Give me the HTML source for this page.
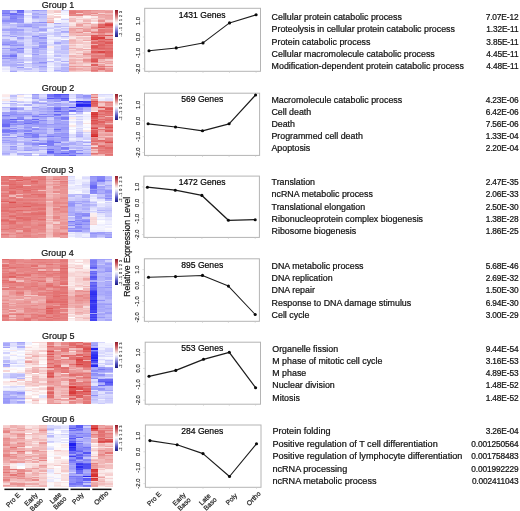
<!DOCTYPE html><html><head><meta charset="utf-8"><style>
*{margin:0;padding:0}
html,body{width:520px;height:511px;background:#fff;overflow:hidden}
body{position:relative;font-family:"Liberation Sans",sans-serif}
.hc{position:absolute}
.lg{position:absolute;width:2.6px;height:26.3px;background:linear-gradient(#8c1c28 0%,#b83c48 12%,#d88080 25%,#f0d0d0 38%,#fafafa 48%,#d8d8f4 58%,#9898e0 70%,#4848b8 85%,#1c1c80 100%)}
svg{position:absolute;left:0;top:0;will-change:transform}
text{font-family:"Liberation Sans",sans-serif;fill:#222}
.gt{font-size:9px;text-anchor:middle;fill:#111;stroke:#111;stroke-width:0.2px}
.gn{font-size:8.6px;text-anchor:middle;fill:#000;stroke:#000;stroke-width:0.2px}
.yt{font-size:5.9px;text-anchor:middle;dominant-baseline:middle;fill:#1a1a1a;stroke:#1a1a1a;stroke-width:0.15px}
.lgl{font-size:3.6px;fill:#333;dominant-baseline:middle;stroke:#333;stroke-width:0.15px}
.xl{font-size:6.8px;text-anchor:middle;dominant-baseline:middle;fill:#222;stroke:#222;stroke-width:0.2px}
.go{font-size:8.85px;fill:#111;stroke:#111;stroke-width:0.22px}
.pv{font-size:8.3px;text-anchor:end;fill:#111;stroke:#111;stroke-width:0.22px;letter-spacing:-0.12px}
.axl{font-size:8.7px;text-anchor:middle;fill:#111;stroke:#111;stroke-width:0.2px}
</style></head><body>
<div class="hc" style="left:2.40px;top:10.30px;width:7.37px;height:62.20px;background:linear-gradient(#8585f7 0.00px 1.30px,#8a8af7 1.30px 2.59px,#7474f6 2.59px 3.89px,#9696f8 3.89px 5.18px,#8989f7 5.18px 6.48px,#b6b6fa 6.48px 7.78px,#a6a6f9 7.78px 9.07px,#a0a0f9 9.07px 10.37px,#8c8cf7 10.37px 11.66px,#aaaaf9 11.66px 12.96px,#aeaefa 12.96px 14.25px,#bfbffb 14.25px 15.55px,#d1d1fc 15.55px 16.85px,#cdcdfc 16.85px 18.14px,#bcbcfb 18.14px 19.44px,#a2a2f9 19.44px 20.73px,#cdcdfc 20.73px 22.03px,#bdbdfb 22.03px 23.33px,#d0d0fc 23.33px 24.62px,#ababf9 24.62px 25.92px,#c5c5fb 25.92px 27.21px,#d8d8fc 27.21px 28.51px,#b1b1fa 28.51px 29.80px,#b4b4fa 29.80px 31.10px,#acacf9 31.10px 32.40px,#9d9df8 32.40px 33.69px,#8888f7 33.69px 34.99px,#afaffa 34.99px 36.28px,#d3d3fc 36.28px 37.58px,#9e9ef9 37.58px 38.88px,#c8c8fb 38.88px 40.17px,#bbbbfa 40.17px 41.47px,#bdbdfb 41.47px 42.76px,#b0b0fa 42.76px 44.06px,#babafa 44.06px 45.35px,#8f8ff8 45.35px 46.65px,#b6b6fa 46.65px 47.95px,#9191f8 47.95px 49.24px,#bfbffb 49.24px 50.54px,#b2b2fa 50.54px 51.83px,#b4b4fa 51.83px 53.13px,#bebefb 53.13px 54.43px,#b4b4fa 54.43px 55.72px,#d8d8fc 55.72px 57.02px,#f1f1fe 57.02px 58.31px,#e7e7fd 58.31px 59.61px,#f4f4fe 59.61px 60.90px,#efeffe 60.90px 62.20px)"></div>
<div class="hc" style="left:9.75px;top:10.30px;width:7.37px;height:62.20px;background:linear-gradient(#9d9df8 0.00px 1.30px,#ccccfc 1.30px 2.59px,#6c6cf5 2.59px 3.89px,#6969f5 3.89px 5.18px,#8b8bf7 5.18px 6.48px,#8383f7 6.48px 7.78px,#7a7af6 7.78px 9.07px,#8989f7 9.07px 10.37px,#8a8af7 10.37px 11.66px,#acacf9 11.66px 12.96px,#e2e2fd 12.96px 14.25px,#bcbcfb 14.25px 15.55px,#c4c4fb 15.55px 16.85px,#c3c3fb 16.85px 18.14px,#aaaaf9 18.14px 19.44px,#a0a0f9 19.44px 20.73px,#acacf9 20.73px 22.03px,#a4a4f9 22.03px 23.33px,#adadfa 23.33px 24.62px,#c7c7fb 24.62px 25.92px,#9c9cf8 25.92px 27.21px,#dcdcfd 27.21px 28.51px,#e1e1fd 28.51px 29.80px,#c0c0fb 29.80px 31.10px,#9d9df8 31.10px 32.40px,#9898f8 32.40px 33.69px,#a8a8f9 33.69px 34.99px,#9090f8 34.99px 36.28px,#b6b6fa 36.28px 37.58px,#a2a2f9 37.58px 38.88px,#9393f8 38.88px 40.17px,#9494f8 40.17px 41.47px,#b5b5fa 41.47px 42.76px,#a6a6f9 42.76px 44.06px,#9292f8 44.06px 45.35px,#7373f6 45.35px 46.65px,#a3a3f9 46.65px 47.95px,#9a9af8 47.95px 49.24px,#adadfa 49.24px 50.54px,#bcbcfb 50.54px 51.83px,#b9b9fa 51.83px 53.13px,#b6b6fa 53.13px 54.43px,#ababf9 54.43px 55.72px,#b3b3fa 55.72px 57.02px,#c6c6fb 57.02px 58.31px,#ccccfc 58.31px 59.61px,#c2c2fb 59.61px 60.90px,#a4a4f9 60.90px 62.20px)"></div>
<div class="hc" style="left:17.11px;top:10.30px;width:7.37px;height:62.20px;background:linear-gradient(#5f5ff4 0.00px 1.30px,#6d6df5 1.30px 2.59px,#9b9bf8 2.59px 3.89px,#7878f6 3.89px 5.18px,#8b8bf7 5.18px 6.48px,#9494f8 6.48px 7.78px,#aaaaf9 7.78px 9.07px,#9090f8 9.07px 10.37px,#9595f8 10.37px 11.66px,#9696f8 11.66px 12.96px,#bdbdfb 12.96px 14.25px,#adadfa 14.25px 15.55px,#9c9cf8 15.55px 16.85px,#bdbdfb 16.85px 18.14px,#c8c8fb 18.14px 19.44px,#9f9ff9 19.44px 20.73px,#bdbdfb 20.73px 22.03px,#b2b2fa 22.03px 23.33px,#b2b2fa 23.33px 24.62px,#b8b8fa 24.62px 25.92px,#cfcffc 25.92px 27.21px,#9d9df8 27.21px 28.51px,#babafa 28.51px 29.80px,#cbcbfc 29.80px 31.10px,#d2d2fc 31.10px 32.40px,#b6b6fa 32.40px 33.69px,#a1a1f9 33.69px 34.99px,#9898f8 34.99px 36.28px,#babafa 36.28px 37.58px,#7979f6 37.58px 38.88px,#a8a8f9 38.88px 40.17px,#a0a0f9 40.17px 41.47px,#9b9bf8 41.47px 42.76px,#cbcbfc 42.76px 44.06px,#d5d5fc 44.06px 45.35px,#d2d2fc 45.35px 46.65px,#c9c9fb 46.65px 47.95px,#cacafb 47.95px 49.24px,#b9b9fa 49.24px 50.54px,#c7c7fb 50.54px 51.83px,#a8a8f9 51.83px 53.13px,#dcdcfd 53.13px 54.43px,#aaaaf9 54.43px 55.72px,#d2d2fc 55.72px 57.02px,#9999f8 57.02px 58.31px,#c4c4fb 58.31px 59.61px,#d5d5fc 59.61px 60.90px,#e4e4fd 60.90px 62.20px)"></div>
<div class="hc" style="left:24.46px;top:10.30px;width:7.37px;height:62.20px;background:linear-gradient(#d8d8fc 0.00px 1.30px,#cfcffc 1.30px 2.59px,#f3f3fe 2.59px 3.89px,#f6f6fe 3.89px 5.18px,#d6d6fc 5.18px 6.48px,#e6e6fd 6.48px 7.78px,#f3f3fe 7.78px 9.07px,#efeffe 9.07px 10.37px,#efeffe 10.37px 11.66px,#e4e4fd 11.66px 12.96px,#c9c9fb 12.96px 14.25px,#9e9ef9 14.25px 15.55px,#9393f8 15.55px 16.85px,#bfbffb 16.85px 18.14px,#cfcffc 18.14px 19.44px,#c7c7fb 19.44px 20.73px,#d7d7fc 20.73px 22.03px,#ccccfc 22.03px 23.33px,#bdbdfb 23.33px 24.62px,#c5c5fb 24.62px 25.92px,#dfdffd 25.92px 27.21px,#c8c8fb 27.21px 28.51px,#d8d8fc 28.51px 29.80px,#dbdbfd 29.80px 31.10px,#d6d6fc 31.10px 32.40px,#dadafd 32.40px 33.69px,#d4d4fc 33.69px 34.99px,#d9d9fc 34.99px 36.28px,#cdcdfc 36.28px 37.58px,#d6d6fc 37.58px 38.88px,#e9e9fe 38.88px 40.17px,#ddddfd 40.17px 41.47px,#e3e3fd 41.47px 42.76px,#d6d6fc 42.76px 44.06px,#ddddfd 44.06px 45.35px,#f8f8ff 45.35px 46.65px,#cfcffc 46.65px 47.95px,#d5d5fc 47.95px 49.24px,#cacafb 49.24px 50.54px,#e6e6fd 50.54px 51.83px,#f8f8ff 51.83px 53.13px,#c2c2fb 53.13px 54.43px,#d3d3fc 54.43px 55.72px,#d1d1fc 55.72px 57.02px,#ebebfe 57.02px 58.31px,#bdbdfb 58.31px 59.61px,#ddddfd 59.61px 60.90px,#cecefc 60.90px 62.20px)"></div>
<div class="hc" style="left:31.81px;top:10.30px;width:7.37px;height:62.20px;background:linear-gradient(#9595f8 0.00px 1.30px,#c2c2fb 1.30px 2.59px,#a9a9f9 2.59px 3.89px,#adadfa 3.89px 5.18px,#bbbbfa 5.18px 6.48px,#a2a2f9 6.48px 7.78px,#b9b9fa 7.78px 9.07px,#d2d2fc 9.07px 10.37px,#d9d9fc 10.37px 11.66px,#a3a3f9 11.66px 12.96px,#b6b6fa 12.96px 14.25px,#acacf9 14.25px 15.55px,#b1b1fa 15.55px 16.85px,#a4a4f9 16.85px 18.14px,#b8b8fa 18.14px 19.44px,#c1c1fb 19.44px 20.73px,#b2b2fa 20.73px 22.03px,#d2d2fc 22.03px 23.33px,#cbcbfc 23.33px 24.62px,#b9b9fa 24.62px 25.92px,#8d8df7 25.92px 27.21px,#b1b1fa 27.21px 28.51px,#b5b5fa 28.51px 29.80px,#adadfa 29.80px 31.10px,#aaaaf9 31.10px 32.40px,#bcbcfb 32.40px 33.69px,#bcbcfb 33.69px 34.99px,#d9d9fc 34.99px 36.28px,#b3b3fa 36.28px 37.58px,#9696f8 37.58px 38.88px,#adadfa 38.88px 40.17px,#aaaaf9 40.17px 41.47px,#a9a9f9 41.47px 42.76px,#bcbcfb 42.76px 44.06px,#9b9bf8 44.06px 45.35px,#b9b9fa 45.35px 46.65px,#b2b2fa 46.65px 47.95px,#aeaefa 47.95px 49.24px,#b0b0fa 49.24px 50.54px,#bebefb 50.54px 51.83px,#b4b4fa 51.83px 53.13px,#a9a9f9 53.13px 54.43px,#bbbbfa 54.43px 55.72px,#c3c3fb 55.72px 57.02px,#bcbcfb 57.02px 58.31px,#d7d7fc 58.31px 59.61px,#dbdbfd 59.61px 60.90px,#d4d4fc 60.90px 62.20px)"></div>
<div class="hc" style="left:39.17px;top:10.30px;width:7.37px;height:62.20px;background:linear-gradient(#a5a5f9 0.00px 1.30px,#bebefb 1.30px 2.59px,#c9c9fb 2.59px 3.89px,#a5a5f9 3.89px 5.18px,#c3c3fb 5.18px 6.48px,#bbbbfa 6.48px 7.78px,#c3c3fb 7.78px 9.07px,#cacafb 9.07px 10.37px,#cacafb 10.37px 11.66px,#8d8df7 11.66px 12.96px,#c2c2fb 12.96px 14.25px,#acacf9 14.25px 15.55px,#c8c8fb 15.55px 16.85px,#d0d0fc 16.85px 18.14px,#ababf9 18.14px 19.44px,#a0a0f9 19.44px 20.73px,#c1c1fb 20.73px 22.03px,#ececfe 22.03px 23.33px,#b9b9fa 23.33px 24.62px,#a7a7f9 24.62px 25.92px,#c6c6fb 25.92px 27.21px,#9494f8 27.21px 28.51px,#b4b4fa 28.51px 29.80px,#aeaefa 29.80px 31.10px,#b9b9fa 31.10px 32.40px,#9797f8 32.40px 33.69px,#b1b1fa 33.69px 34.99px,#9898f8 34.99px 36.28px,#9494f8 36.28px 37.58px,#b5b5fa 37.58px 38.88px,#aeaefa 38.88px 40.17px,#c5c5fb 40.17px 41.47px,#bebefb 41.47px 42.76px,#bbbbfa 42.76px 44.06px,#d3d3fc 44.06px 45.35px,#bcbcfb 45.35px 46.65px,#bebefb 46.65px 47.95px,#afaffa 47.95px 49.24px,#b7b7fa 49.24px 50.54px,#b7b7fa 50.54px 51.83px,#8c8cf7 51.83px 53.13px,#a5a5f9 53.13px 54.43px,#bdbdfb 54.43px 55.72px,#9e9ef9 55.72px 57.02px,#b6b6fa 57.02px 58.31px,#bdbdfb 58.31px 59.61px,#cecefc 59.61px 60.90px,#afaffa 60.90px 62.20px)"></div>
<div class="hc" style="left:46.52px;top:10.30px;width:7.37px;height:62.20px;background:linear-gradient(#f7d8d8 0.00px 1.30px,#f7d9d9 1.30px 2.59px,#f9e3e3 2.59px 3.89px,#fdf6f6 3.89px 5.18px,#f9dfdf 5.18px 6.48px,#f7d7d7 6.48px 7.78px,#f3c1c1 7.78px 9.07px,#f7d5d5 9.07px 10.37px,#f2c0c0 10.37px 11.66px,#eb9b9b 11.66px 12.96px,#e4e4fd 12.96px 14.25px,#e8e8fd 14.25px 15.55px,#e9e9fe 15.55px 16.85px,#d7d7fc 16.85px 18.14px,#cdcdfc 18.14px 19.44px,#efeffe 19.44px 20.73px,#e8e8fd 20.73px 22.03px,#dbdbfd 22.03px 23.33px,#d0d0fc 23.33px 24.62px,#eeeefe 24.62px 25.92px,#e0e0fd 25.92px 27.21px,#efeffe 27.21px 28.51px,#e3e3fd 28.51px 29.80px,#f1f1fe 29.80px 31.10px,#f4f4fe 31.10px 32.40px,#e9e9fe 32.40px 33.69px,#d9d9fc 33.69px 34.99px,#dfdffd 34.99px 36.28px,#fceeee 36.28px 37.58px,#ececfe 37.58px 38.88px,#ececfe 38.88px 40.17px,#e8e8fd 40.17px 41.47px,#f8f8ff 41.47px 42.76px,#e5e5fd 42.76px 44.06px,#f9f9ff 44.06px 45.35px,#e8e8fd 45.35px 46.65px,#e3e3fd 46.65px 47.95px,#dcdcfd 47.95px 49.24px,#f5f5fe 49.24px 50.54px,#bdbdfb 50.54px 51.83px,#e2e2fd 51.83px 53.13px,#ececfe 53.13px 54.43px,#ebebfe 54.43px 55.72px,#f9f9ff 55.72px 57.02px,#e3e3fd 57.02px 58.31px,#f0f0fe 58.31px 59.61px,#f3f3fe 59.61px 60.90px,#ebebfe 60.90px 62.20px)"></div>
<div class="hc" style="left:53.87px;top:10.30px;width:7.37px;height:62.20px;background:linear-gradient(#f5cece 0.00px 1.30px,#f3c4c4 1.30px 2.59px,#fefcfc 2.59px 3.89px,#f8dcdc 3.89px 5.18px,#fefeff 5.18px 6.48px,#f5cece 6.48px 7.78px,#fefafa 7.78px 9.07px,#ffffff 9.07px 10.37px,#f2f2fe 10.37px 11.66px,#fdf6f6 11.66px 12.96px,#aaaaf9 12.96px 14.25px,#d9d9fc 14.25px 15.55px,#bcbcfb 15.55px 16.85px,#c6c6fb 16.85px 18.14px,#e6e6fd 18.14px 19.44px,#c8c8fb 19.44px 20.73px,#dadafd 20.73px 22.03px,#bfbffb 22.03px 23.33px,#c3c3fb 23.33px 24.62px,#cecefc 24.62px 25.92px,#ccccfc 25.92px 27.21px,#f2f2fe 27.21px 28.51px,#e2e2fd 28.51px 29.80px,#d9d9fc 29.80px 31.10px,#d3d3fc 31.10px 32.40px,#a6a6f9 32.40px 33.69px,#ccccfc 33.69px 34.99px,#e1e1fd 34.99px 36.28px,#cecefc 36.28px 37.58px,#d5d5fc 37.58px 38.88px,#cfcffc 38.88px 40.17px,#cbcbfc 40.17px 41.47px,#c2c2fb 41.47px 42.76px,#d2d2fc 42.76px 44.06px,#d4d4fc 44.06px 45.35px,#bcbcfb 45.35px 46.65px,#ededfe 46.65px 47.95px,#d0d0fc 47.95px 49.24px,#c5c5fb 49.24px 50.54px,#ebebfe 50.54px 51.83px,#d5d5fc 51.83px 53.13px,#cecefc 53.13px 54.43px,#d3d3fc 54.43px 55.72px,#e0e0fd 55.72px 57.02px,#cecefc 57.02px 58.31px,#c8c8fb 58.31px 59.61px,#a9a9f9 59.61px 60.90px,#ccccfc 60.90px 62.20px)"></div>
<div class="hc" style="left:61.23px;top:10.30px;width:7.37px;height:62.20px;background:linear-gradient(#d5d5fc 0.00px 1.30px,#efeffe 1.30px 2.59px,#f5f5fe 2.59px 3.89px,#efeffe 3.89px 5.18px,#fefeff 5.18px 6.48px,#fffdfd 6.48px 7.78px,#f1f1fe 7.78px 9.07px,#ccccfc 9.07px 10.37px,#eeeefe 10.37px 11.66px,#e8e8fd 11.66px 12.96px,#d5d5fc 12.96px 14.25px,#d9d9fc 14.25px 15.55px,#c1c1fb 15.55px 16.85px,#e8e8fd 16.85px 18.14px,#c8c8fb 18.14px 19.44px,#d7d7fc 19.44px 20.73px,#a7a7f9 20.73px 22.03px,#b1b1fa 22.03px 23.33px,#e0e0fd 23.33px 24.62px,#e9e9fe 24.62px 25.92px,#b5b5fa 25.92px 27.21px,#e0e0fd 27.21px 28.51px,#fafaff 28.51px 29.80px,#bebefb 29.80px 31.10px,#bebefb 31.10px 32.40px,#c0c0fb 32.40px 33.69px,#dadafd 33.69px 34.99px,#bfbffb 34.99px 36.28px,#bcbcfb 36.28px 37.58px,#bbbbfa 37.58px 38.88px,#b7b7fa 38.88px 40.17px,#cacafb 40.17px 41.47px,#c5c5fb 41.47px 42.76px,#c2c2fb 42.76px 44.06px,#d9d9fc 44.06px 45.35px,#cfcffc 45.35px 46.65px,#d9d9fc 46.65px 47.95px,#ddddfd 47.95px 49.24px,#dfdffd 49.24px 50.54px,#afaffa 50.54px 51.83px,#e8e8fd 51.83px 53.13px,#cecefc 53.13px 54.43px,#b7b7fa 54.43px 55.72px,#cfcffc 55.72px 57.02px,#b3b3fa 57.02px 58.31px,#b5b5fa 58.31px 59.61px,#bbbbfa 59.61px 60.90px,#afaffa 60.90px 62.20px)"></div>
<div class="hc" style="left:68.58px;top:10.30px;width:7.37px;height:62.20px;background:linear-gradient(#e68484 0.00px 1.30px,#e47878 1.30px 2.59px,#e47979 2.59px 3.89px,#e88a8a 3.89px 5.18px,#e78585 5.18px 6.48px,#f8dcdc 6.48px 7.78px,#f2bebe 7.78px 9.07px,#f3c2c2 9.07px 10.37px,#f1b9b9 10.37px 11.66px,#f9e1e1 11.66px 12.96px,#fbeaea 12.96px 14.25px,#f9e2e2 14.25px 15.55px,#f4c8c8 15.55px 16.85px,#f4caca 16.85px 18.14px,#eca1a1 18.14px 19.44px,#eda4a4 19.44px 20.73px,#efadad 20.73px 22.03px,#eda6a6 22.03px 23.33px,#f0b6b6 23.33px 24.62px,#f2bebe 24.62px 25.92px,#f8dbdb 25.92px 27.21px,#fae5e5 27.21px 28.51px,#f2bebe 28.51px 29.80px,#efafaf 29.80px 31.10px,#f0b5b5 31.10px 32.40px,#f1b9b9 32.40px 33.69px,#f7d6d6 33.69px 34.99px,#f2bebe 34.99px 36.28px,#f6d3d3 36.28px 37.58px,#efaeae 37.58px 38.88px,#f7d7d7 38.88px 40.17px,#f4c8c8 40.17px 41.47px,#f6d0d0 41.47px 42.76px,#f8dada 42.76px 44.06px,#fae4e4 44.06px 45.35px,#f0b2b2 45.35px 46.65px,#f3c4c4 46.65px 47.95px,#f5cece 47.95px 49.24px,#efb1b1 49.24px 50.54px,#f1baba 50.54px 51.83px,#efb1b1 51.83px 53.13px,#eda3a3 53.13px 54.43px,#f4c6c6 54.43px 55.72px,#ea9797 55.72px 57.02px,#f1bbbb 57.02px 58.31px,#ec9e9e 58.31px 59.61px,#efadad 59.61px 60.90px,#f5cbcb 60.90px 62.20px)"></div>
<div class="hc" style="left:75.93px;top:10.30px;width:7.37px;height:62.20px;background:linear-gradient(#e98f8f 0.00px 1.30px,#e68181 1.30px 2.59px,#f5cece 2.59px 3.89px,#e68383 3.89px 5.18px,#e68484 5.18px 6.48px,#f6d3d3 6.48px 7.78px,#fae5e5 7.78px 9.07px,#f5cccc 9.07px 10.37px,#f9e3e3 10.37px 11.66px,#f6d4d4 11.66px 12.96px,#f2bebe 12.96px 14.25px,#ec9f9f 14.25px 15.55px,#eeabab 15.55px 16.85px,#f6d2d2 16.85px 18.14px,#ea9595 18.14px 19.44px,#f2bdbd 19.44px 20.73px,#efb0b0 20.73px 22.03px,#e88e8e 22.03px 23.33px,#f2bcbc 23.33px 24.62px,#eda3a3 24.62px 25.92px,#f8dcdc 25.92px 27.21px,#f3c4c4 27.21px 28.51px,#f7d8d8 28.51px 29.80px,#f5cdcd 29.80px 31.10px,#f5cbcb 31.10px 32.40px,#f3c4c4 32.40px 33.69px,#fbe9e9 33.69px 34.99px,#f8dada 34.99px 36.28px,#f8dddd 36.28px 37.58px,#f2bebe 37.58px 38.88px,#f0b6b6 38.88px 40.17px,#f2bdbd 40.17px 41.47px,#f8dddd 41.47px 42.76px,#f2bdbd 42.76px 44.06px,#f8dbdb 44.06px 45.35px,#f3c1c1 45.35px 46.65px,#f0b5b5 46.65px 47.95px,#f8dcdc 47.95px 49.24px,#f1b7b7 49.24px 50.54px,#f6d4d4 50.54px 51.83px,#f3c2c2 51.83px 53.13px,#f1bbbb 53.13px 54.43px,#f4c6c6 54.43px 55.72px,#eca1a1 55.72px 57.02px,#f5cccc 57.02px 58.31px,#eeaaaa 58.31px 59.61px,#f2bdbd 59.61px 60.90px,#f6d0d0 60.90px 62.20px)"></div>
<div class="hc" style="left:83.29px;top:10.30px;width:7.37px;height:62.20px;background:linear-gradient(#e88a8a 0.00px 1.30px,#ea9595 1.30px 2.59px,#ea9898 2.59px 3.89px,#e99090 3.89px 5.18px,#f4c6c6 5.18px 6.48px,#fdf4f4 6.48px 7.78px,#f8dede 7.78px 9.07px,#f3c2c2 9.07px 10.37px,#f0b5b5 10.37px 11.66px,#f6d2d2 11.66px 12.96px,#eda5a5 12.96px 14.25px,#f5cdcd 14.25px 15.55px,#f1bbbb 15.55px 16.85px,#f1bbbb 16.85px 18.14px,#eeaaaa 18.14px 19.44px,#eb9b9b 19.44px 20.73px,#e88e8e 20.73px 22.03px,#f7d7d7 22.03px 23.33px,#f0b2b2 23.33px 24.62px,#eda7a7 24.62px 25.92px,#fae5e5 25.92px 27.21px,#f3c2c2 27.21px 28.51px,#f4c8c8 28.51px 29.80px,#eea9a9 29.80px 31.10px,#fbe9e9 31.10px 32.40px,#f5cccc 32.40px 33.69px,#f6d4d4 33.69px 34.99px,#f7d8d8 34.99px 36.28px,#f5cece 36.28px 37.58px,#fbeaea 37.58px 38.88px,#eeaaaa 38.88px 40.17px,#f7d6d6 40.17px 41.47px,#f2c0c0 41.47px 42.76px,#eca0a0 42.76px 44.06px,#e99090 44.06px 45.35px,#f0b3b3 45.35px 46.65px,#f4c8c8 46.65px 47.95px,#f2bcbc 47.95px 49.24px,#e98f8f 49.24px 50.54px,#eb9b9b 50.54px 51.83px,#efb1b1 51.83px 53.13px,#f4c9c9 53.13px 54.43px,#f7d9d9 54.43px 55.72px,#eb9d9d 55.72px 57.02px,#f3c1c1 57.02px 58.31px,#f0b6b6 58.31px 59.61px,#eeabab 59.61px 60.90px,#f8dbdb 60.90px 62.20px)"></div>
<div class="hc" style="left:90.64px;top:10.30px;width:7.37px;height:62.20px;background:linear-gradient(#ea9595 0.00px 1.30px,#eda4a4 1.30px 2.59px,#e78888 2.59px 3.89px,#f3c2c2 3.89px 5.18px,#eca0a0 5.18px 6.48px,#fae7e7 6.48px 7.78px,#f5cbcb 7.78px 9.07px,#f9e2e2 9.07px 10.37px,#f6d1d1 10.37px 11.66px,#f9f9ff 11.66px 12.96px,#f8dddd 12.96px 14.25px,#f0b2b2 14.25px 15.55px,#eda6a6 15.55px 16.85px,#e78989 16.85px 18.14px,#e99090 18.14px 19.44px,#f3c2c2 19.44px 20.73px,#ec9e9e 20.73px 22.03px,#e37575 22.03px 23.33px,#efafaf 23.33px 24.62px,#de5858 24.62px 25.92px,#de5b5b 25.92px 27.21px,#db4949 27.21px 28.51px,#d94040 28.51px 29.80px,#e99292 29.80px 31.10px,#e47a7a 31.10px 32.40px,#e06666 32.40px 33.69px,#efaeae 33.69px 34.99px,#df6060 34.99px 36.28px,#dd5454 36.28px 37.58px,#e06262 37.58px 38.88px,#e57b7b 38.88px 40.17px,#e68282 40.17px 41.47px,#de5a5a 41.47px 42.76px,#e57b7b 42.76px 44.06px,#e98f8f 44.06px 45.35px,#e47979 45.35px 46.65px,#e78888 46.65px 47.95px,#e26c6c 47.95px 49.24px,#de5858 49.24px 50.54px,#dc5050 50.54px 51.83px,#e57f7f 51.83px 53.13px,#efb0b0 53.13px 54.43px,#df5f5f 54.43px 55.72px,#eda4a4 55.72px 57.02px,#e88b8b 57.02px 58.31px,#e78787 58.31px 59.61px,#e37373 59.61px 60.90px,#e99191 60.90px 62.20px)"></div>
<div class="hc" style="left:97.99px;top:10.30px;width:7.37px;height:62.20px;background:linear-gradient(#ec9e9e 0.00px 1.30px,#eda3a3 1.30px 2.59px,#f6d2d2 2.59px 3.89px,#eb9c9c 3.89px 5.18px,#eea9a9 5.18px 6.48px,#eeaaaa 6.48px 7.78px,#f2bfbf 7.78px 9.07px,#eeacac 9.07px 10.37px,#e88e8e 10.37px 11.66px,#f2bfbf 11.66px 12.96px,#eca1a1 12.96px 14.25px,#e16767 14.25px 15.55px,#e16969 15.55px 16.85px,#dc5050 16.85px 18.14px,#eb9d9d 18.14px 19.44px,#e37575 19.44px 20.73px,#e47878 20.73px 22.03px,#e26e6e 22.03px 23.33px,#e88c8c 23.33px 24.62px,#e16767 24.62px 25.92px,#e68080 25.92px 27.21px,#d83e3e 27.21px 28.51px,#e26f6f 28.51px 29.80px,#e47777 29.80px 31.10px,#df5e5e 31.10px 32.40px,#e27070 32.40px 33.69px,#e06363 33.69px 34.99px,#df6060 34.99px 36.28px,#e26d6d 36.28px 37.58px,#df6161 37.58px 38.88px,#e37171 38.88px 40.17px,#e88d8d 40.17px 41.47px,#da4747 41.47px 42.76px,#e68080 42.76px 44.06px,#ea9595 44.06px 45.35px,#e47878 45.35px 46.65px,#e57e7e 46.65px 47.95px,#e57b7b 47.95px 49.24px,#efafaf 49.24px 50.54px,#f2bdbd 50.54px 51.83px,#eca0a0 51.83px 53.13px,#f4caca 53.13px 54.43px,#eca2a2 54.43px 55.72px,#e37474 55.72px 57.02px,#ea9797 57.02px 58.31px,#e37272 58.31px 59.61px,#eeaaaa 59.61px 60.90px,#f0b5b5 60.90px 62.20px)"></div>
<div class="hc" style="left:105.35px;top:10.30px;width:7.37px;height:62.20px;background:linear-gradient(#eeabab 0.00px 1.30px,#ea9898 1.30px 2.59px,#f1bbbb 2.59px 3.89px,#efb1b1 3.89px 5.18px,#eb9d9d 5.18px 6.48px,#eda5a5 6.48px 7.78px,#eda5a5 7.78px 9.07px,#efb1b1 9.07px 10.37px,#f6d3d3 10.37px 11.66px,#eca1a1 11.66px 12.96px,#df6161 12.96px 14.25px,#da4444 14.25px 15.55px,#e16868 15.55px 16.85px,#e37272 16.85px 18.14px,#e88e8e 18.14px 19.44px,#e57c7c 19.44px 20.73px,#e47777 20.73px 22.03px,#e68484 22.03px 23.33px,#efafaf 23.33px 24.62px,#dc5252 24.62px 25.92px,#eeacac 25.92px 27.21px,#eda6a6 27.21px 28.51px,#dd5656 28.51px 29.80px,#e68383 29.80px 31.10px,#e26e6e 31.10px 32.40px,#de5858 32.40px 33.69px,#e57f7f 33.69px 34.99px,#e26d6d 34.99px 36.28px,#e47878 36.28px 37.58px,#e16868 37.58px 38.88px,#e37171 38.88px 40.17px,#e37474 40.17px 41.47px,#df5e5e 41.47px 42.76px,#e06363 42.76px 44.06px,#e16767 44.06px 45.35px,#e06464 45.35px 46.65px,#e68282 46.65px 47.95px,#e88e8e 47.95px 49.24px,#f5cbcb 49.24px 50.54px,#eda3a3 50.54px 51.83px,#f0b3b3 51.83px 53.13px,#eda4a4 53.13px 54.43px,#f5cccc 54.43px 55.72px,#e88a8a 55.72px 57.02px,#f2bebe 57.02px 58.31px,#eb9b9b 58.31px 59.61px,#e88a8a 59.61px 60.90px,#ea9494 60.90px 62.20px)"></div>
<div class="lg" style="left:115.3px;top:10.3px"></div>
<div class="hc" style="left:2.40px;top:94.00px;width:7.37px;height:62.40px;background:linear-gradient(#fceeee 0.00px 1.30px,#fbe9e9 1.30px 2.60px,#f6f6fe 2.60px 3.90px,#f8f8ff 3.90px 5.20px,#fae7e7 5.20px 6.50px,#e4e4fd 6.50px 7.80px,#f2f2fe 7.80px 9.10px,#cacafb 9.10px 10.40px,#f3f3fe 10.40px 11.70px,#f4f4fe 11.70px 13.00px,#b4b4fa 13.00px 14.30px,#d2d2fc 14.30px 15.60px,#dadafd 15.60px 16.90px,#dedefd 16.90px 18.20px,#9d9df8 18.20px 19.50px,#a6a6f9 19.50px 20.80px,#7979f6 20.80px 22.10px,#9b9bf8 22.10px 23.40px,#a8a8f9 23.40px 24.70px,#8a8af7 24.70px 26.00px,#8181f7 26.00px 27.30px,#8080f7 27.30px 28.60px,#7b7bf6 28.60px 29.90px,#6969f5 29.90px 31.20px,#6969f5 31.20px 32.50px,#a7a7f9 32.50px 33.80px,#b2b2fa 33.80px 35.10px,#8585f7 35.10px 36.40px,#7676f6 36.40px 37.70px,#8181f7 37.70px 39.00px,#b6b6fa 39.00px 40.30px,#9999f8 40.30px 41.60px,#d5d5fc 41.60px 42.90px,#9999f8 42.90px 44.20px,#b8b8fa 44.20px 45.50px,#9b9bf8 45.50px 46.80px,#b6b6fa 46.80px 48.10px,#a3a3f9 48.10px 49.40px,#c3c3fb 49.40px 50.70px,#d3d3fc 50.70px 52.00px,#c0c0fb 52.00px 53.30px,#c7c7fb 53.30px 54.60px,#c7c7fb 54.60px 55.90px,#c7c7fb 55.90px 57.20px,#bcbcfb 57.20px 58.50px,#aaaaf9 58.50px 59.80px,#b6b6fa 59.80px 61.10px,#ddddfd 61.10px 62.40px)"></div>
<div class="hc" style="left:9.75px;top:94.00px;width:7.37px;height:62.40px;background:linear-gradient(#eaeafe 0.00px 1.30px,#bdbdfb 1.30px 2.60px,#d6d6fc 2.60px 3.90px,#d4d4fc 3.90px 5.20px,#e3e3fd 5.20px 6.50px,#acacf9 6.50px 7.80px,#e9e9fe 7.80px 9.10px,#b4b4fa 9.10px 10.40px,#c5c5fb 10.40px 11.70px,#dadafd 11.70px 13.00px,#a6a6f9 13.00px 14.30px,#8080f7 14.30px 15.60px,#bcbcfb 15.60px 16.90px,#a6a6f9 16.90px 18.20px,#9696f8 18.20px 19.50px,#8c8cf7 19.50px 20.80px,#a0a0f9 20.80px 22.10px,#a3a3f9 22.10px 23.40px,#b7b7fa 23.40px 24.70px,#5f5ff4 24.70px 26.00px,#9a9af8 26.00px 27.30px,#7979f6 27.30px 28.60px,#a1a1f9 28.60px 29.90px,#8787f7 29.90px 31.20px,#a7a7f9 31.20px 32.50px,#c4c4fb 32.50px 33.80px,#9393f8 33.80px 35.10px,#b7b7fa 35.10px 36.40px,#7575f6 36.40px 37.70px,#9c9cf8 37.70px 39.00px,#9696f8 39.00px 40.30px,#c8c8fb 40.30px 41.60px,#dcdcfd 41.60px 42.90px,#9696f8 42.90px 44.20px,#b8b8fa 44.20px 45.50px,#b2b2fa 45.50px 46.80px,#a2a2f9 46.80px 48.10px,#a3a3f9 48.10px 49.40px,#afaffa 49.40px 50.70px,#d1d1fc 50.70px 52.00px,#9595f8 52.00px 53.30px,#acacf9 53.30px 54.60px,#9b9bf8 54.60px 55.90px,#cbcbfc 55.90px 57.20px,#bebefb 57.20px 58.50px,#dcdcfd 58.50px 59.80px,#e4e4fd 59.80px 61.10px,#eaeafe 61.10px 62.40px)"></div>
<div class="hc" style="left:17.11px;top:94.00px;width:7.37px;height:62.40px;background:linear-gradient(#cfcffc 0.00px 1.30px,#fbecec 1.30px 2.60px,#ececfe 2.60px 3.90px,#fafaff 3.90px 5.20px,#fdf3f3 5.20px 6.50px,#d0d0fc 6.50px 7.80px,#c6c6fb 7.80px 9.10px,#f3f3fe 9.10px 10.40px,#d0d0fc 10.40px 11.70px,#f8f8ff 11.70px 13.00px,#b8b8fa 13.00px 14.30px,#a1a1f9 14.30px 15.60px,#c8c8fb 15.60px 16.90px,#d2d2fc 16.90px 18.20px,#aaaaf9 18.20px 19.50px,#9393f8 19.50px 20.80px,#9e9ef9 20.80px 22.10px,#a1a1f9 22.10px 23.40px,#8c8cf7 23.40px 24.70px,#7979f6 24.70px 26.00px,#d2d2fc 26.00px 27.30px,#9595f8 27.30px 28.60px,#9a9af8 28.60px 29.90px,#8d8df7 29.90px 31.20px,#c0c0fb 31.20px 32.50px,#b3b3fa 32.50px 33.80px,#c7c7fb 33.80px 35.10px,#a4a4f9 35.10px 36.40px,#9898f8 36.40px 37.70px,#b1b1fa 37.70px 39.00px,#c7c7fb 39.00px 40.30px,#babafa 40.30px 41.60px,#8d8df7 41.60px 42.90px,#c6c6fb 42.90px 44.20px,#c5c5fb 44.20px 45.50px,#dadafd 45.50px 46.80px,#b5b5fa 46.80px 48.10px,#b2b2fa 48.10px 49.40px,#dadafd 49.40px 50.70px,#c5c5fb 50.70px 52.00px,#e0e0fd 52.00px 53.30px,#ccccfc 53.30px 54.60px,#cbcbfc 54.60px 55.90px,#babafa 55.90px 57.20px,#ddddfd 57.20px 58.50px,#a9a9f9 58.50px 59.80px,#afaffa 59.80px 61.10px,#d5d5fc 61.10px 62.40px)"></div>
<div class="hc" style="left:24.46px;top:94.00px;width:7.37px;height:62.40px;background:linear-gradient(#e2e2fd 0.00px 1.30px,#fcfcff 1.30px 2.60px,#e2e2fd 2.60px 3.90px,#efeffe 3.90px 5.20px,#fafaff 5.20px 6.50px,#e3e3fd 6.50px 7.80px,#d6d6fc 7.80px 9.10px,#f0f0fe 9.10px 10.40px,#b1b1fa 10.40px 11.70px,#f5f5fe 11.70px 13.00px,#dedefd 13.00px 14.30px,#e6e6fd 14.30px 15.60px,#bfbffb 15.60px 16.90px,#c6c6fb 16.90px 18.20px,#a8a8f9 18.20px 19.50px,#8c8cf7 19.50px 20.80px,#aeaefa 20.80px 22.10px,#b7b7fa 22.10px 23.40px,#cecefc 23.40px 24.70px,#9999f8 24.70px 26.00px,#8787f7 26.00px 27.30px,#8a8af7 27.30px 28.60px,#6f6ff5 28.60px 29.90px,#a3a3f9 29.90px 31.20px,#a3a3f9 31.20px 32.50px,#9191f8 32.50px 33.80px,#a2a2f9 33.80px 35.10px,#aaaaf9 35.10px 36.40px,#8484f7 36.40px 37.70px,#b5b5fa 37.70px 39.00px,#7373f6 39.00px 40.30px,#8f8ff8 40.30px 41.60px,#9d9df8 41.60px 42.90px,#8a8af7 42.90px 44.20px,#c2c2fb 44.20px 45.50px,#bfbffb 45.50px 46.80px,#b6b6fa 46.80px 48.10px,#a2a2f9 48.10px 49.40px,#a1a1f9 49.40px 50.70px,#c1c1fb 50.70px 52.00px,#cacafb 52.00px 53.30px,#aeaefa 53.30px 54.60px,#b1b1fa 54.60px 55.90px,#9999f8 55.90px 57.20px,#e1e1fd 57.20px 58.50px,#a2a2f9 58.50px 59.80px,#b9b9fa 59.80px 61.10px,#acacf9 61.10px 62.40px)"></div>
<div class="hc" style="left:31.81px;top:94.00px;width:7.37px;height:62.40px;background:linear-gradient(#9898f8 0.00px 1.30px,#b2b2fa 1.30px 2.60px,#aeaefa 2.60px 3.90px,#a0a0f9 3.90px 5.20px,#d7d7fc 5.20px 6.50px,#b9b9fa 6.50px 7.80px,#9e9ef9 7.80px 9.10px,#aaaaf9 9.10px 10.40px,#d6d6fc 10.40px 11.70px,#d5d5fc 11.70px 13.00px,#9e9ef9 13.00px 14.30px,#b9b9fa 14.30px 15.60px,#b3b3fa 15.60px 16.90px,#bebefb 16.90px 18.20px,#bfbffb 18.20px 19.50px,#b0b0fa 19.50px 20.80px,#9c9cf8 20.80px 22.10px,#7878f6 22.10px 23.40px,#afaffa 23.40px 24.70px,#6464f5 24.70px 26.00px,#a8a8f9 26.00px 27.30px,#7e7ef6 27.30px 28.60px,#8e8ef7 28.60px 29.90px,#9191f8 29.90px 31.20px,#a6a6f9 31.20px 32.50px,#dfdffd 32.50px 33.80px,#9090f8 33.80px 35.10px,#8888f7 35.10px 36.40px,#b3b3fa 36.40px 37.70px,#a2a2f9 37.70px 39.00px,#9494f8 39.00px 40.30px,#7c7cf6 40.30px 41.60px,#7979f6 41.60px 42.90px,#8585f7 42.90px 44.20px,#b9b9fa 44.20px 45.50px,#8383f7 45.50px 46.80px,#d1d1fc 46.80px 48.10px,#aaaaf9 48.10px 49.40px,#8a8af7 49.40px 50.70px,#a4a4f9 50.70px 52.00px,#b3b3fa 52.00px 53.30px,#bcbcfb 53.30px 54.60px,#a7a7f9 54.60px 55.90px,#adadfa 55.90px 57.20px,#d8d8fc 57.20px 58.50px,#cacafb 58.50px 59.80px,#fcfcff 59.80px 61.10px,#d4d4fc 61.10px 62.40px)"></div>
<div class="hc" style="left:39.17px;top:94.00px;width:7.37px;height:62.40px;background:linear-gradient(#cdcdfc 0.00px 1.30px,#ddddfd 1.30px 2.60px,#d1d1fc 2.60px 3.90px,#ccccfc 3.90px 5.20px,#b5b5fa 5.20px 6.50px,#efeffe 6.50px 7.80px,#bfbffb 7.80px 9.10px,#9c9cf8 9.10px 10.40px,#ccccfc 10.40px 11.70px,#bcbcfb 11.70px 13.00px,#bdbdfb 13.00px 14.30px,#ababf9 14.30px 15.60px,#b9b9fa 15.60px 16.90px,#a7a7f9 16.90px 18.20px,#b8b8fa 18.20px 19.50px,#8282f7 19.50px 20.80px,#b8b8fa 20.80px 22.10px,#8989f7 22.10px 23.40px,#a5a5f9 23.40px 24.70px,#b7b7fa 24.70px 26.00px,#8a8af7 26.00px 27.30px,#a9a9f9 27.30px 28.60px,#a0a0f9 28.60px 29.90px,#9696f8 29.90px 31.20px,#9d9df8 31.20px 32.50px,#adadfa 32.50px 33.80px,#aeaefa 33.80px 35.10px,#9c9cf8 35.10px 36.40px,#aeaefa 36.40px 37.70px,#a6a6f9 37.70px 39.00px,#9e9ef9 39.00px 40.30px,#bdbdfb 40.30px 41.60px,#9a9af8 41.60px 42.90px,#b6b6fa 42.90px 44.20px,#cecefc 44.20px 45.50px,#b0b0fa 45.50px 46.80px,#adadfa 46.80px 48.10px,#b1b1fa 48.10px 49.40px,#7a7af6 49.40px 50.70px,#ececfe 50.70px 52.00px,#9e9ef9 52.00px 53.30px,#cacafb 53.30px 54.60px,#b2b2fa 54.60px 55.90px,#dfdffd 55.90px 57.20px,#dadafd 57.20px 58.50px,#c3c3fb 58.50px 59.80px,#c8c8fb 59.80px 61.10px,#a3a3f9 61.10px 62.40px)"></div>
<div class="hc" style="left:46.52px;top:94.00px;width:7.37px;height:62.40px;background:linear-gradient(#7777f6 0.00px 1.30px,#7676f6 1.30px 2.60px,#8f8ff8 2.60px 3.90px,#5353f4 3.90px 5.20px,#a7a7f9 5.20px 6.50px,#adadfa 6.50px 7.80px,#c0c0fb 7.80px 9.10px,#bcbcfb 9.10px 10.40px,#a8a8f9 10.40px 11.70px,#dadafd 11.70px 13.00px,#9b9bf8 13.00px 14.30px,#9f9ff9 14.30px 15.60px,#afaffa 15.60px 16.90px,#9d9df8 16.90px 18.20px,#aaaaf9 18.20px 19.50px,#9a9af8 19.50px 20.80px,#afaffa 20.80px 22.10px,#8b8bf7 22.10px 23.40px,#cbcbfc 23.40px 24.70px,#d1d1fc 24.70px 26.00px,#b9b9fa 26.00px 27.30px,#bdbdfb 27.30px 28.60px,#c3c3fb 28.60px 29.90px,#9595f8 29.90px 31.20px,#acacf9 31.20px 32.50px,#acacf9 32.50px 33.80px,#c9c9fb 33.80px 35.10px,#babafa 35.10px 36.40px,#c6c6fb 36.40px 37.70px,#c4c4fb 37.70px 39.00px,#c4c4fb 39.00px 40.30px,#9a9af8 40.30px 41.60px,#7777f6 41.60px 42.90px,#aeaefa 42.90px 44.20px,#a2a2f9 44.20px 45.50px,#8c8cf7 45.50px 46.80px,#7676f6 46.80px 48.10px,#7979f6 48.10px 49.40px,#7b7bf6 49.40px 50.70px,#8181f7 50.70px 52.00px,#a6a6f9 52.00px 53.30px,#a5a5f9 53.30px 54.60px,#7171f6 54.60px 55.90px,#9797f8 55.90px 57.20px,#5f5ff4 57.20px 58.50px,#7777f6 58.50px 59.80px,#b1b1fa 59.80px 61.10px,#b9b9fa 61.10px 62.40px)"></div>
<div class="hc" style="left:53.87px;top:94.00px;width:7.37px;height:62.40px;background:linear-gradient(#4e4ef3 0.00px 1.30px,#6363f5 1.30px 2.60px,#7474f6 2.60px 3.90px,#6868f5 3.90px 5.20px,#9d9df8 5.20px 6.50px,#9898f8 6.50px 7.80px,#d4d4fc 7.80px 9.10px,#9c9cf8 9.10px 10.40px,#a9a9f9 10.40px 11.70px,#afaffa 11.70px 13.00px,#7c7cf6 13.00px 14.30px,#6a6af5 14.30px 15.60px,#9696f8 15.60px 16.90px,#5e5ef4 16.90px 18.20px,#ababf9 18.20px 19.50px,#6565f5 19.50px 20.80px,#8080f7 20.80px 22.10px,#acacf9 22.10px 23.40px,#9292f8 23.40px 24.70px,#a2a2f9 24.70px 26.00px,#a1a1f9 26.00px 27.30px,#a6a6f9 27.30px 28.60px,#9898f8 28.60px 29.90px,#9d9df8 29.90px 31.20px,#a6a6f9 31.20px 32.50px,#a1a1f9 32.50px 33.80px,#a1a1f9 33.80px 35.10px,#7070f5 35.10px 36.40px,#9898f8 36.40px 37.70px,#babafa 37.70px 39.00px,#9696f8 39.00px 40.30px,#9b9bf8 40.30px 41.60px,#8c8cf7 41.60px 42.90px,#b5b5fa 42.90px 44.20px,#a8a8f9 44.20px 45.50px,#a3a3f9 45.50px 46.80px,#a0a0f9 46.80px 48.10px,#7373f6 48.10px 49.40px,#bbbbfa 49.40px 50.70px,#a7a7f9 50.70px 52.00px,#9797f8 52.00px 53.30px,#a3a3f9 53.30px 54.60px,#9999f8 54.60px 55.90px,#9a9af8 55.90px 57.20px,#9e9ef9 57.20px 58.50px,#7a7af6 58.50px 59.80px,#8a8af7 59.80px 61.10px,#8383f7 61.10px 62.40px)"></div>
<div class="hc" style="left:61.23px;top:94.00px;width:7.37px;height:62.40px;background:linear-gradient(#5555f4 0.00px 1.30px,#7878f6 1.30px 2.60px,#7f7ff6 2.60px 3.90px,#5151f3 3.90px 5.20px,#7070f5 5.20px 6.50px,#cfcffc 6.50px 7.80px,#cfcffc 7.80px 9.10px,#b7b7fa 9.10px 10.40px,#afaffa 10.40px 11.70px,#d2d2fc 11.70px 13.00px,#8a8af7 13.00px 14.30px,#9797f8 14.30px 15.60px,#a4a4f9 15.60px 16.90px,#7979f6 16.90px 18.20px,#9393f8 18.20px 19.50px,#9494f8 19.50px 20.80px,#bcbcfb 20.80px 22.10px,#a1a1f9 22.10px 23.40px,#7a7af6 23.40px 24.70px,#8383f7 24.70px 26.00px,#c2c2fb 26.00px 27.30px,#a2a2f9 27.30px 28.60px,#a5a5f9 28.60px 29.90px,#9b9bf8 29.90px 31.20px,#a5a5f9 31.20px 32.50px,#9696f8 32.50px 33.80px,#9999f8 33.80px 35.10px,#9a9af8 35.10px 36.40px,#a7a7f9 36.40px 37.70px,#ababf9 37.70px 39.00px,#9292f8 39.00px 40.30px,#9696f8 40.30px 41.60px,#a1a1f9 41.60px 42.90px,#8888f7 42.90px 44.20px,#9c9cf8 44.20px 45.50px,#9a9af8 45.50px 46.80px,#b9b9fa 46.80px 48.10px,#cecefc 48.10px 49.40px,#a2a2f9 49.40px 50.70px,#aaaaf9 50.70px 52.00px,#c9c9fb 52.00px 53.30px,#7c7cf6 53.30px 54.60px,#8a8af7 54.60px 55.90px,#cfcffc 55.90px 57.20px,#9090f8 57.20px 58.50px,#5b5bf4 58.50px 59.80px,#9696f8 59.80px 61.10px,#8383f7 61.10px 62.40px)"></div>
<div class="hc" style="left:68.58px;top:94.00px;width:7.37px;height:62.40px;background:linear-gradient(#d1d1fc 0.00px 1.30px,#ddddfd 1.30px 2.60px,#e5e5fd 2.60px 3.90px,#d8d8fc 3.90px 5.20px,#f8f8ff 5.20px 6.50px,#8c8cf7 6.50px 7.80px,#9696f8 7.80px 9.10px,#d5d5fc 9.10px 10.40px,#b4b4fa 10.40px 11.70px,#b9b9fa 11.70px 13.00px,#4646f3 13.00px 14.30px,#b0b0fa 14.30px 15.60px,#6a6af5 15.60px 16.90px,#6f6ff5 16.90px 18.20px,#f5f5fe 18.20px 19.50px,#c1c1fb 19.50px 20.80px,#f4f4fe 20.80px 22.10px,#dfdffd 22.10px 23.40px,#fbebeb 23.40px 24.70px,#f1f1fe 24.70px 26.00px,#fef8f8 26.00px 27.30px,#eaeafe 27.30px 28.60px,#fafaff 28.60px 29.90px,#fefafa 29.90px 31.20px,#fae7e7 31.20px 32.50px,#f6f6fe 32.50px 33.80px,#fdfdff 33.80px 35.10px,#ebebfe 35.10px 36.40px,#fefeff 36.40px 37.70px,#f5f5fe 37.70px 39.00px,#f5f5fe 39.00px 40.30px,#d9d9fc 40.30px 41.60px,#e0e0fd 41.60px 42.90px,#d7d7fc 42.90px 44.20px,#f0f0fe 44.20px 45.50px,#e5e5fd 45.50px 46.80px,#d2d2fc 46.80px 48.10px,#afaffa 48.10px 49.40px,#a9a9f9 49.40px 50.70px,#cbcbfc 50.70px 52.00px,#c7c7fb 52.00px 53.30px,#b8b8fa 53.30px 54.60px,#dfdffd 54.60px 55.90px,#8585f7 55.90px 57.20px,#7e7ef6 57.20px 58.50px,#8b8bf7 58.50px 59.80px,#9393f8 59.80px 61.10px,#6969f5 61.10px 62.40px)"></div>
<div class="hc" style="left:75.93px;top:94.00px;width:7.37px;height:62.40px;background:linear-gradient(#ababf9 0.00px 1.30px,#adadfa 1.30px 2.60px,#a4a4f9 2.60px 3.90px,#c1c1fb 3.90px 5.20px,#d5d5fc 5.20px 6.50px,#1f1ff0 6.50px 7.80px,#6565f5 7.80px 9.10px,#5d5df4 9.10px 10.40px,#2222f0 10.40px 11.70px,#2e2ef1 11.70px 13.00px,#9c9cf8 13.00px 14.30px,#9393f8 14.30px 15.60px,#a9a9f9 15.60px 16.90px,#8989f7 16.90px 18.20px,#c0c0fb 18.20px 19.50px,#dadafd 19.50px 20.80px,#f3f3fe 20.80px 22.10px,#cecefc 22.10px 23.40px,#e5e5fd 23.40px 24.70px,#d0d0fc 24.70px 26.00px,#efeffe 26.00px 27.30px,#d3d3fc 27.30px 28.60px,#d7d7fc 28.60px 29.90px,#d8d8fc 29.90px 31.20px,#e2e2fd 31.20px 32.50px,#eeeefe 32.50px 33.80px,#d6d6fc 33.80px 35.10px,#e2e2fd 35.10px 36.40px,#d5d5fc 36.40px 37.70px,#b7b7fa 37.70px 39.00px,#c5c5fb 39.00px 40.30px,#b4b4fa 40.30px 41.60px,#ababf9 41.60px 42.90px,#cacafb 42.90px 44.20px,#dedefd 44.20px 45.50px,#dfdffd 45.50px 46.80px,#adadfa 46.80px 48.10px,#c3c3fb 48.10px 49.40px,#bebefb 49.40px 50.70px,#babafa 50.70px 52.00px,#cfcffc 52.00px 53.30px,#b1b1fa 53.30px 54.60px,#c9c9fb 54.60px 55.90px,#9696f8 55.90px 57.20px,#c4c4fb 57.20px 58.50px,#7979f6 58.50px 59.80px,#b2b2fa 59.80px 61.10px,#b0b0fa 61.10px 62.40px)"></div>
<div class="hc" style="left:83.29px;top:94.00px;width:7.37px;height:62.40px;background:linear-gradient(#d9d9fc 0.00px 1.30px,#9292f8 1.30px 2.60px,#9d9df8 2.60px 3.90px,#ababf9 3.90px 5.20px,#c6c6fb 5.20px 6.50px,#3c3cf2 6.50px 7.80px,#4040f2 7.80px 9.10px,#5d5df4 9.10px 10.40px,#2525f0 10.40px 11.70px,#3636f2 11.70px 13.00px,#aaaaf9 13.00px 14.30px,#b5b5fa 14.30px 15.60px,#bdbdfb 15.60px 16.90px,#bdbdfb 16.90px 18.20px,#fefcfc 18.20px 19.50px,#ececfe 19.50px 20.80px,#f1f1fe 20.80px 22.10px,#e7e7fd 22.10px 23.40px,#f0f0fe 23.40px 24.70px,#f1f1fe 24.70px 26.00px,#fbfbff 26.00px 27.30px,#fefafa 27.30px 28.60px,#f9e3e3 28.60px 29.90px,#fdfdff 29.90px 31.20px,#f9f9ff 31.20px 32.50px,#efeffe 32.50px 33.80px,#fdfdff 33.80px 35.10px,#fffdfd 35.10px 36.40px,#fae7e7 36.40px 37.70px,#d7d7fc 37.70px 39.00px,#eeeefe 39.00px 40.30px,#dadafd 40.30px 41.60px,#dbdbfd 41.60px 42.90px,#d3d3fc 42.90px 44.20px,#cfcffc 44.20px 45.50px,#f5f5fe 45.50px 46.80px,#cacafb 46.80px 48.10px,#a3a3f9 48.10px 49.40px,#e4e4fd 49.40px 50.70px,#a9a9f9 50.70px 52.00px,#d7d7fc 52.00px 53.30px,#c7c7fb 53.30px 54.60px,#b0b0fa 54.60px 55.90px,#cecefc 55.90px 57.20px,#c1c1fb 57.20px 58.50px,#a9a9f9 58.50px 59.80px,#bfbffb 59.80px 61.10px,#b0b0fa 61.10px 62.40px)"></div>
<div class="hc" style="left:90.64px;top:94.00px;width:7.37px;height:62.40px;background:linear-gradient(#e88e8e 0.00px 1.30px,#f0b3b3 1.30px 2.60px,#e47777 2.60px 3.90px,#f3c5c5 3.90px 5.20px,#e99090 5.20px 6.50px,#db4949 6.50px 7.80px,#e06363 7.80px 9.10px,#de5858 9.10px 10.40px,#e06464 10.40px 11.70px,#e37171 11.70px 13.00px,#f3c2c2 13.00px 14.30px,#f4caca 14.30px 15.60px,#f5cfcf 15.60px 16.90px,#fae8e8 16.90px 18.20px,#d94141 18.20px 19.50px,#d73535 19.50px 20.80px,#db4d4d 20.80px 22.10px,#d83d3d 22.10px 23.40px,#de5959 23.40px 24.70px,#e37171 24.70px 26.00px,#db4b4b 26.00px 27.30px,#df6060 27.30px 28.60px,#dd5454 28.60px 29.90px,#e26f6f 29.90px 31.20px,#e78585 31.20px 32.50px,#e06464 32.50px 33.80px,#da4646 33.80px 35.10px,#e78686 35.10px 36.40px,#df5d5d 36.40px 37.70px,#dd5656 37.70px 39.00px,#de5858 39.00px 40.30px,#d73939 40.30px 41.60px,#d42727 41.60px 42.90px,#ea9797 42.90px 44.20px,#e68080 44.20px 45.50px,#e47676 45.50px 46.80px,#e16a6a 46.80px 48.10px,#ea9797 48.10px 49.40px,#e47777 49.40px 50.70px,#f2bcbc 50.70px 52.00px,#f8dcdc 52.00px 53.30px,#e57f7f 53.30px 54.60px,#f3c2c2 54.60px 55.90px,#eca2a2 55.90px 57.20px,#f3c4c4 57.20px 58.50px,#e37272 58.50px 59.80px,#e99393 59.80px 61.10px,#f2bdbd 61.10px 62.40px)"></div>
<div class="hc" style="left:97.99px;top:94.00px;width:7.37px;height:62.40px;background:linear-gradient(#d8d8fc 0.00px 1.30px,#e5e5fd 1.30px 2.60px,#fef8f8 2.60px 3.90px,#f5f5fe 3.90px 5.20px,#eaeafe 5.20px 6.50px,#eea9a9 6.50px 7.80px,#eb9d9d 7.80px 9.10px,#f3c5c5 9.10px 10.40px,#f4c9c9 10.40px 11.70px,#eca1a1 11.70px 13.00px,#db4949 13.00px 14.30px,#efb0b0 14.30px 15.60px,#e16969 15.60px 16.90px,#e06666 16.90px 18.20px,#e68181 18.20px 19.50px,#e16b6b 19.50px 20.80px,#e78989 20.80px 22.10px,#e37171 22.10px 23.40px,#e99191 23.40px 24.70px,#e26c6c 24.70px 26.00px,#e78787 26.00px 27.30px,#df6161 27.30px 28.60px,#e57b7b 28.60px 29.90px,#e37373 29.90px 31.20px,#e57e7e 31.20px 32.50px,#eb9999 32.50px 33.80px,#f1bbbb 33.80px 35.10px,#e37474 35.10px 36.40px,#ec9f9f 36.40px 37.70px,#f0b4b4 37.70px 39.00px,#eea9a9 39.00px 40.30px,#eca2a2 40.30px 41.60px,#f1b7b7 41.60px 42.90px,#ec9f9f 42.90px 44.20px,#f2bcbc 44.20px 45.50px,#e06565 45.50px 46.80px,#e37373 46.80px 48.10px,#e99393 48.10px 49.40px,#eda3a3 49.40px 50.70px,#e47777 50.70px 52.00px,#e06666 52.00px 53.30px,#e47a7a 53.30px 54.60px,#e78686 54.60px 55.90px,#e37272 55.90px 57.20px,#e68383 57.20px 58.50px,#e68080 58.50px 59.80px,#f0b3b3 59.80px 61.10px,#f2bfbf 61.10px 62.40px)"></div>
<div class="hc" style="left:105.35px;top:94.00px;width:7.37px;height:62.40px;background:linear-gradient(#d8d8fc 0.00px 1.30px,#eaeafe 1.30px 2.60px,#f3f3fe 2.60px 3.90px,#e5e5fd 3.90px 5.20px,#dfdffd 5.20px 6.50px,#efafaf 6.50px 7.80px,#e57b7b 7.80px 9.10px,#ea9696 9.10px 10.40px,#ea9494 10.40px 11.70px,#efaeae 11.70px 13.00px,#e16b6b 13.00px 14.30px,#de5858 14.30px 15.60px,#e47979 15.60px 16.90px,#df5e5e 16.90px 18.20px,#e26e6e 18.20px 19.50px,#e47777 19.50px 20.80px,#e26f6f 20.80px 22.10px,#f1b7b7 22.10px 23.40px,#e47a7a 23.40px 24.70px,#e26e6e 24.70px 26.00px,#e16969 26.00px 27.30px,#e57f7f 27.30px 28.60px,#f0b5b5 28.60px 29.90px,#e78787 29.90px 31.20px,#e16868 31.20px 32.50px,#dc4f4f 32.50px 33.80px,#e47777 33.80px 35.10px,#e47a7a 35.10px 36.40px,#de5c5c 36.40px 37.70px,#efadad 37.70px 39.00px,#eea8a8 39.00px 40.30px,#ea9898 40.30px 41.60px,#f4c7c7 41.60px 42.90px,#ec9e9e 42.90px 44.20px,#e68282 44.20px 45.50px,#e57b7b 45.50px 46.80px,#e16a6a 46.80px 48.10px,#dc4e4e 48.10px 49.40px,#e88e8e 49.40px 50.70px,#e78585 50.70px 52.00px,#e68484 52.00px 53.30px,#e16969 53.30px 54.60px,#e47979 54.60px 55.90px,#e47878 55.90px 57.20px,#e57c7c 57.20px 58.50px,#e88c8c 58.50px 59.80px,#e37373 59.80px 61.10px,#e57f7f 61.10px 62.40px)"></div>
<div class="lg" style="left:115.3px;top:94.0px"></div>
<div class="hc" style="left:1.30px;top:175.90px;width:7.40px;height:62.00px;background:linear-gradient(#e26c6c 0.00px 1.29px,#e47a7a 1.29px 2.58px,#e47777 2.58px 3.88px,#e37474 3.88px 5.17px,#e78989 5.17px 6.46px,#e37373 6.46px 7.75px,#e57c7c 7.75px 9.04px,#f1b9b9 9.04px 10.33px,#e68282 10.33px 11.62px,#e57e7e 11.62px 12.92px,#e57f7f 12.92px 14.21px,#e47979 14.21px 15.50px,#ea9494 15.50px 16.79px,#e47979 16.79px 18.08px,#e68383 18.08px 19.38px,#e47878 19.38px 20.67px,#e88d8d 20.67px 21.96px,#e88c8c 21.96px 23.25px,#e57c7c 23.25px 24.54px,#e06363 24.54px 25.83px,#ea9595 25.83px 27.12px,#e78686 27.12px 28.42px,#e57c7c 28.42px 29.71px,#e47a7a 29.71px 31.00px,#e37474 31.00px 32.29px,#e47a7a 32.29px 33.58px,#e26d6d 33.58px 34.88px,#e37171 34.88px 36.17px,#e88a8a 36.17px 37.46px,#e57f7f 37.46px 38.75px,#e78686 38.75px 40.04px,#e57d7d 40.04px 41.33px,#e88a8a 41.33px 42.62px,#e37272 42.62px 43.92px,#e16868 43.92px 45.21px,#e37474 45.21px 46.50px,#e78686 46.50px 47.79px,#e57e7e 47.79px 49.08px,#e99292 49.08px 50.38px,#e88b8b 50.38px 51.67px,#e88a8a 51.67px 52.96px,#e47777 52.96px 54.25px,#e88c8c 54.25px 55.54px,#eda3a3 55.54px 56.83px,#ea9898 56.83px 58.12px,#e47777 58.12px 59.42px,#e88d8d 59.42px 60.71px,#e99191 60.71px 62.00px)"></div>
<div class="hc" style="left:8.68px;top:175.90px;width:7.40px;height:62.00px;background:linear-gradient(#df5d5d 0.00px 1.29px,#e37373 1.29px 2.58px,#efb0b0 2.58px 3.88px,#e27070 3.88px 5.17px,#e37171 5.17px 6.46px,#e37272 6.46px 7.75px,#e06666 7.75px 9.04px,#e37474 9.04px 10.33px,#e27070 10.33px 11.62px,#e06565 11.62px 12.92px,#e68080 12.92px 14.21px,#e57e7e 14.21px 15.50px,#e16b6b 15.50px 16.79px,#e16969 16.79px 18.08px,#e88e8e 18.08px 19.38px,#f1b8b8 19.38px 20.67px,#e47a7a 20.67px 21.96px,#e47878 21.96px 23.25px,#e78888 23.25px 24.54px,#e37474 24.54px 25.83px,#dc4e4e 25.83px 27.12px,#e37575 27.12px 28.42px,#e37575 28.42px 29.71px,#e47676 29.71px 31.00px,#e16b6b 31.00px 32.29px,#e78787 32.29px 33.58px,#e47878 33.58px 34.88px,#e27070 34.88px 36.17px,#e37373 36.17px 37.46px,#e88a8a 37.46px 38.75px,#e37272 38.75px 40.04px,#e16868 40.04px 41.33px,#e57d7d 41.33px 42.62px,#ea9797 42.62px 43.92px,#e57c7c 43.92px 45.21px,#e16969 45.21px 46.50px,#e26d6d 46.50px 47.79px,#e57d7d 47.79px 49.08px,#e68484 49.08px 50.38px,#e68181 50.38px 51.67px,#e37575 51.67px 52.96px,#e78888 52.96px 54.25px,#e78989 54.25px 55.54px,#ea9494 55.54px 56.83px,#ec9f9f 56.83px 58.12px,#e88e8e 58.12px 59.42px,#eda3a3 59.42px 60.71px,#ea9696 60.71px 62.00px)"></div>
<div class="hc" style="left:16.06px;top:175.90px;width:7.40px;height:62.00px;background:linear-gradient(#e26f6f 0.00px 1.29px,#e37171 1.29px 2.58px,#e68181 2.58px 3.88px,#de5c5c 3.88px 5.17px,#e88d8d 5.17px 6.46px,#e57b7b 6.46px 7.75px,#e37272 7.75px 9.04px,#e47777 9.04px 10.33px,#e16868 10.33px 11.62px,#e47a7a 11.62px 12.92px,#e37373 12.92px 14.21px,#e78787 14.21px 15.50px,#e68484 15.50px 16.79px,#e57e7e 16.79px 18.08px,#f2bcbc 18.08px 19.38px,#e78686 19.38px 20.67px,#f3c1c1 20.67px 21.96px,#e78686 21.96px 23.25px,#e47676 23.25px 24.54px,#e78585 24.54px 25.83px,#e57c7c 25.83px 27.12px,#e57e7e 27.12px 28.42px,#e47676 28.42px 29.71px,#e26f6f 29.71px 31.00px,#e57e7e 31.00px 32.29px,#e78686 32.29px 33.58px,#e16767 33.58px 34.88px,#e68282 34.88px 36.17px,#e68484 36.17px 37.46px,#e57b7b 37.46px 38.75px,#e47979 38.75px 40.04px,#e78787 40.04px 41.33px,#e16868 41.33px 42.62px,#e47a7a 42.62px 43.92px,#e47a7a 43.92px 45.21px,#e57b7b 45.21px 46.50px,#e99191 46.50px 47.79px,#e68181 47.79px 49.08px,#e57c7c 49.08px 50.38px,#e57c7c 50.38px 51.67px,#e78989 51.67px 52.96px,#e57b7b 52.96px 54.25px,#efb1b1 54.25px 55.54px,#e98f8f 55.54px 56.83px,#e57d7d 56.83px 58.12px,#e98f8f 58.12px 59.42px,#e88e8e 59.42px 60.71px,#e78989 60.71px 62.00px)"></div>
<div class="hc" style="left:23.44px;top:175.90px;width:7.40px;height:62.00px;background:linear-gradient(#f1b8b8 0.00px 1.29px,#e47777 1.29px 2.58px,#e16969 2.58px 3.88px,#e57f7f 3.88px 5.17px,#e68282 5.17px 6.46px,#e57f7f 6.46px 7.75px,#e68080 7.75px 9.04px,#f2c0c0 9.04px 10.33px,#e47777 10.33px 11.62px,#e37373 11.62px 12.92px,#e47a7a 12.92px 14.21px,#e16868 14.21px 15.50px,#e37575 15.50px 16.79px,#e68484 16.79px 18.08px,#e88d8d 18.08px 19.38px,#e47878 19.38px 20.67px,#e68484 20.67px 21.96px,#e88d8d 21.96px 23.25px,#e57d7d 23.25px 24.54px,#e78686 24.54px 25.83px,#e47979 25.83px 27.12px,#e26d6d 27.12px 28.42px,#e47979 28.42px 29.71px,#de5b5b 29.71px 31.00px,#e68181 31.00px 32.29px,#e78585 32.29px 33.58px,#e37373 33.58px 34.88px,#ea9595 34.88px 36.17px,#eb9d9d 36.17px 37.46px,#e37272 37.46px 38.75px,#e47878 38.75px 40.04px,#e68383 40.04px 41.33px,#e27070 41.33px 42.62px,#e16b6b 42.62px 43.92px,#e37272 43.92px 45.21px,#e68080 45.21px 46.50px,#e68383 46.50px 47.79px,#e68181 47.79px 49.08px,#e68181 49.08px 50.38px,#e99191 50.38px 51.67px,#e57b7b 51.67px 52.96px,#e57b7b 52.96px 54.25px,#e37575 54.25px 55.54px,#e78888 55.54px 56.83px,#e78989 56.83px 58.12px,#e88b8b 58.12px 59.42px,#e68181 59.42px 60.71px,#e99090 60.71px 62.00px)"></div>
<div class="hc" style="left:30.82px;top:175.90px;width:7.40px;height:62.00px;background:linear-gradient(#e78585 0.00px 1.29px,#e47a7a 1.29px 2.58px,#e88b8b 2.58px 3.88px,#e47979 3.88px 5.17px,#df6161 5.17px 6.46px,#e37272 6.46px 7.75px,#e78686 7.75px 9.04px,#e78585 9.04px 10.33px,#e47878 10.33px 11.62px,#e68080 11.62px 12.92px,#e37171 12.92px 14.21px,#e88b8b 14.21px 15.50px,#e57e7e 15.50px 16.79px,#e78585 16.79px 18.08px,#e26c6c 18.08px 19.38px,#e68181 19.38px 20.67px,#e68080 20.67px 21.96px,#e99090 21.96px 23.25px,#e57b7b 23.25px 24.54px,#e88e8e 24.54px 25.83px,#e68181 25.83px 27.12px,#e37575 27.12px 28.42px,#e27070 28.42px 29.71px,#e47a7a 29.71px 31.00px,#e68484 31.00px 32.29px,#e47777 32.29px 33.58px,#e47a7a 33.58px 34.88px,#e99090 34.88px 36.17px,#e47878 36.17px 37.46px,#e26e6e 37.46px 38.75px,#e47a7a 38.75px 40.04px,#e57b7b 40.04px 41.33px,#e57b7b 41.33px 42.62px,#e47979 42.62px 43.92px,#e98f8f 43.92px 45.21px,#e88a8a 45.21px 46.50px,#e99393 46.50px 47.79px,#e88b8b 47.79px 49.08px,#e78989 49.08px 50.38px,#e68383 50.38px 51.67px,#e78585 51.67px 52.96px,#e99191 52.96px 54.25px,#e98f8f 54.25px 55.54px,#e88b8b 55.54px 56.83px,#ea9797 56.83px 58.12px,#eb9b9b 58.12px 59.42px,#e98f8f 59.42px 60.71px,#e88d8d 60.71px 62.00px)"></div>
<div class="hc" style="left:38.20px;top:175.90px;width:7.40px;height:62.00px;background:linear-gradient(#e47878 0.00px 1.29px,#e47a7a 1.29px 2.58px,#e37474 2.58px 3.88px,#e68383 3.88px 5.17px,#e68383 5.17px 6.46px,#e78686 6.46px 7.75px,#e68181 7.75px 9.04px,#e57c7c 9.04px 10.33px,#e37575 10.33px 11.62px,#e57c7c 11.62px 12.92px,#e68282 12.92px 14.21px,#f2bfbf 14.21px 15.50px,#e78585 15.50px 16.79px,#e78686 16.79px 18.08px,#e26c6c 18.08px 19.38px,#e37272 19.38px 20.67px,#e68080 20.67px 21.96px,#e88c8c 21.96px 23.25px,#e68383 23.25px 24.54px,#e88e8e 24.54px 25.83px,#e78585 25.83px 27.12px,#e78585 27.12px 28.42px,#e37171 28.42px 29.71px,#e57d7d 29.71px 31.00px,#e57e7e 31.00px 32.29px,#e26e6e 32.29px 33.58px,#e78787 33.58px 34.88px,#e57e7e 34.88px 36.17px,#e37272 36.17px 37.46px,#e26c6c 37.46px 38.75px,#e57f7f 38.75px 40.04px,#e47979 40.04px 41.33px,#e68484 41.33px 42.62px,#e26c6c 42.62px 43.92px,#e57e7e 43.92px 45.21px,#e99191 45.21px 46.50px,#e78989 46.50px 47.79px,#e57e7e 47.79px 49.08px,#e47878 49.08px 50.38px,#e78686 50.38px 51.67px,#e78888 51.67px 52.96px,#e68282 52.96px 54.25px,#e88a8a 54.25px 55.54px,#ea9696 55.54px 56.83px,#eda6a6 56.83px 58.12px,#e78888 58.12px 59.42px,#e99090 59.42px 60.71px,#eb9d9d 60.71px 62.00px)"></div>
<div class="hc" style="left:45.58px;top:175.90px;width:7.40px;height:62.00px;background:linear-gradient(#eea8a8 0.00px 1.29px,#efaeae 1.29px 2.58px,#eb9d9d 2.58px 3.88px,#efaeae 3.88px 5.17px,#eda3a3 5.17px 6.46px,#f1b7b7 6.46px 7.75px,#eca0a0 7.75px 9.04px,#eea9a9 9.04px 10.33px,#f1baba 10.33px 11.62px,#efafaf 11.62px 12.92px,#f0b3b3 12.92px 14.21px,#efb0b0 14.21px 15.50px,#efadad 15.50px 16.79px,#f2bdbd 16.79px 18.08px,#efaeae 18.08px 19.38px,#f1b9b9 19.38px 20.67px,#efb0b0 20.67px 21.96px,#efaeae 21.96px 23.25px,#eb9b9b 23.25px 24.54px,#f4c8c8 24.54px 25.83px,#f0b2b2 25.83px 27.12px,#eeaaaa 27.12px 28.42px,#eeaaaa 28.42px 29.71px,#efb0b0 29.71px 31.00px,#f1bbbb 31.00px 32.29px,#f2bcbc 32.29px 33.58px,#f1bbbb 33.58px 34.88px,#f1bbbb 34.88px 36.17px,#f1bbbb 36.17px 37.46px,#f1bbbb 37.46px 38.75px,#f5cccc 38.75px 40.04px,#efb1b1 40.04px 41.33px,#f0b4b4 41.33px 42.62px,#f4c9c9 42.62px 43.92px,#f0b4b4 43.92px 45.21px,#f4c8c8 45.21px 46.50px,#f0b2b2 46.50px 47.79px,#f3c2c2 47.79px 49.08px,#f5cece 49.08px 50.38px,#f4c8c8 50.38px 51.67px,#f2c0c0 51.67px 52.96px,#f0b5b5 52.96px 54.25px,#f3c1c1 54.25px 55.54px,#f0b5b5 55.54px 56.83px,#f1b9b9 56.83px 58.12px,#f1baba 58.12px 59.42px,#f3c2c2 59.42px 60.71px,#f6d4d4 60.71px 62.00px)"></div>
<div class="hc" style="left:52.96px;top:175.90px;width:7.40px;height:62.00px;background:linear-gradient(#eb9b9b 0.00px 1.29px,#e99393 1.29px 2.58px,#e57e7e 2.58px 3.88px,#f1b7b7 3.88px 5.17px,#e88e8e 5.17px 6.46px,#eda3a3 6.46px 7.75px,#e99090 7.75px 9.04px,#eea8a8 9.04px 10.33px,#e88c8c 10.33px 11.62px,#e99393 11.62px 12.92px,#eda4a4 12.92px 14.21px,#eeaaaa 14.21px 15.50px,#e78989 15.50px 16.79px,#f3c3c3 16.79px 18.08px,#eca1a1 18.08px 19.38px,#eda5a5 19.38px 20.67px,#eca1a1 20.67px 21.96px,#eb9b9b 21.96px 23.25px,#ea9494 23.25px 24.54px,#e99090 24.54px 25.83px,#e78585 25.83px 27.12px,#e78787 27.12px 28.42px,#e99393 28.42px 29.71px,#e88d8d 29.71px 31.00px,#eeaaaa 31.00px 32.29px,#e68383 32.29px 33.58px,#e98f8f 33.58px 34.88px,#eb9a9a 34.88px 36.17px,#e99191 36.17px 37.46px,#eb9999 37.46px 38.75px,#eda3a3 38.75px 40.04px,#e78787 40.04px 41.33px,#e78686 41.33px 42.62px,#eda5a5 42.62px 43.92px,#e99090 43.92px 45.21px,#f0b5b5 45.21px 46.50px,#f5cfcf 46.50px 47.79px,#ea9595 47.79px 49.08px,#eda7a7 49.08px 50.38px,#eea8a8 50.38px 51.67px,#efb0b0 51.67px 52.96px,#eb9d9d 52.96px 54.25px,#ec9f9f 54.25px 55.54px,#ea9494 55.54px 56.83px,#e99090 56.83px 58.12px,#e88e8e 58.12px 59.42px,#e99191 59.42px 60.71px,#f6d0d0 60.71px 62.00px)"></div>
<div class="hc" style="left:60.34px;top:175.90px;width:7.40px;height:62.00px;background:linear-gradient(#e68383 0.00px 1.29px,#e99191 1.29px 2.58px,#e88d8d 2.58px 3.88px,#ec9f9f 3.88px 5.17px,#e47979 5.17px 6.46px,#e78888 6.46px 7.75px,#e99393 7.75px 9.04px,#e78686 9.04px 10.33px,#e99292 10.33px 11.62px,#ea9898 11.62px 12.92px,#e99191 12.92px 14.21px,#ea9494 14.21px 15.50px,#e99393 15.50px 16.79px,#e99393 16.79px 18.08px,#eca0a0 18.08px 19.38px,#eb9c9c 19.38px 20.67px,#e88e8e 20.67px 21.96px,#e78989 21.96px 23.25px,#ea9696 23.25px 24.54px,#eb9a9a 24.54px 25.83px,#e88b8b 25.83px 27.12px,#e78989 27.12px 28.42px,#ec9e9e 28.42px 29.71px,#e57f7f 29.71px 31.00px,#e78989 31.00px 32.29px,#e99393 32.29px 33.58px,#e98f8f 33.58px 34.88px,#e78686 34.88px 36.17px,#e88d8d 36.17px 37.46px,#eda4a4 37.46px 38.75px,#ec9e9e 38.75px 40.04px,#eda3a3 40.04px 41.33px,#eda3a3 41.33px 42.62px,#eb9999 42.62px 43.92px,#eda5a5 43.92px 45.21px,#eca1a1 45.21px 46.50px,#ea9494 46.50px 47.79px,#ea9797 47.79px 49.08px,#eda7a7 49.08px 50.38px,#e99191 50.38px 51.67px,#e88a8a 51.67px 52.96px,#ec9e9e 52.96px 54.25px,#eeacac 54.25px 55.54px,#eb9999 55.54px 56.83px,#e57b7b 56.83px 58.12px,#e68080 58.12px 59.42px,#eb9c9c 59.42px 60.71px,#ea9898 60.71px 62.00px)"></div>
<div class="hc" style="left:67.72px;top:175.90px;width:7.40px;height:62.00px;background:linear-gradient(#dbdbfd 0.00px 1.29px,#e7e7fd 1.29px 2.58px,#ededfe 2.58px 3.88px,#d7d7fc 3.88px 5.17px,#e8e8fd 5.17px 6.46px,#e1e1fd 6.46px 7.75px,#f0f0fe 7.75px 9.04px,#f5f5fe 9.04px 10.33px,#eaeafe 10.33px 11.62px,#e3e3fd 11.62px 12.92px,#ebebfe 12.92px 14.21px,#f6f6fe 14.21px 15.50px,#f2f2fe 15.50px 16.79px,#f5f5fe 16.79px 18.08px,#bdbdfb 18.08px 19.38px,#b6b6fa 19.38px 20.67px,#d6d6fc 20.67px 21.96px,#d1d1fc 21.96px 23.25px,#cdcdfc 23.25px 24.54px,#a1a1f9 24.54px 25.83px,#a0a0f9 25.83px 27.12px,#9393f8 27.12px 28.42px,#9494f8 28.42px 29.71px,#9e9ef9 29.71px 31.00px,#b0b0fa 31.00px 32.29px,#afaffa 32.29px 33.58px,#b0b0fa 33.58px 34.88px,#acacf9 34.88px 36.17px,#a5a5f9 36.17px 37.46px,#aeaefa 37.46px 38.75px,#a5a5f9 38.75px 40.04px,#dfdffd 40.04px 41.33px,#babafa 41.33px 42.62px,#c6c6fb 42.62px 43.92px,#cacafb 43.92px 45.21px,#7b7bf6 45.21px 46.50px,#9f9ff9 46.50px 47.79px,#b0b0fa 47.79px 49.08px,#8a8af7 49.08px 50.38px,#c8c8fb 50.38px 51.67px,#8d8df7 51.67px 52.96px,#a8a8f9 52.96px 54.25px,#9090f8 54.25px 55.54px,#ededfe 55.54px 56.83px,#e2e2fd 56.83px 58.12px,#f2f2fe 58.12px 59.42px,#e9e9fe 59.42px 60.71px,#fafaff 60.71px 62.00px)"></div>
<div class="hc" style="left:75.10px;top:175.90px;width:7.40px;height:62.00px;background:linear-gradient(#ffffff 0.00px 1.29px,#fdfdff 1.29px 2.58px,#f4f4fe 2.58px 3.88px,#efeffe 3.88px 5.17px,#efeffe 5.17px 6.46px,#f1f1fe 6.46px 7.75px,#f8f8ff 7.75px 9.04px,#e0e0fd 9.04px 10.33px,#e8e8fd 10.33px 11.62px,#e7e7fd 11.62px 12.92px,#f1f1fe 12.92px 14.21px,#ededfe 14.21px 15.50px,#f9f9ff 15.50px 16.79px,#f7f7fe 16.79px 18.08px,#b5b5fa 18.08px 19.38px,#d2d2fc 19.38px 20.67px,#cbcbfc 20.67px 21.96px,#c8c8fb 21.96px 23.25px,#c4c4fb 23.25px 24.54px,#aaaaf9 24.54px 25.83px,#bdbdfb 25.83px 27.12px,#9e9ef9 27.12px 28.42px,#c7c7fb 28.42px 29.71px,#bcbcfb 29.71px 31.00px,#b9b9fa 31.00px 32.29px,#bfbffb 32.29px 33.58px,#c8c8fb 33.58px 34.88px,#b5b5fa 34.88px 36.17px,#b0b0fa 36.17px 37.46px,#9393f8 37.46px 38.75px,#9f9ff9 38.75px 40.04px,#9292f8 40.04px 41.33px,#9797f8 41.33px 42.62px,#a8a8f9 42.62px 43.92px,#8b8bf7 43.92px 45.21px,#a0a0f9 45.21px 46.50px,#9595f8 46.50px 47.79px,#7a7af6 47.79px 49.08px,#a6a6f9 49.08px 50.38px,#8b8bf7 50.38px 51.67px,#9090f8 51.67px 52.96px,#a7a7f9 52.96px 54.25px,#8d8df7 54.25px 55.54px,#dadafd 55.54px 56.83px,#dedefd 56.83px 58.12px,#e2e2fd 58.12px 59.42px,#e0e0fd 59.42px 60.71px,#e7e7fd 60.71px 62.00px)"></div>
<div class="hc" style="left:82.48px;top:175.90px;width:7.40px;height:62.00px;background:linear-gradient(#e8e8fd 0.00px 1.29px,#dcdcfd 1.29px 2.58px,#e9e9fe 2.58px 3.88px,#f0f0fe 3.88px 5.17px,#ebebfe 5.17px 6.46px,#ddddfd 6.46px 7.75px,#cfcffc 7.75px 9.04px,#d2d2fc 9.04px 10.33px,#d9d9fc 10.33px 11.62px,#ececfe 11.62px 12.92px,#e7e7fd 12.92px 14.21px,#e1e1fd 14.21px 15.50px,#dedefd 15.50px 16.79px,#efeffe 16.79px 18.08px,#b8b8fa 18.08px 19.38px,#aeaefa 19.38px 20.67px,#acacf9 20.67px 21.96px,#cdcdfc 21.96px 23.25px,#bbbbfa 23.25px 24.54px,#a1a1f9 24.54px 25.83px,#adadfa 25.83px 27.12px,#bebefb 27.12px 28.42px,#aaaaf9 28.42px 29.71px,#b4b4fa 29.71px 31.00px,#bbbbfa 31.00px 32.29px,#aeaefa 32.29px 33.58px,#c2c2fb 33.58px 34.88px,#bcbcfb 34.88px 36.17px,#c8c8fb 36.17px 37.46px,#8c8cf7 37.46px 38.75px,#8383f7 38.75px 40.04px,#9b9bf8 40.04px 41.33px,#c8c8fb 41.33px 42.62px,#9a9af8 42.62px 43.92px,#8c8cf7 43.92px 45.21px,#8181f7 45.21px 46.50px,#a0a0f9 46.50px 47.79px,#9292f8 47.79px 49.08px,#aaaaf9 49.08px 50.38px,#a8a8f9 50.38px 51.67px,#9494f8 51.67px 52.96px,#a0a0f9 52.96px 54.25px,#aeaefa 54.25px 55.54px,#c6c6fb 55.54px 56.83px,#dfdffd 56.83px 58.12px,#f0f0fe 58.12px 59.42px,#ececfe 59.42px 60.71px,#d7d7fc 60.71px 62.00px)"></div>
<div class="hc" style="left:89.86px;top:175.90px;width:7.40px;height:62.00px;background:linear-gradient(#9292f8 0.00px 1.29px,#9a9af8 1.29px 2.58px,#9e9ef9 2.58px 3.88px,#9d9df8 3.88px 5.17px,#9494f8 5.17px 6.46px,#8585f7 6.46px 7.75px,#8080f7 7.75px 9.04px,#6a6af5 9.04px 10.33px,#6666f5 10.33px 11.62px,#7070f5 11.62px 12.92px,#9999f8 12.92px 14.21px,#7e7ef6 14.21px 15.50px,#8787f7 15.50px 16.79px,#8a8af7 16.79px 18.08px,#eeeefe 18.08px 19.38px,#dadafd 19.38px 20.67px,#ececfe 20.67px 21.96px,#e6e6fd 21.96px 23.25px,#f0f0fe 23.25px 24.54px,#dadafd 24.54px 25.83px,#bfbffb 25.83px 27.12px,#d4d4fc 27.12px 28.42px,#b7b7fa 28.42px 29.71px,#ccccfc 29.71px 31.00px,#d8d8fc 31.00px 32.29px,#e1e1fd 32.29px 33.58px,#ececfe 33.58px 34.88px,#d3d3fc 34.88px 36.17px,#e8e8fd 36.17px 37.46px,#fceeee 37.46px 38.75px,#fbeded 38.75px 40.04px,#fbebeb 40.04px 41.33px,#f7d7d7 41.33px 42.62px,#f6d3d3 42.62px 43.92px,#f8dddd 43.92px 45.21px,#f7d9d9 45.21px 46.50px,#f8dcdc 46.50px 47.79px,#f6d3d3 47.79px 49.08px,#f6f6fe 49.08px 50.38px,#f5f5fe 50.38px 51.67px,#f6f6fe 51.67px 52.96px,#f3f3fe 52.96px 54.25px,#eeeefe 54.25px 55.54px,#aeaefa 55.54px 56.83px,#9292f8 56.83px 58.12px,#a6a6f9 58.12px 59.42px,#a5a5f9 59.42px 60.71px,#b7b7fa 60.71px 62.00px)"></div>
<div class="hc" style="left:97.24px;top:175.90px;width:7.40px;height:62.00px;background:linear-gradient(#8686f7 0.00px 1.29px,#8484f7 1.29px 2.58px,#8080f7 2.58px 3.88px,#7272f6 3.88px 5.17px,#8181f7 5.17px 6.46px,#b3b3fa 6.46px 7.75px,#bcbcfb 7.75px 9.04px,#d5d5fc 9.04px 10.33px,#a3a3f9 10.33px 11.62px,#afaffa 11.62px 12.92px,#9e9ef9 12.92px 14.21px,#a7a7f9 14.21px 15.50px,#adadfa 15.50px 16.79px,#9f9ff9 16.79px 18.08px,#c4c4fb 18.08px 19.38px,#c7c7fb 19.38px 20.67px,#b1b1fa 20.67px 21.96px,#bcbcfb 21.96px 23.25px,#e6e6fd 23.25px 24.54px,#f2f2fe 24.54px 25.83px,#fcfcff 25.83px 27.12px,#e9e9fe 27.12px 28.42px,#e3e3fd 28.42px 29.71px,#e9e9fe 29.71px 31.00px,#d3d3fc 31.00px 32.29px,#cecefc 32.29px 33.58px,#b3b3fa 33.58px 34.88px,#d5d5fc 34.88px 36.17px,#bcbcfb 36.17px 37.46px,#e2e2fd 37.46px 38.75px,#ececfe 38.75px 40.04px,#e3e3fd 40.04px 41.33px,#f3f3fe 41.33px 42.62px,#e6e6fd 42.62px 43.92px,#fbfbff 43.92px 45.21px,#ffffff 45.21px 46.50px,#fafaff 46.50px 47.79px,#efeffe 47.79px 49.08px,#efeffe 49.08px 50.38px,#f5f5fe 50.38px 51.67px,#f3f3fe 51.67px 52.96px,#f4f4fe 52.96px 54.25px,#ececfe 54.25px 55.54px,#9c9cf8 55.54px 56.83px,#a0a0f9 56.83px 58.12px,#a9a9f9 58.12px 59.42px,#bcbcfb 59.42px 60.71px,#d4d4fc 60.71px 62.00px)"></div>
<div class="hc" style="left:104.62px;top:175.90px;width:7.40px;height:62.00px;background:linear-gradient(#bcbcfb 0.00px 1.29px,#b2b2fa 1.29px 2.58px,#bdbdfb 2.58px 3.88px,#9999f8 3.88px 5.17px,#bebefb 5.17px 6.46px,#cbcbfc 6.46px 7.75px,#cacafb 7.75px 9.04px,#aaaaf9 9.04px 10.33px,#bbbbfa 10.33px 11.62px,#c6c6fb 11.62px 12.92px,#afaffa 12.92px 14.21px,#9494f8 14.21px 15.50px,#9292f8 15.50px 16.79px,#9f9ff9 16.79px 18.08px,#a8a8f9 18.08px 19.38px,#9898f8 19.38px 20.67px,#aaaaf9 20.67px 21.96px,#8787f7 21.96px 23.25px,#b1b1fa 23.25px 24.54px,#f2f2fe 24.54px 25.83px,#d1d1fc 25.83px 27.12px,#e2e2fd 27.12px 28.42px,#dbdbfd 28.42px 29.71px,#d4d4fc 29.71px 31.00px,#d1d1fc 31.00px 32.29px,#c7c7fb 32.29px 33.58px,#bbbbfa 33.58px 34.88px,#c8c8fb 34.88px 36.17px,#cacafb 36.17px 37.46px,#d2d2fc 37.46px 38.75px,#cfcffc 38.75px 40.04px,#ccccfc 40.04px 41.33px,#e8e8fd 41.33px 42.62px,#e2e2fd 42.62px 43.92px,#ebebfe 43.92px 45.21px,#f1f1fe 45.21px 46.50px,#f0f0fe 46.50px 47.79px,#e6e6fd 47.79px 49.08px,#fafaff 49.08px 50.38px,#efeffe 50.38px 51.67px,#fefbfb 51.67px 52.96px,#fafaff 52.96px 54.25px,#f4f4fe 54.25px 55.54px,#a5a5f9 55.54px 56.83px,#b3b3fa 56.83px 58.12px,#a0a0f9 58.12px 59.42px,#aaaaf9 59.42px 60.71px,#9494f8 60.71px 62.00px)"></div>
<div class="lg" style="left:115.3px;top:175.9px"></div>
<div class="hc" style="left:1.60px;top:259.20px;width:7.38px;height:61.50px;background:linear-gradient(#e26d6d 0.00px 1.28px,#e78989 1.28px 2.56px,#e88c8c 2.56px 3.84px,#f0b2b2 3.84px 5.12px,#e47777 5.12px 6.41px,#e26f6f 6.41px 7.69px,#e88b8b 7.69px 8.97px,#e37575 8.97px 10.25px,#e88b8b 10.25px 11.53px,#e57d7d 11.53px 12.81px,#e88e8e 12.81px 14.09px,#e57c7c 14.09px 15.38px,#e57d7d 15.38px 16.66px,#e47676 16.66px 17.94px,#e37171 17.94px 19.22px,#e88c8c 19.22px 20.50px,#e26f6f 20.50px 21.78px,#e57d7d 21.78px 23.06px,#e47676 23.06px 24.34px,#e78686 24.34px 25.62px,#e99292 25.62px 26.91px,#e78888 26.91px 28.19px,#f1b8b8 28.19px 29.47px,#e47777 29.47px 30.75px,#eeacac 30.75px 32.03px,#eeabab 32.03px 33.31px,#efafaf 33.31px 34.59px,#efafaf 34.59px 35.88px,#eca2a2 35.88px 37.16px,#e99393 37.16px 38.44px,#eda7a7 38.44px 39.72px,#ec9e9e 39.72px 41.00px,#e99090 41.00px 42.28px,#eea8a8 42.28px 43.56px,#e78787 43.56px 44.84px,#eb9a9a 44.84px 46.12px,#e99191 46.12px 47.41px,#e99090 47.41px 48.69px,#eb9b9b 48.69px 49.97px,#e88d8d 49.97px 51.25px,#eca0a0 51.25px 52.53px,#eb9a9a 52.53px 53.81px,#eea9a9 53.81px 55.09px,#e98f8f 55.09px 56.38px,#e37272 56.38px 57.66px,#e68282 57.66px 58.94px,#e78787 58.94px 60.22px,#e57d7d 60.22px 61.50px)"></div>
<div class="hc" style="left:8.96px;top:259.20px;width:7.38px;height:61.50px;background:linear-gradient(#e68282 0.00px 1.28px,#e57b7b 1.28px 2.56px,#e68282 2.56px 3.84px,#e68080 3.84px 5.12px,#e88b8b 5.12px 6.41px,#e78585 6.41px 7.69px,#e26e6e 7.69px 8.97px,#e47979 8.97px 10.25px,#eb9d9d 10.25px 11.53px,#e88c8c 11.53px 12.81px,#e47676 12.81px 14.09px,#e26d6d 14.09px 15.38px,#e57c7c 15.38px 16.66px,#df6060 16.66px 17.94px,#e16969 17.94px 19.22px,#f2bcbc 19.22px 20.50px,#f0b5b5 20.50px 21.78px,#e37171 21.78px 23.06px,#e16a6a 23.06px 24.34px,#e78585 24.34px 25.62px,#e68080 25.62px 26.91px,#e88c8c 26.91px 28.19px,#e47777 28.19px 29.47px,#e68282 29.47px 30.75px,#eda5a5 30.75px 32.03px,#eb9999 32.03px 33.31px,#ea9595 33.31px 34.59px,#ea9898 34.59px 35.88px,#eda5a5 35.88px 37.16px,#eeacac 37.16px 38.44px,#eca1a1 38.44px 39.72px,#f0b4b4 39.72px 41.00px,#eea8a8 41.00px 42.28px,#eda4a4 42.28px 43.56px,#f1b8b8 43.56px 44.84px,#eb9a9a 44.84px 46.12px,#efb0b0 46.12px 47.41px,#eb9b9b 47.41px 48.69px,#ea9494 48.69px 49.97px,#f3c3c3 49.97px 51.25px,#e78989 51.25px 52.53px,#f3c2c2 52.53px 53.81px,#e99292 53.81px 55.09px,#e68080 55.09px 56.38px,#f2bdbd 56.38px 57.66px,#ea9494 57.66px 58.94px,#f1b9b9 58.94px 60.22px,#e98f8f 60.22px 61.50px)"></div>
<div class="hc" style="left:16.32px;top:259.20px;width:7.38px;height:61.50px;background:linear-gradient(#e88a8a 0.00px 1.28px,#e78989 1.28px 2.56px,#e98f8f 2.56px 3.84px,#ea9595 3.84px 5.12px,#e57e7e 5.12px 6.41px,#e68484 6.41px 7.69px,#e47878 7.69px 8.97px,#e78989 8.97px 10.25px,#e78787 10.25px 11.53px,#e68383 11.53px 12.81px,#e98f8f 12.81px 14.09px,#ea9494 14.09px 15.38px,#e37373 15.38px 16.66px,#e98f8f 16.66px 17.94px,#e47a7a 17.94px 19.22px,#ea9595 19.22px 20.50px,#f3c3c3 20.50px 21.78px,#f3c4c4 21.78px 23.06px,#e68282 23.06px 24.34px,#e57f7f 24.34px 25.62px,#e57f7f 25.62px 26.91px,#ea9696 26.91px 28.19px,#eb9d9d 28.19px 29.47px,#e68383 29.47px 30.75px,#ea9494 30.75px 32.03px,#e88b8b 32.03px 33.31px,#e47878 33.31px 34.59px,#e88a8a 34.59px 35.88px,#e88e8e 35.88px 37.16px,#eda6a6 37.16px 38.44px,#eb9b9b 38.44px 39.72px,#f4caca 39.72px 41.00px,#eda6a6 41.00px 42.28px,#ec9e9e 42.28px 43.56px,#ea9494 43.56px 44.84px,#eca2a2 44.84px 46.12px,#eb9999 46.12px 47.41px,#ea9797 47.41px 48.69px,#eda6a6 48.69px 49.97px,#eca1a1 49.97px 51.25px,#f0b4b4 51.25px 52.53px,#efadad 52.53px 53.81px,#e88e8e 53.81px 55.09px,#e37474 55.09px 56.38px,#e99393 56.38px 57.66px,#e88e8e 57.66px 58.94px,#e98f8f 58.94px 60.22px,#e68181 60.22px 61.50px)"></div>
<div class="hc" style="left:23.68px;top:259.20px;width:7.38px;height:61.50px;background:linear-gradient(#eca1a1 0.00px 1.28px,#e88b8b 1.28px 2.56px,#e68282 2.56px 3.84px,#ea9696 3.84px 5.12px,#e78888 5.12px 6.41px,#e78787 6.41px 7.69px,#e68080 7.69px 8.97px,#e78787 8.97px 10.25px,#e78585 10.25px 11.53px,#e98f8f 11.53px 12.81px,#e78787 12.81px 14.09px,#e68080 14.09px 15.38px,#e37272 15.38px 16.66px,#e78888 16.66px 17.94px,#eca0a0 17.94px 19.22px,#e78989 19.22px 20.50px,#ea9696 20.50px 21.78px,#e99292 21.78px 23.06px,#ea9797 23.06px 24.34px,#e78787 24.34px 25.62px,#e78888 25.62px 26.91px,#e68080 26.91px 28.19px,#e57f7f 28.19px 29.47px,#e68282 29.47px 30.75px,#eca1a1 30.75px 32.03px,#eca2a2 32.03px 33.31px,#efadad 33.31px 34.59px,#eea9a9 34.59px 35.88px,#f5cbcb 35.88px 37.16px,#ea9595 37.16px 38.44px,#f1b9b9 38.44px 39.72px,#eca0a0 39.72px 41.00px,#eca1a1 41.00px 42.28px,#e99292 42.28px 43.56px,#ea9797 43.56px 44.84px,#eda4a4 44.84px 46.12px,#ea9595 46.12px 47.41px,#ea9494 47.41px 48.69px,#e78787 48.69px 49.97px,#e88e8e 49.97px 51.25px,#e88c8c 51.25px 52.53px,#e99292 52.53px 53.81px,#eb9b9b 53.81px 55.09px,#e78989 55.09px 56.38px,#ec9f9f 56.38px 57.66px,#e99090 57.66px 58.94px,#e37474 58.94px 60.22px,#e37171 60.22px 61.50px)"></div>
<div class="hc" style="left:31.04px;top:259.20px;width:7.38px;height:61.50px;background:linear-gradient(#e37272 0.00px 1.28px,#e78787 1.28px 2.56px,#e68484 2.56px 3.84px,#e98f8f 3.84px 5.12px,#e78585 5.12px 6.41px,#e27070 6.41px 7.69px,#eb9a9a 7.69px 8.97px,#e47979 8.97px 10.25px,#e78989 10.25px 11.53px,#e68383 11.53px 12.81px,#e88a8a 12.81px 14.09px,#e57b7b 14.09px 15.38px,#e99393 15.38px 16.66px,#ea9595 16.66px 17.94px,#e88a8a 17.94px 19.22px,#ea9494 19.22px 20.50px,#e47a7a 20.50px 21.78px,#e99191 21.78px 23.06px,#e78686 23.06px 24.34px,#e68080 24.34px 25.62px,#e68181 25.62px 26.91px,#e37474 26.91px 28.19px,#e88d8d 28.19px 29.47px,#e78787 29.47px 30.75px,#e78888 30.75px 32.03px,#e88e8e 32.03px 33.31px,#ea9494 33.31px 34.59px,#e88b8b 34.59px 35.88px,#f4c9c9 35.88px 37.16px,#eda4a4 37.16px 38.44px,#eda4a4 38.44px 39.72px,#eca1a1 39.72px 41.00px,#eda7a7 41.00px 42.28px,#f1bbbb 42.28px 43.56px,#eca2a2 43.56px 44.84px,#eda6a6 44.84px 46.12px,#e78888 46.12px 47.41px,#eb9d9d 47.41px 48.69px,#e88c8c 48.69px 49.97px,#e68383 49.97px 51.25px,#e78989 51.25px 52.53px,#eb9a9a 52.53px 53.81px,#e99393 53.81px 55.09px,#e47a7a 55.09px 56.38px,#e68383 56.38px 57.66px,#e57c7c 57.66px 58.94px,#e57f7f 58.94px 60.22px,#e99393 60.22px 61.50px)"></div>
<div class="hc" style="left:38.40px;top:259.20px;width:7.38px;height:61.50px;background:linear-gradient(#e37474 0.00px 1.28px,#e78888 1.28px 2.56px,#e57d7d 2.56px 3.84px,#e78888 3.84px 5.12px,#e78888 5.12px 6.41px,#eda6a6 6.41px 7.69px,#e99292 7.69px 8.97px,#e57b7b 8.97px 10.25px,#f1baba 10.25px 11.53px,#e26f6f 11.53px 12.81px,#e57f7f 12.81px 14.09px,#e47a7a 14.09px 15.38px,#e78686 15.38px 16.66px,#ea9494 16.66px 17.94px,#e47979 17.94px 19.22px,#e99393 19.22px 20.50px,#e68484 20.50px 21.78px,#e37474 21.78px 23.06px,#ea9898 23.06px 24.34px,#e99393 24.34px 25.62px,#e78888 25.62px 26.91px,#e78989 26.91px 28.19px,#e68181 28.19px 29.47px,#e47a7a 29.47px 30.75px,#e88d8d 30.75px 32.03px,#eb9d9d 32.03px 33.31px,#e68181 33.31px 34.59px,#e57b7b 34.59px 35.88px,#e78686 35.88px 37.16px,#efaeae 37.16px 38.44px,#eca1a1 38.44px 39.72px,#efaeae 39.72px 41.00px,#f0b5b5 41.00px 42.28px,#eea9a9 42.28px 43.56px,#eb9b9b 43.56px 44.84px,#ea9696 44.84px 46.12px,#eb9d9d 46.12px 47.41px,#ec9f9f 47.41px 48.69px,#eb9b9b 48.69px 49.97px,#e68383 49.97px 51.25px,#ea9595 51.25px 52.53px,#e88d8d 52.53px 53.81px,#ea9898 53.81px 55.09px,#e78686 55.09px 56.38px,#e37373 56.38px 57.66px,#e88d8d 57.66px 58.94px,#e78989 58.94px 60.22px,#e57e7e 60.22px 61.50px)"></div>
<div class="hc" style="left:45.76px;top:259.20px;width:7.38px;height:61.50px;background:linear-gradient(#e68080 0.00px 1.28px,#e78888 1.28px 2.56px,#e68484 2.56px 3.84px,#e99090 3.84px 5.12px,#e37373 5.12px 6.41px,#e88e8e 6.41px 7.69px,#e68484 7.69px 8.97px,#e88a8a 8.97px 10.25px,#ea9595 10.25px 11.53px,#e47979 11.53px 12.81px,#e88c8c 12.81px 14.09px,#e78787 14.09px 15.38px,#e47a7a 15.38px 16.66px,#e68383 16.66px 17.94px,#ea9696 17.94px 19.22px,#efb0b0 19.22px 20.50px,#f2bcbc 20.50px 21.78px,#efadad 21.78px 23.06px,#eea8a8 23.06px 24.34px,#e47878 24.34px 25.62px,#e26d6d 25.62px 26.91px,#e37373 26.91px 28.19px,#e68484 28.19px 29.47px,#eb9c9c 29.47px 30.75px,#e57d7d 30.75px 32.03px,#e99090 32.03px 33.31px,#e57b7b 33.31px 34.59px,#e78989 34.59px 35.88px,#e57e7e 35.88px 37.16px,#e78787 37.16px 38.44px,#e68282 38.44px 39.72px,#e47777 39.72px 41.00px,#e37171 41.00px 42.28px,#e06363 42.28px 43.56px,#e78585 43.56px 44.84px,#e88d8d 44.84px 46.12px,#e78585 46.12px 47.41px,#e47777 47.41px 48.69px,#dd5454 48.69px 49.97px,#e37474 49.97px 51.25px,#e06363 51.25px 52.53px,#e26d6d 52.53px 53.81px,#e06464 53.81px 55.09px,#e68484 55.09px 56.38px,#e88a8a 56.38px 57.66px,#e16a6a 57.66px 58.94px,#e78787 58.94px 60.22px,#e47979 60.22px 61.50px)"></div>
<div class="hc" style="left:53.12px;top:259.20px;width:7.38px;height:61.50px;background:linear-gradient(#e78686 0.00px 1.28px,#e88c8c 1.28px 2.56px,#e78585 2.56px 3.84px,#eca0a0 3.84px 5.12px,#e78787 5.12px 6.41px,#e99393 6.41px 7.69px,#e88b8b 7.69px 8.97px,#e98f8f 8.97px 10.25px,#f2bdbd 10.25px 11.53px,#e47979 11.53px 12.81px,#e78989 12.81px 14.09px,#e47777 14.09px 15.38px,#e68383 15.38px 16.66px,#e99393 16.66px 17.94px,#e68080 17.94px 19.22px,#e99191 19.22px 20.50px,#e68181 20.50px 21.78px,#ea9494 21.78px 23.06px,#e98f8f 23.06px 24.34px,#e88e8e 24.34px 25.62px,#e88b8b 25.62px 26.91px,#e47878 26.91px 28.19px,#e37373 28.19px 29.47px,#e78989 29.47px 30.75px,#e57f7f 30.75px 32.03px,#e37171 32.03px 33.31px,#e37474 33.31px 34.59px,#e47676 34.59px 35.88px,#e37373 35.88px 37.16px,#e16868 37.16px 38.44px,#e47676 38.44px 39.72px,#e47878 39.72px 41.00px,#e47676 41.00px 42.28px,#e26c6c 42.28px 43.56px,#e78989 43.56px 44.84px,#e68383 44.84px 46.12px,#ec9e9e 46.12px 47.41px,#e37373 47.41px 48.69px,#e47878 48.69px 49.97px,#e68484 49.97px 51.25px,#e37474 51.25px 52.53px,#e47979 52.53px 53.81px,#e47878 53.81px 55.09px,#e68080 55.09px 56.38px,#e47676 56.38px 57.66px,#e68484 57.66px 58.94px,#e37575 58.94px 60.22px,#e68080 60.22px 61.50px)"></div>
<div class="hc" style="left:60.48px;top:259.20px;width:7.38px;height:61.50px;background:linear-gradient(#e57d7d 0.00px 1.28px,#e47878 1.28px 2.56px,#e68484 2.56px 3.84px,#e78686 3.84px 5.12px,#e68282 5.12px 6.41px,#e37171 6.41px 7.69px,#e57f7f 7.69px 8.97px,#e06666 8.97px 10.25px,#e47979 10.25px 11.53px,#e27070 11.53px 12.81px,#e26f6f 12.81px 14.09px,#e37171 14.09px 15.38px,#e47878 15.38px 16.66px,#e47676 16.66px 17.94px,#e26f6f 17.94px 19.22px,#e57b7b 19.22px 20.50px,#e78787 20.50px 21.78px,#e47979 21.78px 23.06px,#e47777 23.06px 24.34px,#e26e6e 24.34px 25.62px,#f1baba 25.62px 26.91px,#e57e7e 26.91px 28.19px,#e26f6f 28.19px 29.47px,#e47979 29.47px 30.75px,#e57c7c 30.75px 32.03px,#e57b7b 32.03px 33.31px,#e37171 33.31px 34.59px,#e88d8d 34.59px 35.88px,#e26c6c 35.88px 37.16px,#e47979 37.16px 38.44px,#e47a7a 38.44px 39.72px,#e27070 39.72px 41.00px,#e47777 41.00px 42.28px,#e26c6c 42.28px 43.56px,#e57b7b 43.56px 44.84px,#e16b6b 44.84px 46.12px,#e57b7b 46.12px 47.41px,#e47676 47.41px 48.69px,#eeaaaa 48.69px 49.97px,#e57d7d 49.97px 51.25px,#e68383 51.25px 52.53px,#efafaf 52.53px 53.81px,#e78585 53.81px 55.09px,#e47878 55.09px 56.38px,#e68484 56.38px 57.66px,#e57f7f 57.66px 58.94px,#e57e7e 58.94px 60.22px,#e68484 60.22px 61.50px)"></div>
<div class="hc" style="left:67.84px;top:259.20px;width:7.38px;height:61.50px;background:linear-gradient(#f8dbdb 0.00px 1.28px,#fae4e4 1.28px 2.56px,#fae8e8 2.56px 3.84px,#fdf3f3 3.84px 5.12px,#f8dede 5.12px 6.41px,#f9e2e2 6.41px 7.69px,#f5cfcf 7.69px 8.97px,#fae7e7 8.97px 10.25px,#fbeded 10.25px 11.53px,#fae7e7 11.53px 12.81px,#f8dddd 12.81px 14.09px,#f6d3d3 14.09px 15.38px,#f6d4d4 15.38px 16.66px,#f7d8d8 16.66px 17.94px,#fae6e6 17.94px 19.22px,#fae4e4 19.22px 20.50px,#fae4e4 20.50px 21.78px,#f9dfdf 21.78px 23.06px,#fbe9e9 23.06px 24.34px,#fae4e4 24.34px 25.62px,#fbeded 25.62px 26.91px,#f8dada 26.91px 28.19px,#f9e1e1 28.19px 29.47px,#f6d4d4 29.47px 30.75px,#f3c2c2 30.75px 32.03px,#f3c1c1 32.03px 33.31px,#f1b7b7 33.31px 34.59px,#f2c0c0 34.59px 35.88px,#f2bdbd 35.88px 37.16px,#eda6a6 37.16px 38.44px,#eda5a5 38.44px 39.72px,#eea9a9 39.72px 41.00px,#efaeae 41.00px 42.28px,#efaeae 42.28px 43.56px,#eda4a4 43.56px 44.84px,#f0b5b5 44.84px 46.12px,#eeaaaa 46.12px 47.41px,#efb1b1 47.41px 48.69px,#f7d7d7 48.69px 49.97px,#f4c9c9 49.97px 51.25px,#f6d2d2 51.25px 52.53px,#f7d5d5 52.53px 53.81px,#f5cbcb 53.81px 55.09px,#fbeaea 55.09px 56.38px,#f7d9d9 56.38px 57.66px,#ffffff 57.66px 58.94px,#fae5e5 58.94px 60.22px,#fcf2f2 60.22px 61.50px)"></div>
<div class="hc" style="left:75.20px;top:259.20px;width:7.38px;height:61.50px;background:linear-gradient(#f9e2e2 0.00px 1.28px,#fdf7f7 1.28px 2.56px,#f8dbdb 2.56px 3.84px,#fefbfb 3.84px 5.12px,#fceeee 5.12px 6.41px,#f6d2d2 6.41px 7.69px,#f8dcdc 7.69px 8.97px,#f4c6c6 8.97px 10.25px,#fae7e7 10.25px 11.53px,#f7d5d5 11.53px 12.81px,#f7d5d5 12.81px 14.09px,#f8dada 14.09px 15.38px,#f8dbdb 15.38px 16.66px,#f5cece 16.66px 17.94px,#f8dada 17.94px 19.22px,#f5cece 19.22px 20.50px,#f6d0d0 20.50px 21.78px,#f6d2d2 21.78px 23.06px,#f6d4d4 23.06px 24.34px,#f8dddd 24.34px 25.62px,#f4c6c6 25.62px 26.91px,#f6d0d0 26.91px 28.19px,#fae5e5 28.19px 29.47px,#fdf3f3 29.47px 30.75px,#eb9999 30.75px 32.03px,#ea9595 32.03px 33.31px,#eda4a4 33.31px 34.59px,#eda4a4 34.59px 35.88px,#e78686 35.88px 37.16px,#e78686 37.16px 38.44px,#ea9898 38.44px 39.72px,#ea9797 39.72px 41.00px,#e88c8c 41.00px 42.28px,#eb9c9c 42.28px 43.56px,#ec9f9f 43.56px 44.84px,#efb1b1 44.84px 46.12px,#eda5a5 46.12px 47.41px,#ec9f9f 47.41px 48.69px,#f2bebe 48.69px 49.97px,#f1b9b9 49.97px 51.25px,#f3c1c1 51.25px 52.53px,#eea8a8 52.53px 53.81px,#f0b6b6 53.81px 55.09px,#f2c0c0 55.09px 56.38px,#f9e0e0 56.38px 57.66px,#f3c5c5 57.66px 58.94px,#f7d9d9 58.94px 60.22px,#f7d7d7 60.22px 61.50px)"></div>
<div class="hc" style="left:82.56px;top:259.20px;width:7.38px;height:61.50px;background:linear-gradient(#f8dbdb 0.00px 1.28px,#f8dbdb 1.28px 2.56px,#f9dfdf 2.56px 3.84px,#fae5e5 3.84px 5.12px,#fbeded 5.12px 6.41px,#fef9f9 6.41px 7.69px,#fcf2f2 7.69px 8.97px,#fcf1f1 8.97px 10.25px,#fae4e4 10.25px 11.53px,#f8dcdc 11.53px 12.81px,#f3c4c4 12.81px 14.09px,#f6d3d3 14.09px 15.38px,#f8dddd 15.38px 16.66px,#f5cbcb 16.66px 17.94px,#f4c6c6 17.94px 19.22px,#eeaaaa 19.22px 20.50px,#f1b7b7 20.50px 21.78px,#f7d7d7 21.78px 23.06px,#f6d1d1 23.06px 24.34px,#f6d0d0 24.34px 25.62px,#f8dede 25.62px 26.91px,#f1b8b8 26.91px 28.19px,#f7d9d9 28.19px 29.47px,#f1bbbb 29.47px 30.75px,#f0b4b4 30.75px 32.03px,#e88b8b 32.03px 33.31px,#eda5a5 33.31px 34.59px,#e99191 34.59px 35.88px,#ea9595 35.88px 37.16px,#ea9797 37.16px 38.44px,#e88c8c 38.44px 39.72px,#eb9a9a 39.72px 41.00px,#ea9696 41.00px 42.28px,#eda3a3 42.28px 43.56px,#efafaf 43.56px 44.84px,#efb1b1 44.84px 46.12px,#f1b7b7 46.12px 47.41px,#f7d9d9 47.41px 48.69px,#f2bfbf 48.69px 49.97px,#f4c7c7 49.97px 51.25px,#f1b9b9 51.25px 52.53px,#f2bebe 52.53px 53.81px,#f1baba 53.81px 55.09px,#f9e2e2 55.09px 56.38px,#f7d5d5 56.38px 57.66px,#f3c5c5 57.66px 58.94px,#f1b8b8 58.94px 60.22px,#f6d3d3 60.22px 61.50px)"></div>
<div class="hc" style="left:89.92px;top:259.20px;width:7.38px;height:61.50px;background:linear-gradient(#9090f8 0.00px 1.28px,#7c7cf6 1.28px 2.56px,#7c7cf6 2.56px 3.84px,#8181f7 3.84px 5.12px,#8686f7 5.12px 6.41px,#7777f6 6.41px 7.69px,#5858f4 7.69px 8.97px,#6868f5 8.97px 10.25px,#bebefb 10.25px 11.53px,#6a6af5 11.53px 12.81px,#7878f6 12.81px 14.09px,#6262f5 14.09px 15.38px,#7c7cf6 15.38px 16.66px,#5454f4 16.66px 17.94px,#5151f3 17.94px 19.22px,#6262f5 19.22px 20.50px,#aaaaf9 20.50px 21.78px,#afaffa 21.78px 23.06px,#5e5ef4 23.06px 24.34px,#7171f6 24.34px 25.62px,#5858f4 25.62px 26.91px,#5e5ef4 26.91px 28.19px,#6e6ef5 28.19px 29.47px,#6363f5 29.47px 30.75px,#4a4af3 30.75px 32.03px,#3535f2 32.03px 33.31px,#3131f1 33.31px 34.59px,#2a2af1 34.59px 35.88px,#3c3cf2 35.88px 37.16px,#3737f2 37.16px 38.44px,#4040f2 38.44px 39.72px,#4141f2 39.72px 41.00px,#2828f1 41.00px 42.28px,#3636f2 42.28px 43.56px,#5151f3 43.56px 44.84px,#3a3af2 44.84px 46.12px,#3b3bf2 46.12px 47.41px,#3636f2 47.41px 48.69px,#3a3af2 48.69px 49.97px,#3636f2 49.97px 51.25px,#4444f3 51.25px 52.53px,#3636f2 52.53px 53.81px,#a7a7f9 53.81px 55.09px,#3b3bf2 55.09px 56.38px,#4d4df3 56.38px 57.66px,#3939f2 57.66px 58.94px,#5656f4 58.94px 60.22px,#4444f3 60.22px 61.50px)"></div>
<div class="hc" style="left:97.28px;top:259.20px;width:7.38px;height:61.50px;background:linear-gradient(#9e9ef9 0.00px 1.28px,#afaffa 1.28px 2.56px,#b5b5fa 2.56px 3.84px,#b4b4fa 3.84px 5.12px,#c5c5fb 5.12px 6.41px,#a8a8f9 6.41px 7.69px,#a5a5f9 7.69px 8.97px,#acacf9 8.97px 10.25px,#b4b4fa 10.25px 11.53px,#a5a5f9 11.53px 12.81px,#a6a6f9 12.81px 14.09px,#bcbcfb 14.09px 15.38px,#bbbbfa 15.38px 16.66px,#afaffa 16.66px 17.94px,#b2b2fa 17.94px 19.22px,#b5b5fa 19.22px 20.50px,#b8b8fa 20.50px 21.78px,#c8c8fb 21.78px 23.06px,#b0b0fa 23.06px 24.34px,#b2b2fa 24.34px 25.62px,#b6b6fa 25.62px 26.91px,#b4b4fa 26.91px 28.19px,#a0a0f9 28.19px 29.47px,#acacf9 29.47px 30.75px,#ababf9 30.75px 32.03px,#a9a9f9 32.03px 33.31px,#adadfa 33.31px 34.59px,#a7a7f9 34.59px 35.88px,#b1b1fa 35.88px 37.16px,#b8b8fa 37.16px 38.44px,#bcbcfb 38.44px 39.72px,#b8b8fa 39.72px 41.00px,#9292f8 41.00px 42.28px,#b9b9fa 42.28px 43.56px,#a4a4f9 43.56px 44.84px,#9f9ff9 44.84px 46.12px,#aaaaf9 46.12px 47.41px,#a5a5f9 47.41px 48.69px,#afaffa 48.69px 49.97px,#a8a8f9 49.97px 51.25px,#ababf9 51.25px 52.53px,#c3c3fb 52.53px 53.81px,#aaaaf9 53.81px 55.09px,#a3a3f9 55.09px 56.38px,#b2b2fa 56.38px 57.66px,#9898f8 57.66px 58.94px,#b6b6fa 58.94px 60.22px,#b8b8fa 60.22px 61.50px)"></div>
<div class="hc" style="left:104.64px;top:259.20px;width:7.38px;height:61.50px;background:linear-gradient(#a4a4f9 0.00px 1.28px,#d4d4fc 1.28px 2.56px,#b4b4fa 2.56px 3.84px,#9e9ef9 3.84px 5.12px,#9e9ef9 5.12px 6.41px,#aeaefa 6.41px 7.69px,#9f9ff9 7.69px 8.97px,#9c9cf8 8.97px 10.25px,#9b9bf8 10.25px 11.53px,#8d8df7 11.53px 12.81px,#babafa 12.81px 14.09px,#b9b9fa 14.09px 15.38px,#b2b2fa 15.38px 16.66px,#b6b6fa 16.66px 17.94px,#a2a2f9 17.94px 19.22px,#a6a6f9 19.22px 20.50px,#cfcffc 20.50px 21.78px,#a4a4f9 21.78px 23.06px,#aeaefa 23.06px 24.34px,#a9a9f9 24.34px 25.62px,#9e9ef9 25.62px 26.91px,#b2b2fa 26.91px 28.19px,#9696f8 28.19px 29.47px,#b2b2fa 29.47px 30.75px,#afaffa 30.75px 32.03px,#a3a3f9 32.03px 33.31px,#a3a3f9 33.31px 34.59px,#a8a8f9 34.59px 35.88px,#a3a3f9 35.88px 37.16px,#afaffa 37.16px 38.44px,#aaaaf9 38.44px 39.72px,#b6b6fa 39.72px 41.00px,#bdbdfb 41.00px 42.28px,#bcbcfb 42.28px 43.56px,#aaaaf9 43.56px 44.84px,#9a9af8 44.84px 46.12px,#b5b5fa 46.12px 47.41px,#b0b0fa 47.41px 48.69px,#a1a1f9 48.69px 49.97px,#acacf9 49.97px 51.25px,#b2b2fa 51.25px 52.53px,#9f9ff9 52.53px 53.81px,#9d9df8 53.81px 55.09px,#b6b6fa 55.09px 56.38px,#bcbcfb 56.38px 57.66px,#b1b1fa 57.66px 58.94px,#bcbcfb 58.94px 60.22px,#a6a6f9 60.22px 61.50px)"></div>
<div class="lg" style="left:115.3px;top:259.2px"></div>
<div class="hc" style="left:2.60px;top:341.90px;width:7.35px;height:62.00px;background:linear-gradient(#c0c0fb 0.00px 1.29px,#a8a8f9 1.29px 2.58px,#a8a8f9 2.58px 3.88px,#d0d0fc 3.88px 5.17px,#a2a2f9 5.17px 6.46px,#fffdfd 6.46px 7.75px,#ececfe 7.75px 9.04px,#f7f7fe 9.04px 10.33px,#d2d2fc 10.33px 11.62px,#f7f7fe 11.62px 12.92px,#fafaff 12.92px 14.21px,#e6e6fd 14.21px 15.50px,#dcdcfd 15.50px 16.79px,#e6e6fd 16.79px 18.08px,#b9b9fa 18.08px 19.38px,#b9b9fa 19.38px 20.67px,#e0e0fd 20.67px 21.96px,#9d9df8 21.96px 23.25px,#aeaefa 23.25px 24.54px,#fae6e6 24.54px 25.83px,#f8f8ff 25.83px 27.12px,#f8f8ff 27.12px 28.42px,#f7d5d5 28.42px 29.71px,#fefbfb 29.71px 31.00px,#d6d6fc 31.00px 32.29px,#d6d6fc 32.29px 33.58px,#d0d0fc 33.58px 34.88px,#d0d0fc 34.88px 36.17px,#e6e6fd 36.17px 37.46px,#fcfcff 37.46px 38.75px,#fae6e6 38.75px 40.04px,#f9e3e3 40.04px 41.33px,#fbecec 41.33px 42.62px,#fefcfc 42.62px 43.92px,#e5e5fd 43.92px 45.21px,#e3e3fd 45.21px 46.50px,#f3f3fe 46.50px 47.79px,#e6e6fd 47.79px 49.08px,#a9a9f9 49.08px 50.38px,#b3b3fa 50.38px 51.67px,#a4a4f9 51.67px 52.96px,#b0b0fa 52.96px 54.25px,#b0b0fa 54.25px 55.54px,#9797f8 55.54px 56.83px,#9e9ef9 56.83px 58.12px,#9e9ef9 58.12px 59.42px,#9898f8 59.42px 60.71px,#aaaaf9 60.71px 62.00px)"></div>
<div class="hc" style="left:9.93px;top:341.90px;width:7.35px;height:62.00px;background:linear-gradient(#c5c5fb 0.00px 1.29px,#e0e0fd 1.29px 2.58px,#dcdcfd 2.58px 3.88px,#dfdffd 3.88px 5.17px,#f0f0fe 5.17px 6.46px,#f0f0fe 6.46px 7.75px,#fbeaea 7.75px 9.04px,#ececfe 9.04px 10.33px,#fafaff 10.33px 11.62px,#fcf1f1 11.62px 12.92px,#e3e3fd 12.92px 14.21px,#fefafa 14.21px 15.50px,#fafaff 15.50px 16.79px,#f6f6fe 16.79px 18.08px,#e2e2fd 18.08px 19.38px,#dcdcfd 19.38px 20.67px,#c8c8fb 20.67px 21.96px,#f9f9ff 21.96px 23.25px,#e6e6fd 23.25px 24.54px,#fcfcff 24.54px 25.83px,#fef8f8 25.83px 27.12px,#fdf3f3 27.12px 28.42px,#fffefe 28.42px 29.71px,#fdf7f7 29.71px 31.00px,#cbcbfc 31.00px 32.29px,#c1c1fb 32.29px 33.58px,#bebefb 33.58px 34.88px,#b8b8fa 34.88px 36.17px,#e0e0fd 36.17px 37.46px,#fcf1f1 37.46px 38.75px,#f1b9b9 38.75px 40.04px,#fbe9e9 40.04px 41.33px,#fcf0f0 41.33px 42.62px,#fbebeb 42.62px 43.92px,#d8d8fc 43.92px 45.21px,#dcdcfd 45.21px 46.50px,#ededfe 46.50px 47.79px,#e9e9fe 47.79px 49.08px,#b1b1fa 49.08px 50.38px,#a8a8f9 50.38px 51.67px,#b7b7fa 51.67px 52.96px,#cecefc 52.96px 54.25px,#acacf9 54.25px 55.54px,#9c9cf8 55.54px 56.83px,#b8b8fa 56.83px 58.12px,#c4c4fb 58.12px 59.42px,#b9b9fa 59.42px 60.71px,#c7c7fb 60.71px 62.00px)"></div>
<div class="hc" style="left:17.27px;top:341.90px;width:7.35px;height:62.00px;background:linear-gradient(#a2a2f9 0.00px 1.29px,#b9b9fa 1.29px 2.58px,#dbdbfd 2.58px 3.88px,#b1b1fa 3.88px 5.17px,#b1b1fa 5.17px 6.46px,#e2e2fd 6.46px 7.75px,#f0f0fe 7.75px 9.04px,#fefeff 9.04px 10.33px,#f3f3fe 10.33px 11.62px,#fefeff 11.62px 12.92px,#f7f7fe 12.92px 14.21px,#e9e9fe 14.21px 15.50px,#f7f7fe 15.50px 16.79px,#e5e5fd 16.79px 18.08px,#e6e6fd 18.08px 19.38px,#f0f0fe 19.38px 20.67px,#e1e1fd 20.67px 21.96px,#f5f5fe 21.96px 23.25px,#e1e1fd 23.25px 24.54px,#fcfcff 24.54px 25.83px,#fcfcff 25.83px 27.12px,#fdfdff 27.12px 28.42px,#fdf6f6 28.42px 29.71px,#f9e3e3 29.71px 31.00px,#d4d4fc 31.00px 32.29px,#babafa 32.29px 33.58px,#c0c0fb 33.58px 34.88px,#dcdcfd 34.88px 36.17px,#b2b2fa 36.17px 37.46px,#f5cccc 37.46px 38.75px,#f9f9ff 38.75px 40.04px,#f9e3e3 40.04px 41.33px,#f9e1e1 41.33px 42.62px,#fdf7f7 42.62px 43.92px,#d7d7fc 43.92px 45.21px,#eaeafe 45.21px 46.50px,#ececfe 46.50px 47.79px,#dbdbfd 47.79px 49.08px,#c7c7fb 49.08px 50.38px,#9494f8 50.38px 51.67px,#adadfa 51.67px 52.96px,#bbbbfa 52.96px 54.25px,#c6c6fb 54.25px 55.54px,#9999f8 55.54px 56.83px,#bcbcfb 56.83px 58.12px,#dcdcfd 58.12px 59.42px,#a3a3f9 59.42px 60.71px,#bebefb 60.71px 62.00px)"></div>
<div class="hc" style="left:24.60px;top:341.90px;width:7.35px;height:62.00px;background:linear-gradient(#eeeefe 0.00px 1.29px,#f2f2fe 1.29px 2.58px,#fefcfc 2.58px 3.88px,#fdf3f3 3.88px 5.17px,#f8dddd 5.17px 6.46px,#fdf5f5 6.46px 7.75px,#f8dddd 7.75px 9.04px,#fdf4f4 9.04px 10.33px,#f9e3e3 10.33px 11.62px,#f2bdbd 11.62px 12.92px,#fbeded 12.92px 14.21px,#f8dede 14.21px 15.50px,#f3c1c1 15.50px 16.79px,#fdf3f3 16.79px 18.08px,#f3c4c4 18.08px 19.38px,#eb9d9d 19.38px 20.67px,#f8dede 20.67px 21.96px,#f8dbdb 21.96px 23.25px,#fae6e6 23.25px 24.54px,#fdf7f7 24.54px 25.83px,#f7d5d5 25.83px 27.12px,#f7d9d9 27.12px 28.42px,#f2c0c0 28.42px 29.71px,#f6d1d1 29.71px 31.00px,#f4caca 31.00px 32.29px,#fae7e7 32.29px 33.58px,#fefcfc 33.58px 34.88px,#f8dcdc 34.88px 36.17px,#fdf3f3 36.17px 37.46px,#fcf1f1 37.46px 38.75px,#f3c3c3 38.75px 40.04px,#f6d2d2 40.04px 41.33px,#f4c6c6 41.33px 42.62px,#f6d3d3 42.62px 43.92px,#f8dede 43.92px 45.21px,#fef8f8 45.21px 46.50px,#fcf0f0 46.50px 47.79px,#f7d8d8 47.79px 49.08px,#f3f3fe 49.08px 50.38px,#fef8f8 50.38px 51.67px,#fffdfd 51.67px 52.96px,#fbeded 52.96px 54.25px,#fae7e7 54.25px 55.54px,#f5cdcd 55.54px 56.83px,#fdf6f6 56.83px 58.12px,#fefeff 58.12px 59.42px,#fceeee 59.42px 60.71px,#f8f8ff 60.71px 62.00px)"></div>
<div class="hc" style="left:31.93px;top:341.90px;width:7.35px;height:62.00px;background:linear-gradient(#f7d6d6 0.00px 1.29px,#fffefe 1.29px 2.58px,#fcf2f2 2.58px 3.88px,#fef8f8 3.88px 5.17px,#fdf3f3 5.17px 6.46px,#fcf1f1 6.46px 7.75px,#f7d8d8 7.75px 9.04px,#f7d6d6 9.04px 10.33px,#f7d5d5 10.33px 11.62px,#f6d0d0 11.62px 12.92px,#f1bbbb 12.92px 14.21px,#eeabab 14.21px 15.50px,#f7d7d7 15.50px 16.79px,#f6d2d2 16.79px 18.08px,#f5cfcf 18.08px 19.38px,#f2bebe 19.38px 20.67px,#f5cdcd 20.67px 21.96px,#f3c5c5 21.96px 23.25px,#fbe9e9 23.25px 24.54px,#f1b7b7 24.54px 25.83px,#f2bcbc 25.83px 27.12px,#efb1b1 27.12px 28.42px,#efb0b0 28.42px 29.71px,#eea9a9 29.71px 31.00px,#ffffff 31.00px 32.29px,#f6d4d4 32.29px 33.58px,#f1baba 33.58px 34.88px,#f3c4c4 34.88px 36.17px,#f1b9b9 36.17px 37.46px,#f3c1c1 37.46px 38.75px,#f2bebe 38.75px 40.04px,#f0b6b6 40.04px 41.33px,#f5cdcd 41.33px 42.62px,#f2bfbf 42.62px 43.92px,#f8dada 43.92px 45.21px,#fcfcff 45.21px 46.50px,#f8dede 46.50px 47.79px,#fbecec 47.79px 49.08px,#f8dede 49.08px 50.38px,#fdf5f5 50.38px 51.67px,#f9e0e0 51.67px 52.96px,#fcf2f2 52.96px 54.25px,#ffffff 54.25px 55.54px,#f7d9d9 55.54px 56.83px,#f5cfcf 56.83px 58.12px,#f1b7b7 58.12px 59.42px,#f9e0e0 59.42px 60.71px,#f7d8d8 60.71px 62.00px)"></div>
<div class="hc" style="left:39.27px;top:341.90px;width:7.35px;height:62.00px;background:linear-gradient(#f7d6d6 0.00px 1.29px,#fbe9e9 1.29px 2.58px,#f9e0e0 2.58px 3.88px,#fae4e4 3.88px 5.17px,#f9e0e0 5.17px 6.46px,#fceeee 6.46px 7.75px,#f5cbcb 7.75px 9.04px,#f5cbcb 9.04px 10.33px,#fdf5f5 10.33px 11.62px,#f7d6d6 11.62px 12.92px,#f7d7d7 12.92px 14.21px,#f5cbcb 14.21px 15.50px,#fcf1f1 15.50px 16.79px,#f9e3e3 16.79px 18.08px,#fcf1f1 18.08px 19.38px,#fdf7f7 19.38px 20.67px,#ffffff 20.67px 21.96px,#f9e2e2 21.96px 23.25px,#f9f9ff 23.25px 24.54px,#f0b3b3 24.54px 25.83px,#f8dede 25.83px 27.12px,#f8dbdb 27.12px 28.42px,#f4c7c7 28.42px 29.71px,#f8dbdb 29.71px 31.00px,#f3c4c4 31.00px 32.29px,#fae6e6 32.29px 33.58px,#f8dada 33.58px 34.88px,#f9e2e2 34.88px 36.17px,#f4caca 36.17px 37.46px,#f4c6c6 37.46px 38.75px,#fae4e4 38.75px 40.04px,#fae4e4 40.04px 41.33px,#f3c2c2 41.33px 42.62px,#f7d9d9 42.62px 43.92px,#fdf6f6 43.92px 45.21px,#f9e0e0 45.21px 46.50px,#f6d1d1 46.50px 47.79px,#fdf4f4 47.79px 49.08px,#fefafa 49.08px 50.38px,#fbeaea 50.38px 51.67px,#fdfdff 51.67px 52.96px,#e4e4fd 52.96px 54.25px,#e2e2fd 54.25px 55.54px,#fae7e7 55.54px 56.83px,#fbebeb 56.83px 58.12px,#fdf7f7 58.12px 59.42px,#fffefe 59.42px 60.71px,#fcefef 60.71px 62.00px)"></div>
<div class="hc" style="left:46.60px;top:341.90px;width:7.35px;height:62.00px;background:linear-gradient(#e57f7f 0.00px 1.29px,#e57f7f 1.29px 2.58px,#eb9c9c 2.58px 3.88px,#e16a6a 3.88px 5.17px,#e68484 5.17px 6.46px,#e98f8f 6.46px 7.75px,#e47878 7.75px 9.04px,#dc4e4e 9.04px 10.33px,#e57f7f 10.33px 11.62px,#de5858 11.62px 12.92px,#e99393 12.92px 14.21px,#e16868 14.21px 15.50px,#e68383 15.50px 16.79px,#e26c6c 16.79px 18.08px,#e68282 18.08px 19.38px,#e88d8d 19.38px 20.67px,#e26c6c 20.67px 21.96px,#e68484 21.96px 23.25px,#e88c8c 23.25px 24.54px,#dd5555 24.54px 25.83px,#efaeae 25.83px 27.12px,#f0b5b5 27.12px 28.42px,#e47a7a 28.42px 29.71px,#e16868 29.71px 31.00px,#dd5757 31.00px 32.29px,#e16868 32.29px 33.58px,#dc5050 33.58px 34.88px,#e16a6a 34.88px 36.17px,#eca2a2 36.17px 37.46px,#eca0a0 37.46px 38.75px,#e88e8e 38.75px 40.04px,#e98f8f 40.04px 41.33px,#ec9e9e 41.33px 42.62px,#f1baba 42.62px 43.92px,#eda6a6 43.92px 45.21px,#e37373 45.21px 46.50px,#e26e6e 46.50px 47.79px,#eb9c9c 47.79px 49.08px,#e47a7a 49.08px 50.38px,#df6060 50.38px 51.67px,#e68383 51.67px 52.96px,#e26e6e 52.96px 54.25px,#e26f6f 54.25px 55.54px,#ea9696 55.54px 56.83px,#eda5a5 56.83px 58.12px,#ec9e9e 58.12px 59.42px,#eca0a0 59.42px 60.71px,#ea9797 60.71px 62.00px)"></div>
<div class="hc" style="left:53.93px;top:341.90px;width:7.35px;height:62.00px;background:linear-gradient(#eda7a7 0.00px 1.29px,#f0b4b4 1.29px 2.58px,#f4c6c6 2.58px 3.88px,#ea9898 3.88px 5.17px,#e88e8e 5.17px 6.46px,#e78989 6.46px 7.75px,#f3c4c4 7.75px 9.04px,#ea9595 9.04px 10.33px,#e99191 10.33px 11.62px,#ea9595 11.62px 12.92px,#eea8a8 12.92px 14.21px,#eca1a1 14.21px 15.50px,#ea9898 15.50px 16.79px,#eeabab 16.79px 18.08px,#e57e7e 18.08px 19.38px,#e68181 19.38px 20.67px,#e88b8b 20.67px 21.96px,#e78585 21.96px 23.25px,#e06464 23.25px 24.54px,#e37272 24.54px 25.83px,#e78585 25.83px 27.12px,#e57f7f 27.12px 28.42px,#e78989 28.42px 29.71px,#eb9d9d 29.71px 31.00px,#f0b2b2 31.00px 32.29px,#f0b4b4 32.29px 33.58px,#ea9898 33.58px 34.88px,#eea9a9 34.88px 36.17px,#efadad 36.17px 37.46px,#eda3a3 37.46px 38.75px,#eb9d9d 38.75px 40.04px,#eca2a2 40.04px 41.33px,#eda3a3 41.33px 42.62px,#eb9c9c 42.62px 43.92px,#efb0b0 43.92px 45.21px,#efb1b1 45.21px 46.50px,#f1baba 46.50px 47.79px,#f1bbbb 47.79px 49.08px,#f3c3c3 49.08px 50.38px,#f2bcbc 50.38px 51.67px,#f2bdbd 51.67px 52.96px,#f4c6c6 52.96px 54.25px,#f1bbbb 54.25px 55.54px,#f1bbbb 55.54px 56.83px,#e88d8d 56.83px 58.12px,#f2c0c0 58.12px 59.42px,#f1b9b9 59.42px 60.71px,#e99191 60.71px 62.00px)"></div>
<div class="hc" style="left:61.27px;top:341.90px;width:7.35px;height:62.00px;background:linear-gradient(#e88a8a 0.00px 1.29px,#e78686 1.29px 2.58px,#eda4a4 2.58px 3.88px,#e88e8e 3.88px 5.17px,#ea9494 5.17px 6.46px,#e47676 6.46px 7.75px,#e47979 7.75px 9.04px,#e57b7b 9.04px 10.33px,#eca1a1 10.33px 11.62px,#f0b3b3 11.62px 12.92px,#e06666 12.92px 14.21px,#e16969 14.21px 15.50px,#f4c9c9 15.50px 16.79px,#e68484 16.79px 18.08px,#eb9b9b 18.08px 19.38px,#ea9494 19.38px 20.67px,#eda3a3 20.67px 21.96px,#f0b4b4 21.96px 23.25px,#f7d7d7 23.25px 24.54px,#e26e6e 24.54px 25.83px,#e26c6c 25.83px 27.12px,#e57f7f 27.12px 28.42px,#e57b7b 28.42px 29.71px,#e37171 29.71px 31.00px,#f9e2e2 31.00px 32.29px,#ea9797 32.29px 33.58px,#eca1a1 33.58px 34.88px,#f2bdbd 34.88px 36.17px,#ec9e9e 36.17px 37.46px,#eb9999 37.46px 38.75px,#f5cdcd 38.75px 40.04px,#f3c1c1 40.04px 41.33px,#f5cccc 41.33px 42.62px,#efaeae 42.62px 43.92px,#eb9c9c 43.92px 45.21px,#eca2a2 45.21px 46.50px,#f2bdbd 46.50px 47.79px,#efaeae 47.79px 49.08px,#f1b8b8 49.08px 50.38px,#eeacac 50.38px 51.67px,#f3c1c1 51.67px 52.96px,#ea9898 52.96px 54.25px,#eeacac 54.25px 55.54px,#fae5e5 55.54px 56.83px,#eca1a1 56.83px 58.12px,#eeaaaa 58.12px 59.42px,#f7d5d5 59.42px 60.71px,#f1b9b9 60.71px 62.00px)"></div>
<div class="hc" style="left:68.60px;top:341.90px;width:7.35px;height:62.00px;background:linear-gradient(#e47777 0.00px 1.29px,#e16a6a 1.29px 2.58px,#e16a6a 2.58px 3.88px,#e78888 3.88px 5.17px,#e37272 5.17px 6.46px,#f3c2c2 6.46px 7.75px,#ec9f9f 7.75px 9.04px,#f8dcdc 9.04px 10.33px,#f1baba 10.33px 11.62px,#f1b8b8 11.62px 12.92px,#e26e6e 12.92px 14.21px,#e68282 14.21px 15.50px,#e37171 15.50px 16.79px,#e37272 16.79px 18.08px,#ec9f9f 18.08px 19.38px,#eb9c9c 19.38px 20.67px,#ea9898 20.67px 21.96px,#e26e6e 21.96px 23.25px,#ea9595 23.25px 24.54px,#eea8a8 24.54px 25.83px,#ec9f9f 25.83px 27.12px,#f1b9b9 27.12px 28.42px,#ea9898 28.42px 29.71px,#ea9595 29.71px 31.00px,#e78989 31.00px 32.29px,#e26d6d 32.29px 33.58px,#e88d8d 33.58px 34.88px,#eda7a7 34.88px 36.17px,#f0b5b5 36.17px 37.46px,#e16868 37.46px 38.75px,#e37373 38.75px 40.04px,#e68484 40.04px 41.33px,#e16b6b 41.33px 42.62px,#ea9494 42.62px 43.92px,#d93f3f 43.92px 45.21px,#d52f2f 45.21px 46.50px,#dd5454 46.50px 47.79px,#dd5656 47.79px 49.08px,#d94040 49.08px 50.38px,#d83b3b 50.38px 51.67px,#df5e5e 51.67px 52.96px,#dd5656 52.96px 54.25px,#ea9696 54.25px 55.54px,#de5b5b 55.54px 56.83px,#e37373 56.83px 58.12px,#f1b7b7 58.12px 59.42px,#e78787 59.42px 60.71px,#e99191 60.71px 62.00px)"></div>
<div class="hc" style="left:75.93px;top:341.90px;width:7.35px;height:62.00px;background:linear-gradient(#e06565 0.00px 1.29px,#e78989 1.29px 2.58px,#df5f5f 2.58px 3.88px,#e06363 3.88px 5.17px,#df5f5f 5.17px 6.46px,#efadad 6.46px 7.75px,#e78888 7.75px 9.04px,#e78585 9.04px 10.33px,#ec9f9f 10.33px 11.62px,#e06464 11.62px 12.92px,#e06565 12.92px 14.21px,#eda6a6 14.21px 15.50px,#df6161 15.50px 16.79px,#d94343 16.79px 18.08px,#db4949 18.08px 19.38px,#dd5454 19.38px 20.67px,#e06262 20.67px 21.96px,#d83e3e 21.96px 23.25px,#e16a6a 23.25px 24.54px,#eb9a9a 24.54px 25.83px,#f1b8b8 25.83px 27.12px,#eda5a5 27.12px 28.42px,#eca1a1 28.42px 29.71px,#e99191 29.71px 31.00px,#e57e7e 31.00px 32.29px,#e47676 32.29px 33.58px,#f2bcbc 33.58px 34.88px,#e78888 34.88px 36.17px,#e78989 36.17px 37.46px,#eda4a4 37.46px 38.75px,#f2bdbd 38.75px 40.04px,#e57c7c 40.04px 41.33px,#e57d7d 41.33px 42.62px,#e78585 42.62px 43.92px,#e06262 43.92px 45.21px,#de5959 45.21px 46.50px,#dc4f4f 46.50px 47.79px,#f0b5b5 47.79px 49.08px,#de5858 49.08px 50.38px,#df6060 50.38px 51.67px,#e47676 51.67px 52.96px,#de5959 52.96px 54.25px,#df6161 54.25px 55.54px,#f0b5b5 55.54px 56.83px,#eb9d9d 56.83px 58.12px,#ea9898 58.12px 59.42px,#eb9a9a 59.42px 60.71px,#f2bfbf 60.71px 62.00px)"></div>
<div class="hc" style="left:83.27px;top:341.90px;width:7.35px;height:62.00px;background:linear-gradient(#efafaf 0.00px 1.29px,#e06666 1.29px 2.58px,#e68383 2.58px 3.88px,#e26f6f 3.88px 5.17px,#df6161 5.17px 6.46px,#dc5050 6.46px 7.75px,#e16767 7.75px 9.04px,#de5c5c 9.04px 10.33px,#e68181 10.33px 11.62px,#e47676 11.62px 12.92px,#e57d7d 12.92px 14.21px,#dd5353 14.21px 15.50px,#e26c6c 15.50px 16.79px,#e06666 16.79px 18.08px,#f0b5b5 18.08px 19.38px,#de5a5a 19.38px 20.67px,#df5f5f 20.67px 21.96px,#df6161 21.96px 23.25px,#df5f5f 23.25px 24.54px,#e37575 24.54px 25.83px,#e78787 25.83px 27.12px,#e78787 27.12px 28.42px,#f2bcbc 28.42px 29.71px,#eb9999 29.71px 31.00px,#e47777 31.00px 32.29px,#e78888 32.29px 33.58px,#e78585 33.58px 34.88px,#e26f6f 34.88px 36.17px,#e78686 36.17px 37.46px,#eb9999 37.46px 38.75px,#e78686 38.75px 40.04px,#e37373 40.04px 41.33px,#e78888 41.33px 42.62px,#e57f7f 42.62px 43.92px,#e06464 43.92px 45.21px,#e57d7d 45.21px 46.50px,#e06262 46.50px 47.79px,#e06666 47.79px 49.08px,#da4545 49.08px 50.38px,#e16a6a 50.38px 51.67px,#df5f5f 51.67px 52.96px,#eda3a3 52.96px 54.25px,#e57c7c 54.25px 55.54px,#e47878 55.54px 56.83px,#e47676 56.83px 58.12px,#e88c8c 58.12px 59.42px,#e47878 59.42px 60.71px,#e47777 60.71px 62.00px)"></div>
<div class="hc" style="left:90.60px;top:341.90px;width:7.35px;height:62.00px;background:linear-gradient(#ababf9 0.00px 1.29px,#a7a7f9 1.29px 2.58px,#9797f8 2.58px 3.88px,#b8b8fa 3.88px 5.17px,#a7a7f9 5.17px 6.46px,#1e1ef0 6.46px 7.75px,#9090f8 7.75px 9.04px,#6363f5 9.04px 10.33px,#3f3ff2 10.33px 11.62px,#3232f1 11.62px 12.92px,#2a2af1 12.92px 14.21px,#3131f1 14.21px 15.50px,#2323f0 15.50px 16.79px,#5050f3 16.79px 18.08px,#2828f1 18.08px 19.38px,#4d4df3 19.38px 20.67px,#9090f8 20.67px 21.96px,#5353f4 21.96px 23.25px,#2727f1 23.25px 24.54px,#a5a5f9 24.54px 25.83px,#adadfa 25.83px 27.12px,#a4a4f9 27.12px 28.42px,#8989f7 28.42px 29.71px,#b7b7fa 29.71px 31.00px,#8c8cf7 31.00px 32.29px,#9393f8 32.29px 33.58px,#adadfa 33.58px 34.88px,#aeaefa 34.88px 36.17px,#8989f7 36.17px 37.46px,#ddddfd 37.46px 38.75px,#c9c9fb 38.75px 40.04px,#c9c9fb 40.04px 41.33px,#e4e4fd 41.33px 42.62px,#e2e2fd 42.62px 43.92px,#9e9ef9 43.92px 45.21px,#a6a6f9 45.21px 46.50px,#9e9ef9 46.50px 47.79px,#e3e3fd 47.79px 49.08px,#babafa 49.08px 50.38px,#bfbffb 50.38px 51.67px,#c3c3fb 51.67px 52.96px,#8d8df7 52.96px 54.25px,#c1c1fb 54.25px 55.54px,#cecefc 55.54px 56.83px,#bfbffb 56.83px 58.12px,#c7c7fb 58.12px 59.42px,#cfcffc 59.42px 60.71px,#e0e0fd 60.71px 62.00px)"></div>
<div class="hc" style="left:97.93px;top:341.90px;width:7.35px;height:62.00px;background:linear-gradient(#d9d9fc 0.00px 1.29px,#f1f1fe 1.29px 2.58px,#f4f4fe 2.58px 3.88px,#f4f4fe 3.88px 5.17px,#e7e7fd 5.17px 6.46px,#efeffe 6.46px 7.75px,#dcdcfd 7.75px 9.04px,#dedefd 9.04px 10.33px,#d9d9fc 10.33px 11.62px,#eeeefe 11.62px 12.92px,#d6d6fc 12.92px 14.21px,#d8d8fc 14.21px 15.50px,#f3f3fe 15.50px 16.79px,#d9d9fc 16.79px 18.08px,#ececfe 18.08px 19.38px,#f5f5fe 19.38px 20.67px,#d3d3fc 20.67px 21.96px,#ececfe 21.96px 23.25px,#d7d7fc 23.25px 24.54px,#9595f8 24.54px 25.83px,#9a9af8 25.83px 27.12px,#7777f6 27.12px 28.42px,#9999f8 28.42px 29.71px,#b0b0fa 29.71px 31.00px,#c8c8fb 31.00px 32.29px,#9191f8 32.29px 33.58px,#b2b2fa 33.58px 34.88px,#cacafb 34.88px 36.17px,#c1c1fb 36.17px 37.46px,#6a6af5 37.46px 38.75px,#5b5bf4 38.75px 40.04px,#9494f8 40.04px 41.33px,#b1b1fa 41.33px 42.62px,#6868f5 42.62px 43.92px,#b3b3fa 43.92px 45.21px,#bdbdfb 45.21px 46.50px,#9696f8 46.50px 47.79px,#a3a3f9 47.79px 49.08px,#ddddfd 49.08px 50.38px,#e3e3fd 50.38px 51.67px,#cdcdfc 51.67px 52.96px,#dfdffd 52.96px 54.25px,#d6d6fc 54.25px 55.54px,#ccccfc 55.54px 56.83px,#eeeefe 56.83px 58.12px,#d8d8fc 58.12px 59.42px,#dadafd 59.42px 60.71px,#cbcbfc 60.71px 62.00px)"></div>
<div class="hc" style="left:105.27px;top:341.90px;width:7.35px;height:62.00px;background:linear-gradient(#ffffff 0.00px 1.29px,#f5f5fe 1.29px 2.58px,#efeffe 2.58px 3.88px,#f4f4fe 3.88px 5.17px,#ececfe 5.17px 6.46px,#d5d5fc 6.46px 7.75px,#d3d3fc 7.75px 9.04px,#d0d0fc 9.04px 10.33px,#e8e8fd 10.33px 11.62px,#dadafd 11.62px 12.92px,#eaeafe 12.92px 14.21px,#dadafd 14.21px 15.50px,#f8f8ff 15.50px 16.79px,#e9e9fe 16.79px 18.08px,#c5c5fb 18.08px 19.38px,#d8d8fc 19.38px 20.67px,#cbcbfc 20.67px 21.96px,#c5c5fb 21.96px 23.25px,#f5f5fe 23.25px 24.54px,#ababf9 24.54px 25.83px,#9d9df8 25.83px 27.12px,#9292f8 27.12px 28.42px,#9e9ef9 28.42px 29.71px,#bbbbfa 29.71px 31.00px,#efeffe 31.00px 32.29px,#bbbbfa 32.29px 33.58px,#bcbcfb 33.58px 34.88px,#dbdbfd 34.88px 36.17px,#acacf9 36.17px 37.46px,#6a6af5 37.46px 38.75px,#5d5df4 38.75px 40.04px,#4c4cf3 40.04px 41.33px,#6262f5 41.33px 42.62px,#7b7bf6 42.62px 43.92px,#bfbffb 43.92px 45.21px,#bdbdfb 45.21px 46.50px,#bbbbfa 46.50px 47.79px,#a3a3f9 47.79px 49.08px,#d9d9fc 49.08px 50.38px,#b9b9fa 50.38px 51.67px,#dadafd 51.67px 52.96px,#d7d7fc 52.96px 54.25px,#d1d1fc 54.25px 55.54px,#c4c4fb 55.54px 56.83px,#d1d1fc 56.83px 58.12px,#cbcbfc 58.12px 59.42px,#cfcffc 59.42px 60.71px,#e6e6fd 60.71px 62.00px)"></div>
<div class="lg" style="left:115.3px;top:341.9px"></div>
<div class="hc" style="left:2.60px;top:424.90px;width:7.35px;height:62.20px;background:linear-gradient(#f6d3d3 0.00px 1.30px,#f5cbcb 1.30px 2.59px,#eca2a2 2.59px 3.89px,#eeabab 3.89px 5.18px,#e99393 5.18px 6.48px,#e68484 6.48px 7.78px,#f2c0c0 7.78px 9.07px,#f4c7c7 9.07px 10.37px,#f1baba 10.37px 11.66px,#efafaf 11.66px 12.96px,#e88b8b 12.96px 14.25px,#e99292 14.25px 15.55px,#ec9e9e 15.55px 16.85px,#ea9898 16.85px 18.14px,#eb9999 18.14px 19.44px,#e88a8a 19.44px 20.73px,#f0b5b5 20.73px 22.03px,#f0b2b2 22.03px 23.33px,#eb9d9d 23.33px 24.62px,#e99090 24.62px 25.92px,#e99090 25.92px 27.21px,#eca2a2 27.21px 28.51px,#e68383 28.51px 29.80px,#e68181 29.80px 31.10px,#e68484 31.10px 32.40px,#eca0a0 32.40px 33.69px,#eca1a1 33.69px 34.99px,#eda5a5 34.99px 36.28px,#eeacac 36.28px 37.58px,#f3c5c5 37.58px 38.88px,#f2bdbd 38.88px 40.17px,#f7d6d6 40.17px 41.47px,#e99292 41.47px 42.76px,#eb9999 42.76px 44.06px,#e78686 44.06px 45.35px,#eb9a9a 45.35px 46.65px,#e37575 46.65px 47.95px,#eb9d9d 47.95px 49.24px,#ea9797 49.24px 50.54px,#efb0b0 50.54px 51.83px,#e99090 51.83px 53.13px,#ec9e9e 53.13px 54.43px,#e68282 54.43px 55.72px,#eda7a7 55.72px 57.02px,#f1b9b9 57.02px 58.31px,#f7d5d5 58.31px 59.61px,#eb9c9c 59.61px 60.90px,#f0b2b2 60.90px 62.20px)"></div>
<div class="hc" style="left:9.93px;top:424.90px;width:7.35px;height:62.20px;background:linear-gradient(#f0b2b2 0.00px 1.30px,#efb1b1 1.30px 2.59px,#f5cccc 2.59px 3.89px,#f0b5b5 3.89px 5.18px,#efaeae 5.18px 6.48px,#f3c5c5 6.48px 7.78px,#eda5a5 7.78px 9.07px,#eeaaaa 9.07px 10.37px,#f2bcbc 10.37px 11.66px,#f6d2d2 11.66px 12.96px,#f0b5b5 12.96px 14.25px,#eda5a5 14.25px 15.55px,#efafaf 15.55px 16.85px,#f4c7c7 16.85px 18.14px,#f2c0c0 18.14px 19.44px,#eda4a4 19.44px 20.73px,#eda3a3 20.73px 22.03px,#e37575 22.03px 23.33px,#ea9595 23.33px 24.62px,#eeacac 24.62px 25.92px,#ec9e9e 25.92px 27.21px,#f6d1d1 27.21px 28.51px,#e98f8f 28.51px 29.80px,#eea9a9 29.80px 31.10px,#e98f8f 31.10px 32.40px,#ea9898 32.40px 33.69px,#f3c5c5 33.69px 34.99px,#f0b2b2 34.99px 36.28px,#e99090 36.28px 37.58px,#f8dcdc 37.58px 38.88px,#fbeded 38.88px 40.17px,#fcefef 40.17px 41.47px,#fae7e7 41.47px 42.76px,#f9e0e0 42.76px 44.06px,#e47676 44.06px 45.35px,#f3c3c3 45.35px 46.65px,#ec9e9e 46.65px 47.95px,#f0b4b4 47.95px 49.24px,#e37575 49.24px 50.54px,#eea8a8 50.54px 51.83px,#ea9797 51.83px 53.13px,#efaeae 53.13px 54.43px,#f1bbbb 54.43px 55.72px,#f6d1d1 55.72px 57.02px,#efadad 57.02px 58.31px,#ea9494 58.31px 59.61px,#f0b4b4 59.61px 60.90px,#f0b3b3 60.90px 62.20px)"></div>
<div class="hc" style="left:17.27px;top:424.90px;width:7.35px;height:62.20px;background:linear-gradient(#f3c5c5 0.00px 1.30px,#f1baba 1.30px 2.59px,#eda7a7 2.59px 3.89px,#f0b3b3 3.89px 5.18px,#eb9d9d 5.18px 6.48px,#f4c6c6 6.48px 7.78px,#eda4a4 7.78px 9.07px,#e88b8b 9.07px 10.37px,#ea9898 10.37px 11.66px,#f0b5b5 11.66px 12.96px,#ea9494 12.96px 14.25px,#efafaf 14.25px 15.55px,#f2bcbc 15.55px 16.85px,#eda4a4 16.85px 18.14px,#e88b8b 18.14px 19.44px,#ec9e9e 19.44px 20.73px,#e88a8a 20.73px 22.03px,#f5cfcf 22.03px 23.33px,#eda6a6 23.33px 24.62px,#f0b2b2 24.62px 25.92px,#e37474 25.92px 27.21px,#eb9a9a 27.21px 28.51px,#efb1b1 28.51px 29.80px,#efb0b0 29.80px 31.10px,#f1b7b7 31.10px 32.40px,#eda7a7 32.40px 33.69px,#eeacac 33.69px 34.99px,#f0b6b6 34.99px 36.28px,#eb9b9b 36.28px 37.58px,#eaeafe 37.58px 38.88px,#f1f1fe 38.88px 40.17px,#f2f2fe 40.17px 41.47px,#fefeff 41.47px 42.76px,#fefeff 42.76px 44.06px,#e99292 44.06px 45.35px,#e78989 45.35px 46.65px,#eb9b9b 46.65px 47.95px,#e47878 47.95px 49.24px,#e99393 49.24px 50.54px,#e78585 50.54px 51.83px,#eca2a2 51.83px 53.13px,#e88e8e 53.13px 54.43px,#f1bbbb 54.43px 55.72px,#f3c3c3 55.72px 57.02px,#f2c0c0 57.02px 58.31px,#e99090 58.31px 59.61px,#eb9d9d 59.61px 60.90px,#eda6a6 60.90px 62.20px)"></div>
<div class="hc" style="left:24.60px;top:424.90px;width:7.35px;height:62.20px;background:linear-gradient(#f8dcdc 0.00px 1.30px,#fae4e4 1.30px 2.59px,#f7d8d8 2.59px 3.89px,#f0b2b2 3.89px 5.18px,#f6d1d1 5.18px 6.48px,#f6d3d3 6.48px 7.78px,#fdfdff 7.78px 9.07px,#f2bcbc 9.07px 10.37px,#f9e0e0 10.37px 11.66px,#fae8e8 11.66px 12.96px,#fbecec 12.96px 14.25px,#f4caca 14.25px 15.55px,#f1bbbb 15.55px 16.85px,#f4c9c9 16.85px 18.14px,#f4c6c6 18.14px 19.44px,#f2bfbf 19.44px 20.73px,#fbeded 20.73px 22.03px,#fcf1f1 22.03px 23.33px,#f2bebe 23.33px 24.62px,#efadad 24.62px 25.92px,#f2bfbf 25.92px 27.21px,#fbeaea 27.21px 28.51px,#f1baba 28.51px 29.80px,#f4c9c9 29.80px 31.10px,#ec9e9e 31.10px 32.40px,#efafaf 32.40px 33.69px,#f7d8d8 33.69px 34.99px,#eeabab 34.99px 36.28px,#f3c4c4 36.28px 37.58px,#fae6e6 37.58px 38.88px,#f8dddd 38.88px 40.17px,#f9e2e2 40.17px 41.47px,#f9e3e3 41.47px 42.76px,#f0b5b5 42.76px 44.06px,#f0b6b6 44.06px 45.35px,#eb9c9c 45.35px 46.65px,#f8dede 46.65px 47.95px,#f6d0d0 47.95px 49.24px,#f3c1c1 49.24px 50.54px,#f2bdbd 50.54px 51.83px,#f1b7b7 51.83px 53.13px,#ec9e9e 53.13px 54.43px,#eda7a7 54.43px 55.72px,#f3c5c5 55.72px 57.02px,#f7d7d7 57.02px 58.31px,#eea8a8 58.31px 59.61px,#f7d8d8 59.61px 60.90px,#f2c0c0 60.90px 62.20px)"></div>
<div class="hc" style="left:31.93px;top:424.90px;width:7.35px;height:62.20px;background:linear-gradient(#f8dede 0.00px 1.30px,#f7d8d8 1.30px 2.59px,#f5cccc 2.59px 3.89px,#f9dfdf 3.89px 5.18px,#f5cccc 5.18px 6.48px,#f7d9d9 6.48px 7.78px,#f1baba 7.78px 9.07px,#f2c0c0 9.07px 10.37px,#f5cbcb 10.37px 11.66px,#f5cece 11.66px 12.96px,#f1b8b8 12.96px 14.25px,#f3c4c4 14.25px 15.55px,#f8dede 15.55px 16.85px,#f6d0d0 16.85px 18.14px,#fae7e7 18.14px 19.44px,#f5cbcb 19.44px 20.73px,#f6d3d3 20.73px 22.03px,#f1b8b8 22.03px 23.33px,#f1bbbb 23.33px 24.62px,#e99292 24.62px 25.92px,#eb9999 25.92px 27.21px,#efb1b1 27.21px 28.51px,#f6d1d1 28.51px 29.80px,#efaeae 29.80px 31.10px,#eeaaaa 31.10px 32.40px,#f4c9c9 32.40px 33.69px,#eca2a2 33.69px 34.99px,#f6d4d4 34.99px 36.28px,#eda7a7 36.28px 37.58px,#fae7e7 37.58px 38.88px,#f8dada 38.88px 40.17px,#f8dada 40.17px 41.47px,#f5cccc 41.47px 42.76px,#eb9b9b 42.76px 44.06px,#f3c1c1 44.06px 45.35px,#f4c6c6 45.35px 46.65px,#f0b6b6 46.65px 47.95px,#eeacac 47.95px 49.24px,#f0b5b5 49.24px 50.54px,#f6d2d2 50.54px 51.83px,#eb9b9b 51.83px 53.13px,#f3c2c2 53.13px 54.43px,#e88a8a 54.43px 55.72px,#f7d5d5 55.72px 57.02px,#f5cece 57.02px 58.31px,#eeaaaa 58.31px 59.61px,#f5cece 59.61px 60.90px,#f2bdbd 60.90px 62.20px)"></div>
<div class="hc" style="left:39.27px;top:424.90px;width:7.35px;height:62.20px;background:linear-gradient(#f2bebe 0.00px 1.30px,#f4c6c6 1.30px 2.59px,#f0b4b4 2.59px 3.89px,#eca2a2 3.89px 5.18px,#e88d8d 5.18px 6.48px,#f0b3b3 6.48px 7.78px,#f3c2c2 7.78px 9.07px,#f2bebe 9.07px 10.37px,#f7d7d7 10.37px 11.66px,#f6d3d3 11.66px 12.96px,#f7d5d5 12.96px 14.25px,#f1bbbb 14.25px 15.55px,#f6d1d1 15.55px 16.85px,#eb9b9b 16.85px 18.14px,#ea9696 18.14px 19.44px,#f0b6b6 19.44px 20.73px,#f2bebe 20.73px 22.03px,#f2bebe 22.03px 23.33px,#f0b6b6 23.33px 24.62px,#f6d1d1 24.62px 25.92px,#eca1a1 25.92px 27.21px,#f0b5b5 27.21px 28.51px,#eea8a8 28.51px 29.80px,#eda3a3 29.80px 31.10px,#eeacac 31.10px 32.40px,#ea9494 32.40px 33.69px,#f1b9b9 33.69px 34.99px,#e78585 34.99px 36.28px,#f5cece 36.28px 37.58px,#f6d1d1 37.58px 38.88px,#f4c9c9 38.88px 40.17px,#ea9797 40.17px 41.47px,#eeacac 41.47px 42.76px,#f5cece 42.76px 44.06px,#f3c5c5 44.06px 45.35px,#eeabab 45.35px 46.65px,#f9e2e2 46.65px 47.95px,#f1b7b7 47.95px 49.24px,#f7d5d5 49.24px 50.54px,#f6d2d2 50.54px 51.83px,#f4c8c8 51.83px 53.13px,#f3c4c4 53.13px 54.43px,#f6d3d3 54.43px 55.72px,#f4c7c7 55.72px 57.02px,#f4c6c6 57.02px 58.31px,#f5cdcd 58.31px 59.61px,#f0b6b6 59.61px 60.90px,#efb0b0 60.90px 62.20px)"></div>
<div class="hc" style="left:46.60px;top:424.90px;width:7.35px;height:62.20px;background:linear-gradient(#d3d3fc 0.00px 1.30px,#d7d7fc 1.30px 2.59px,#c0c0fb 2.59px 3.89px,#b4b4fa 3.89px 5.18px,#d6d6fc 5.18px 6.48px,#f2f2fe 6.48px 7.78px,#ccccfc 7.78px 9.07px,#ebebfe 9.07px 10.37px,#b9b9fa 10.37px 11.66px,#d0d0fc 11.66px 12.96px,#efeffe 12.96px 14.25px,#eaeafe 14.25px 15.55px,#cbcbfc 15.55px 16.85px,#d5d5fc 16.85px 18.14px,#fefeff 18.14px 19.44px,#fcfcff 19.44px 20.73px,#ececfe 20.73px 22.03px,#e8e8fd 22.03px 23.33px,#dcdcfd 23.33px 24.62px,#fefafa 24.62px 25.92px,#fcf2f2 25.92px 27.21px,#fef9f9 27.21px 28.51px,#fafaff 28.51px 29.80px,#fef9f9 29.80px 31.10px,#f5f5fe 31.10px 32.40px,#fffefe 32.40px 33.69px,#fbfbff 33.69px 34.99px,#fafaff 34.99px 36.28px,#fef8f8 36.28px 37.58px,#fae4e4 37.58px 38.88px,#f8dede 38.88px 40.17px,#fae7e7 40.17px 41.47px,#fcf0f0 41.47px 42.76px,#f7d5d5 42.76px 44.06px,#e7e7fd 44.06px 45.35px,#dfdffd 45.35px 46.65px,#e8e8fd 46.65px 47.95px,#efeffe 47.95px 49.24px,#f8f8ff 49.24px 50.54px,#fdf3f3 50.54px 51.83px,#eaeafe 51.83px 53.13px,#fdf3f3 53.13px 54.43px,#ebebfe 54.43px 55.72px,#e7e7fd 55.72px 57.02px,#fdf3f3 57.02px 58.31px,#fef9f9 58.31px 59.61px,#f8f8ff 59.61px 60.90px,#f8f8ff 60.90px 62.20px)"></div>
<div class="hc" style="left:53.93px;top:424.90px;width:7.35px;height:62.20px;background:linear-gradient(#e8e8fd 0.00px 1.30px,#d5d5fc 1.30px 2.59px,#d4d4fc 2.59px 3.89px,#f6f6fe 3.89px 5.18px,#eeeefe 5.18px 6.48px,#fefeff 6.48px 7.78px,#fffdfd 7.78px 9.07px,#e1e1fd 9.07px 10.37px,#eeeefe 10.37px 11.66px,#e9e9fe 11.66px 12.96px,#ebebfe 12.96px 14.25px,#ededfe 14.25px 15.55px,#e4e4fd 15.55px 16.85px,#f0f0fe 16.85px 18.14px,#fef9f9 18.14px 19.44px,#fefafa 19.44px 20.73px,#fdfdff 20.73px 22.03px,#fef9f9 22.03px 23.33px,#fef8f8 23.33px 24.62px,#f4c7c7 24.62px 25.92px,#f9e0e0 25.92px 27.21px,#fbeaea 27.21px 28.51px,#fae5e5 28.51px 29.80px,#f6f6fe 29.80px 31.10px,#fbeded 31.10px 32.40px,#f7d7d7 32.40px 33.69px,#fdf3f3 33.69px 34.99px,#fae6e6 34.99px 36.28px,#fbe9e9 36.28px 37.58px,#fae5e5 37.58px 38.88px,#fae6e6 38.88px 40.17px,#f3c5c5 40.17px 41.47px,#fdfdff 41.47px 42.76px,#fcf2f2 42.76px 44.06px,#fdf4f4 44.06px 45.35px,#fdf3f3 45.35px 46.65px,#fdf4f4 46.65px 47.95px,#f6d4d4 47.95px 49.24px,#f7f7fe 49.24px 50.54px,#f9f9ff 50.54px 51.83px,#fdf7f7 51.83px 53.13px,#eaeafe 53.13px 54.43px,#fafaff 54.43px 55.72px,#f6f6fe 55.72px 57.02px,#f9e1e1 57.02px 58.31px,#fae8e8 58.31px 59.61px,#f9dfdf 59.61px 60.90px,#fae7e7 60.90px 62.20px)"></div>
<div class="hc" style="left:61.27px;top:424.90px;width:7.35px;height:62.20px;background:linear-gradient(#eaeafe 0.00px 1.30px,#e2e2fd 1.30px 2.59px,#dfdffd 2.59px 3.89px,#f9f9ff 3.89px 5.18px,#d9d9fc 5.18px 6.48px,#e1e1fd 6.48px 7.78px,#f8f8ff 7.78px 9.07px,#cbcbfc 9.07px 10.37px,#e9e9fe 10.37px 11.66px,#e4e4fd 11.66px 12.96px,#fffefe 12.96px 14.25px,#e6e6fd 14.25px 15.55px,#fcfcff 15.55px 16.85px,#dfdffd 16.85px 18.14px,#fafaff 18.14px 19.44px,#fbeaea 19.44px 20.73px,#fdf3f3 20.73px 22.03px,#fbecec 22.03px 23.33px,#fafaff 23.33px 24.62px,#f9e1e1 24.62px 25.92px,#f9dfdf 25.92px 27.21px,#fae6e6 27.21px 28.51px,#fbe9e9 28.51px 29.80px,#fbebeb 29.80px 31.10px,#fef8f8 31.10px 32.40px,#ffffff 32.40px 33.69px,#fbeded 33.69px 34.99px,#fae7e7 34.99px 36.28px,#f8dede 36.28px 37.58px,#f4c6c6 37.58px 38.88px,#fcf2f2 38.88px 40.17px,#f6d3d3 40.17px 41.47px,#f6d4d4 41.47px 42.76px,#f7d9d9 42.76px 44.06px,#f7d5d5 44.06px 45.35px,#f4c8c8 45.35px 46.65px,#fae5e5 46.65px 47.95px,#f6f6fe 47.95px 49.24px,#f8dddd 49.24px 50.54px,#f9e1e1 50.54px 51.83px,#f9e1e1 51.83px 53.13px,#f9e0e0 53.13px 54.43px,#f8dcdc 54.43px 55.72px,#fdfdff 55.72px 57.02px,#fae8e8 57.02px 58.31px,#fdf6f6 58.31px 59.61px,#fdf5f5 59.61px 60.90px,#fae7e7 60.90px 62.20px)"></div>
<div class="hc" style="left:68.60px;top:424.90px;width:7.35px;height:62.20px;background:linear-gradient(#9393f8 0.00px 1.30px,#8484f7 1.30px 2.59px,#5656f4 2.59px 3.89px,#9494f8 3.89px 5.18px,#6c6cf5 5.18px 6.48px,#9d9df8 6.48px 7.78px,#9292f8 7.78px 9.07px,#9999f8 9.07px 10.37px,#7878f6 10.37px 11.66px,#8686f7 11.66px 12.96px,#5454f4 12.96px 14.25px,#8080f7 14.25px 15.55px,#5858f4 15.55px 16.85px,#6868f5 16.85px 18.14px,#1e1ef0 18.14px 19.44px,#1e1ef0 19.44px 20.73px,#4848f3 20.73px 22.03px,#2626f1 22.03px 23.33px,#3b3bf2 23.33px 24.62px,#3d3df2 24.62px 25.92px,#7474f6 25.92px 27.21px,#6969f5 27.21px 28.51px,#a8a8f9 28.51px 29.80px,#7a7af6 29.80px 31.10px,#3d3df2 31.10px 32.40px,#9191f8 32.40px 33.69px,#7c7cf6 33.69px 34.99px,#6868f5 34.99px 36.28px,#8181f7 36.28px 37.58px,#9c9cf8 37.58px 38.88px,#9595f8 38.88px 40.17px,#a7a7f9 40.17px 41.47px,#9d9df8 41.47px 42.76px,#9696f8 42.76px 44.06px,#a1a1f9 44.06px 45.35px,#b2b2fa 45.35px 46.65px,#d4d4fc 46.65px 47.95px,#a2a2f9 47.95px 49.24px,#a9a9f9 49.24px 50.54px,#7474f6 50.54px 51.83px,#8f8ff8 51.83px 53.13px,#8686f7 53.13px 54.43px,#9292f8 54.43px 55.72px,#8d8df7 55.72px 57.02px,#9191f8 57.02px 58.31px,#7272f6 58.31px 59.61px,#9292f8 59.61px 60.90px,#8d8df7 60.90px 62.20px)"></div>
<div class="hc" style="left:75.93px;top:424.90px;width:7.35px;height:62.20px;background:linear-gradient(#5a5af4 0.00px 1.30px,#5959f4 1.30px 2.59px,#7d7df6 2.59px 3.89px,#6969f5 3.89px 5.18px,#7a7af6 5.18px 6.48px,#a1a1f9 6.48px 7.78px,#7c7cf6 7.78px 9.07px,#a0a0f9 9.07px 10.37px,#9898f8 10.37px 11.66px,#6060f4 11.66px 12.96px,#c5c5fb 12.96px 14.25px,#b1b1fa 14.25px 15.55px,#8d8df7 15.55px 16.85px,#babafa 16.85px 18.14px,#7b7bf6 18.14px 19.44px,#9090f8 19.44px 20.73px,#8a8af7 20.73px 22.03px,#8c8cf7 22.03px 23.33px,#8282f7 23.33px 24.62px,#7171f6 24.62px 25.92px,#6363f5 25.92px 27.21px,#9090f8 27.21px 28.51px,#6666f5 28.51px 29.80px,#5a5af4 29.80px 31.10px,#7b7bf6 31.10px 32.40px,#5757f4 32.40px 33.69px,#8484f7 33.69px 34.99px,#adadfa 34.99px 36.28px,#8585f7 36.28px 37.58px,#4141f2 37.58px 38.88px,#3939f2 38.88px 40.17px,#5b5bf4 40.17px 41.47px,#2d2df1 41.47px 42.76px,#4f4ff3 42.76px 44.06px,#4444f3 44.06px 45.35px,#6a6af5 45.35px 46.65px,#7474f6 46.65px 47.95px,#6868f5 47.95px 49.24px,#b0b0fa 49.24px 50.54px,#7676f6 50.54px 51.83px,#8686f7 51.83px 53.13px,#7a7af6 53.13px 54.43px,#8282f7 54.43px 55.72px,#7f7ff6 55.72px 57.02px,#6969f5 57.02px 58.31px,#7b7bf6 58.31px 59.61px,#9595f8 59.61px 60.90px,#9f9ff9 60.90px 62.20px)"></div>
<div class="hc" style="left:83.27px;top:424.90px;width:7.35px;height:62.20px;background:linear-gradient(#9595f8 0.00px 1.30px,#cdcdfc 1.30px 2.59px,#a1a1f9 2.59px 3.89px,#aaaaf9 3.89px 5.18px,#aaaaf9 5.18px 6.48px,#a9a9f9 6.48px 7.78px,#8f8ff8 7.78px 9.07px,#9999f8 9.07px 10.37px,#9090f8 10.37px 11.66px,#b7b7fa 11.66px 12.96px,#a1a1f9 12.96px 14.25px,#adadfa 14.25px 15.55px,#afaffa 15.55px 16.85px,#bfbffb 16.85px 18.14px,#b4b4fa 18.14px 19.44px,#a5a5f9 19.44px 20.73px,#9e9ef9 20.73px 22.03px,#7373f6 22.03px 23.33px,#8686f7 23.33px 24.62px,#9494f8 24.62px 25.92px,#9797f8 25.92px 27.21px,#5454f4 27.21px 28.51px,#9b9bf8 28.51px 29.80px,#8080f7 29.80px 31.10px,#9b9bf8 31.10px 32.40px,#c2c2fb 32.40px 33.69px,#8b8bf7 33.69px 34.99px,#8585f7 34.99px 36.28px,#9999f8 36.28px 37.58px,#5f5ff4 37.58px 38.88px,#4747f3 38.88px 40.17px,#5050f3 40.17px 41.47px,#4f4ff3 41.47px 42.76px,#5151f3 42.76px 44.06px,#9292f8 44.06px 45.35px,#a7a7f9 45.35px 46.65px,#b1b1fa 46.65px 47.95px,#9d9df8 47.95px 49.24px,#9797f8 49.24px 50.54px,#2828f1 50.54px 51.83px,#c3c3fb 51.83px 53.13px,#5757f4 53.13px 54.43px,#5e5ef4 54.43px 55.72px,#b9b9fa 55.72px 57.02px,#8383f7 57.02px 58.31px,#c6c6fb 58.31px 59.61px,#7777f6 59.61px 60.90px,#7d7df6 60.90px 62.20px)"></div>
<div class="hc" style="left:90.60px;top:424.90px;width:7.35px;height:62.20px;background:linear-gradient(#dd5353 0.00px 1.30px,#dc4e4e 1.30px 2.59px,#d32121 2.59px 3.89px,#db4b4b 3.89px 5.18px,#dd5656 5.18px 6.48px,#eea9a9 6.48px 7.78px,#f0b2b2 7.78px 9.07px,#e57c7c 9.07px 10.37px,#eb9a9a 10.37px 11.66px,#eca0a0 11.66px 12.96px,#f9e0e0 12.96px 14.25px,#f0b5b5 14.25px 15.55px,#efb1b1 15.55px 16.85px,#f0b6b6 16.85px 18.14px,#fef8f8 18.14px 19.44px,#fae6e6 19.44px 20.73px,#f6d3d3 20.73px 22.03px,#fefafa 22.03px 23.33px,#f6d4d4 23.33px 24.62px,#f4c6c6 24.62px 25.92px,#f9e1e1 25.92px 27.21px,#fcf0f0 27.21px 28.51px,#f9e1e1 28.51px 29.80px,#fbeaea 29.80px 31.10px,#f2bebe 31.10px 32.40px,#fae7e7 32.40px 33.69px,#f2bfbf 33.69px 34.99px,#efaeae 34.99px 36.28px,#f4c7c7 36.28px 37.58px,#e68383 37.58px 38.88px,#eca1a1 38.88px 40.17px,#e99191 40.17px 41.47px,#eb9b9b 41.47px 42.76px,#eca1a1 42.76px 44.06px,#d63030 44.06px 45.35px,#d83c3c 45.35px 46.65px,#e06363 46.65px 47.95px,#db4c4c 47.95px 49.24px,#d63333 49.24px 50.54px,#d52b2b 50.54px 51.83px,#eeacac 51.83px 53.13px,#d52f2f 53.13px 54.43px,#da4646 54.43px 55.72px,#f6d2d2 55.72px 57.02px,#efaeae 57.02px 58.31px,#eea8a8 58.31px 59.61px,#eb9c9c 59.61px 60.90px,#eca1a1 60.90px 62.20px)"></div>
<div class="hc" style="left:97.93px;top:424.90px;width:7.35px;height:62.20px;background:linear-gradient(#eb9999 0.00px 1.30px,#eda7a7 1.30px 2.59px,#e78989 2.59px 3.89px,#eb9c9c 3.89px 5.18px,#e47777 5.18px 6.48px,#e27070 6.48px 7.78px,#e57c7c 7.78px 9.07px,#e37171 9.07px 10.37px,#e37575 10.37px 11.66px,#e78888 11.66px 12.96px,#df5e5e 12.96px 14.25px,#e26e6e 14.25px 15.55px,#da4848 15.55px 16.85px,#dd5656 16.85px 18.14px,#f3c1c1 18.14px 19.44px,#f0b2b2 19.44px 20.73px,#f3c1c1 20.73px 22.03px,#f8dbdb 22.03px 23.33px,#f1b9b9 23.33px 24.62px,#e99191 24.62px 25.92px,#eca0a0 25.92px 27.21px,#eda4a4 27.21px 28.51px,#e88a8a 28.51px 29.80px,#e99191 29.80px 31.10px,#eda4a4 31.10px 32.40px,#eea8a8 32.40px 33.69px,#f2bcbc 33.69px 34.99px,#f1b8b8 34.99px 36.28px,#f0b6b6 36.28px 37.58px,#f1b9b9 37.58px 38.88px,#f4c8c8 38.88px 40.17px,#f0b4b4 40.17px 41.47px,#f0b3b3 41.47px 42.76px,#f8dcdc 42.76px 44.06px,#f4c8c8 44.06px 45.35px,#fae8e8 45.35px 46.65px,#fae8e8 46.65px 47.95px,#f7d8d8 47.95px 49.24px,#fbe9e9 49.24px 50.54px,#f4c9c9 50.54px 51.83px,#eda5a5 51.83px 53.13px,#f7d9d9 53.13px 54.43px,#f3c4c4 54.43px 55.72px,#f0b3b3 55.72px 57.02px,#f4c9c9 57.02px 58.31px,#f2bcbc 58.31px 59.61px,#f6d1d1 59.61px 60.90px,#fae6e6 60.90px 62.20px)"></div>
<div class="hc" style="left:105.27px;top:424.90px;width:7.35px;height:62.20px;background:linear-gradient(#f2c0c0 0.00px 1.30px,#ea9797 1.30px 2.59px,#e47979 2.59px 3.89px,#ec9e9e 3.89px 5.18px,#e57e7e 5.18px 6.48px,#eda6a6 6.48px 7.78px,#e57c7c 7.78px 9.07px,#e88c8c 9.07px 10.37px,#e99292 10.37px 11.66px,#e68181 11.66px 12.96px,#efb0b0 12.96px 14.25px,#de5a5a 14.25px 15.55px,#d94242 15.55px 16.85px,#e47676 16.85px 18.14px,#f7d6d6 18.14px 19.44px,#f3c5c5 19.44px 20.73px,#eea8a8 20.73px 22.03px,#fae5e5 22.03px 23.33px,#eea8a8 23.33px 24.62px,#eda3a3 24.62px 25.92px,#eda5a5 25.92px 27.21px,#e47676 27.21px 28.51px,#f3c4c4 28.51px 29.80px,#eb9b9b 29.80px 31.10px,#efb1b1 31.10px 32.40px,#f0b4b4 32.40px 33.69px,#eca2a2 33.69px 34.99px,#eeacac 34.99px 36.28px,#efadad 36.28px 37.58px,#f8dcdc 37.58px 38.88px,#f3c5c5 38.88px 40.17px,#f2bcbc 40.17px 41.47px,#f3c1c1 41.47px 42.76px,#f2c0c0 42.76px 44.06px,#fbecec 44.06px 45.35px,#fcf0f0 45.35px 46.65px,#f9e3e3 46.65px 47.95px,#f7d6d6 47.95px 49.24px,#f6d0d0 49.24px 50.54px,#fdf3f3 50.54px 51.83px,#fceeee 51.83px 53.13px,#f6d3d3 53.13px 54.43px,#fbeded 54.43px 55.72px,#f7d8d8 55.72px 57.02px,#f7d9d9 57.02px 58.31px,#f4c7c7 58.31px 59.61px,#f8dddd 59.61px 60.90px,#f6d0d0 60.90px 62.20px)"></div>
<div class="lg" style="left:115.3px;top:424.9px"></div>
<svg width="520" height="511" viewBox="0 0 520 511">
<text x="58.1" y="7.5" class="gt">Group 1</text>
<text x="0" y="0" transform="translate(120.9,36.5) rotate(-90)" class="lgl" textLength="25.5" lengthAdjust="spacing">-2 -1 0 1 2 3</text>
<text x="58.1" y="91.4" class="gt">Group 2</text>
<text x="0" y="0" transform="translate(120.9,120.2) rotate(-90)" class="lgl" textLength="25.5" lengthAdjust="spacing">-2 -1 0 1 2 3</text>
<text x="57.2" y="172.9" class="gt">Group 3</text>
<text x="0" y="0" transform="translate(120.9,202.1) rotate(-90)" class="lgl" textLength="25.5" lengthAdjust="spacing">-2 -1 0 1 2 3</text>
<text x="57.4" y="256.0" class="gt">Group 4</text>
<text x="0" y="0" transform="translate(120.9,285.4) rotate(-90)" class="lgl" textLength="25.5" lengthAdjust="spacing">-2 -1 0 1 2 3</text>
<text x="58.2" y="338.8" class="gt">Group 5</text>
<text x="0" y="0" transform="translate(120.9,368.1) rotate(-90)" class="lgl" textLength="25.5" lengthAdjust="spacing">-2 -1 0 1 2 3</text>
<text x="58.2" y="421.7" class="gt">Group 6</text>
<text x="0" y="0" transform="translate(120.9,451.1) rotate(-90)" class="lgl" textLength="25.5" lengthAdjust="spacing">-2 -1 0 1 2 3</text>
<rect x="144.7" y="8.3" width="115.8" height="63.0" fill="none" stroke="#b4b4b4" stroke-width="1"/>
<line x1="142.7" y1="21.1" x2="144.7" y2="21.1" stroke="#c8c8c8" stroke-width="0.6"/>
<text x="0" y="0" transform="translate(138.2,21.1) rotate(-90)" class="yt">1.0</text>
<line x1="142.7" y1="37.0" x2="144.7" y2="37.0" stroke="#c8c8c8" stroke-width="0.6"/>
<text x="0" y="0" transform="translate(138.2,37.0) rotate(-90)" class="yt">0.0</text>
<line x1="142.7" y1="52.9" x2="144.7" y2="52.9" stroke="#c8c8c8" stroke-width="0.6"/>
<text x="0" y="0" transform="translate(138.2,52.9) rotate(-90)" class="yt">-1.0</text>
<line x1="142.7" y1="68.8" x2="144.7" y2="68.8" stroke="#c8c8c8" stroke-width="0.6"/>
<text x="0" y="0" transform="translate(138.2,68.8) rotate(-90)" class="yt">-2.0</text>
<line x1="149.0" y1="71.3" x2="149.0" y2="72.9" stroke="#c8c8c8" stroke-width="0.6"/>
<line x1="176.2" y1="71.3" x2="176.2" y2="72.9" stroke="#c8c8c8" stroke-width="0.6"/>
<line x1="203.0" y1="71.3" x2="203.0" y2="72.9" stroke="#c8c8c8" stroke-width="0.6"/>
<line x1="229.5" y1="71.3" x2="229.5" y2="72.9" stroke="#c8c8c8" stroke-width="0.6"/>
<line x1="256.1" y1="71.3" x2="256.1" y2="72.9" stroke="#c8c8c8" stroke-width="0.6"/>
<polyline fill="none" stroke="#1c1c1c" stroke-width="1.05" stroke-linejoin="round" points="149.0,50.8 176.2,47.9 203.0,42.9 229.5,22.9 256.1,14.8"/>
<circle cx="149.0" cy="50.8" r="1.55" fill="#0a0a0a"/>
<circle cx="176.2" cy="47.9" r="1.55" fill="#0a0a0a"/>
<circle cx="203.0" cy="42.9" r="1.55" fill="#0a0a0a"/>
<circle cx="229.5" cy="22.9" r="1.55" fill="#0a0a0a"/>
<circle cx="256.1" cy="14.8" r="1.55" fill="#0a0a0a"/>
<text x="202.2" y="17.5" class="gn">1431 Genes</text>
<text x="271.6" y="20.1" class="go">Cellular protein catabolic process</text>
<text x="518.4" y="20.1" class="pv">7.07E-12</text>
<text x="271.6" y="32.3" class="go">Proteolysis in cellular protein catabolic process</text>
<text x="518.4" y="32.3" class="pv">1.32E-11</text>
<text x="271.6" y="44.5" class="go">Protein catabolic process</text>
<text x="518.4" y="44.5" class="pv">3.85E-11</text>
<text x="271.6" y="56.8" class="go">Cellular macromolecule catabolic process</text>
<text x="518.4" y="56.8" class="pv">4.45E-11</text>
<text x="271.6" y="69.0" class="go">Modification-dependent protein catabolic process</text>
<text x="518.4" y="69.0" class="pv">4.48E-11</text>
<rect x="144.5" y="93.2" width="115.1" height="62.2" fill="none" stroke="#b4b4b4" stroke-width="1"/>
<line x1="142.5" y1="104.9" x2="144.5" y2="104.9" stroke="#c8c8c8" stroke-width="0.6"/>
<text x="0" y="0" transform="translate(138.0,104.9) rotate(-90)" class="yt">1.0</text>
<line x1="142.5" y1="120.8" x2="144.5" y2="120.8" stroke="#c8c8c8" stroke-width="0.6"/>
<text x="0" y="0" transform="translate(138.0,120.8) rotate(-90)" class="yt">0.0</text>
<line x1="142.5" y1="136.7" x2="144.5" y2="136.7" stroke="#c8c8c8" stroke-width="0.6"/>
<text x="0" y="0" transform="translate(138.0,136.7) rotate(-90)" class="yt">-1.0</text>
<line x1="142.5" y1="152.6" x2="144.5" y2="152.6" stroke="#c8c8c8" stroke-width="0.6"/>
<text x="0" y="0" transform="translate(138.0,152.6) rotate(-90)" class="yt">-2.0</text>
<line x1="148.1" y1="155.4" x2="148.1" y2="157.0" stroke="#c8c8c8" stroke-width="0.6"/>
<line x1="175.5" y1="155.4" x2="175.5" y2="157.0" stroke="#c8c8c8" stroke-width="0.6"/>
<line x1="202.5" y1="155.4" x2="202.5" y2="157.0" stroke="#c8c8c8" stroke-width="0.6"/>
<line x1="229.1" y1="155.4" x2="229.1" y2="157.0" stroke="#c8c8c8" stroke-width="0.6"/>
<line x1="255.6" y1="155.4" x2="255.6" y2="157.0" stroke="#c8c8c8" stroke-width="0.6"/>
<polyline fill="none" stroke="#1c1c1c" stroke-width="1.2" stroke-linejoin="round" points="148.1,123.8 175.5,127.0 202.5,130.8 229.1,123.8 255.6,95.0"/>
<circle cx="148.1" cy="123.8" r="1.55" fill="#0a0a0a"/>
<circle cx="175.5" cy="127.0" r="1.55" fill="#0a0a0a"/>
<circle cx="202.5" cy="130.8" r="1.55" fill="#0a0a0a"/>
<circle cx="229.1" cy="123.8" r="1.55" fill="#0a0a0a"/>
<circle cx="255.6" cy="95.0" r="1.55" fill="#0a0a0a"/>
<text x="202.2" y="102.4" class="gn">569 Genes</text>
<text x="271.4" y="102.5" class="go">Macromolecule catabolic process</text>
<text x="518.4" y="102.5" class="pv">4.23E-06</text>
<text x="271.4" y="114.7" class="go">Cell death</text>
<text x="518.4" y="114.7" class="pv">6.42E-06</text>
<text x="271.4" y="126.9" class="go">Death</text>
<text x="518.4" y="126.9" class="pv">7.56E-06</text>
<text x="271.4" y="139.2" class="go">Programmed cell death</text>
<text x="518.4" y="139.2" class="pv">1.33E-04</text>
<text x="271.4" y="151.4" class="go">Apoptosis</text>
<text x="518.4" y="151.4" class="pv">2.20E-04</text>
<rect x="143.9" y="176.1" width="115.5" height="61.3" fill="none" stroke="#b4b4b4" stroke-width="1"/>
<line x1="141.9" y1="186.9" x2="143.9" y2="186.9" stroke="#c8c8c8" stroke-width="0.6"/>
<text x="0" y="0" transform="translate(137.4,186.9) rotate(-90)" class="yt">1.0</text>
<line x1="141.9" y1="202.8" x2="143.9" y2="202.8" stroke="#c8c8c8" stroke-width="0.6"/>
<text x="0" y="0" transform="translate(137.4,202.8) rotate(-90)" class="yt">0.0</text>
<line x1="141.9" y1="218.7" x2="143.9" y2="218.7" stroke="#c8c8c8" stroke-width="0.6"/>
<text x="0" y="0" transform="translate(137.4,218.7) rotate(-90)" class="yt">-1.0</text>
<line x1="141.9" y1="234.6" x2="143.9" y2="234.6" stroke="#c8c8c8" stroke-width="0.6"/>
<text x="0" y="0" transform="translate(137.4,234.6) rotate(-90)" class="yt">-2.0</text>
<line x1="147.4" y1="237.4" x2="147.4" y2="239.0" stroke="#c8c8c8" stroke-width="0.6"/>
<line x1="175.3" y1="237.4" x2="175.3" y2="239.0" stroke="#c8c8c8" stroke-width="0.6"/>
<line x1="201.9" y1="237.4" x2="201.9" y2="239.0" stroke="#c8c8c8" stroke-width="0.6"/>
<line x1="228.4" y1="237.4" x2="228.4" y2="239.0" stroke="#c8c8c8" stroke-width="0.6"/>
<line x1="255.2" y1="237.4" x2="255.2" y2="239.0" stroke="#c8c8c8" stroke-width="0.6"/>
<polyline fill="none" stroke="#1c1c1c" stroke-width="1.35" stroke-linejoin="round" points="147.4,187.2 175.3,190.2 201.9,195.4 228.4,220.3 255.2,219.7"/>
<circle cx="147.4" cy="187.2" r="1.55" fill="#0a0a0a"/>
<circle cx="175.3" cy="190.2" r="1.55" fill="#0a0a0a"/>
<circle cx="201.9" cy="195.4" r="1.55" fill="#0a0a0a"/>
<circle cx="228.4" cy="220.3" r="1.55" fill="#0a0a0a"/>
<circle cx="255.2" cy="219.7" r="1.55" fill="#0a0a0a"/>
<text x="202.2" y="185.3" class="gn">1472 Genes</text>
<text x="271.6" y="185.1" class="go">Translation</text>
<text x="518.4" y="185.1" class="pv">2.47E-35</text>
<text x="271.6" y="197.4" class="go">ncRNA metabolic process</text>
<text x="518.4" y="197.4" class="pv">2.06E-33</text>
<text x="271.6" y="209.7" class="go">Translational elongation</text>
<text x="518.4" y="209.7" class="pv">2.50E-30</text>
<text x="271.6" y="222.0" class="go">Ribonucleoprotein complex biogenesis</text>
<text x="518.4" y="222.0" class="pv">1.38E-28</text>
<text x="271.6" y="234.3" class="go">Ribosome biogenesis</text>
<text x="518.4" y="234.3" class="pv">1.86E-25</text>
<rect x="144.4" y="258.8" width="115.0" height="62.5" fill="none" stroke="#b4b4b4" stroke-width="1"/>
<line x1="142.4" y1="269.6" x2="144.4" y2="269.6" stroke="#c8c8c8" stroke-width="0.6"/>
<text x="0" y="0" transform="translate(137.9,269.6) rotate(-90)" class="yt">1.0</text>
<line x1="142.4" y1="285.5" x2="144.4" y2="285.5" stroke="#c8c8c8" stroke-width="0.6"/>
<text x="0" y="0" transform="translate(137.9,285.5) rotate(-90)" class="yt">0.0</text>
<line x1="142.4" y1="301.4" x2="144.4" y2="301.4" stroke="#c8c8c8" stroke-width="0.6"/>
<text x="0" y="0" transform="translate(137.9,301.4) rotate(-90)" class="yt">-1.0</text>
<line x1="142.4" y1="317.3" x2="144.4" y2="317.3" stroke="#c8c8c8" stroke-width="0.6"/>
<text x="0" y="0" transform="translate(137.9,317.3) rotate(-90)" class="yt">-2.0</text>
<line x1="148.5" y1="321.3" x2="148.5" y2="322.9" stroke="#c8c8c8" stroke-width="0.6"/>
<line x1="175.5" y1="321.3" x2="175.5" y2="322.9" stroke="#c8c8c8" stroke-width="0.6"/>
<line x1="202.5" y1="321.3" x2="202.5" y2="322.9" stroke="#c8c8c8" stroke-width="0.6"/>
<line x1="228.4" y1="321.3" x2="228.4" y2="322.9" stroke="#c8c8c8" stroke-width="0.6"/>
<line x1="255.2" y1="321.3" x2="255.2" y2="322.9" stroke="#c8c8c8" stroke-width="0.6"/>
<polyline fill="none" stroke="#1c1c1c" stroke-width="1.05" stroke-linejoin="round" points="148.5,277.2 175.5,276.6 202.5,275.4 228.4,286.1 255.2,314.5"/>
<circle cx="148.5" cy="277.2" r="1.55" fill="#0a0a0a"/>
<circle cx="175.5" cy="276.6" r="1.55" fill="#0a0a0a"/>
<circle cx="202.5" cy="275.4" r="1.55" fill="#0a0a0a"/>
<circle cx="228.4" cy="286.1" r="1.55" fill="#0a0a0a"/>
<circle cx="255.2" cy="314.5" r="1.55" fill="#0a0a0a"/>
<text x="202.2" y="268.0" class="gn">895 Genes</text>
<text x="271.6" y="268.8" class="go">DNA metabolic process</text>
<text x="518.4" y="268.8" class="pv">5.68E-46</text>
<text x="271.6" y="281.0" class="go">DNA replication</text>
<text x="518.4" y="281.0" class="pv">2.69E-32</text>
<text x="271.6" y="293.2" class="go">DNA repair</text>
<text x="518.4" y="293.2" class="pv">1.50E-30</text>
<text x="271.6" y="305.5" class="go">Response to DNA damage stimulus</text>
<text x="518.4" y="305.5" class="pv">6.94E-30</text>
<text x="271.6" y="317.7" class="go">Cell cycle</text>
<text x="518.4" y="317.7" class="pv">3.00E-29</text>
<rect x="145.2" y="342.2" width="115.3" height="62.0" fill="none" stroke="#b4b4b4" stroke-width="1"/>
<line x1="143.2" y1="352.5" x2="145.2" y2="352.5" stroke="#c8c8c8" stroke-width="0.6"/>
<text x="0" y="0" transform="translate(138.7,352.5) rotate(-90)" class="yt">1.0</text>
<line x1="143.2" y1="368.4" x2="145.2" y2="368.4" stroke="#c8c8c8" stroke-width="0.6"/>
<text x="0" y="0" transform="translate(138.7,368.4) rotate(-90)" class="yt">0.0</text>
<line x1="143.2" y1="384.3" x2="145.2" y2="384.3" stroke="#c8c8c8" stroke-width="0.6"/>
<text x="0" y="0" transform="translate(138.7,384.3) rotate(-90)" class="yt">-1.0</text>
<line x1="143.2" y1="400.2" x2="145.2" y2="400.2" stroke="#c8c8c8" stroke-width="0.6"/>
<text x="0" y="0" transform="translate(138.7,400.2) rotate(-90)" class="yt">-2.0</text>
<line x1="149.0" y1="404.2" x2="149.0" y2="405.8" stroke="#c8c8c8" stroke-width="0.6"/>
<line x1="175.8" y1="404.2" x2="175.8" y2="405.8" stroke="#c8c8c8" stroke-width="0.6"/>
<line x1="203.5" y1="404.2" x2="203.5" y2="405.8" stroke="#c8c8c8" stroke-width="0.6"/>
<line x1="229.3" y1="404.2" x2="229.3" y2="405.8" stroke="#c8c8c8" stroke-width="0.6"/>
<line x1="255.6" y1="404.2" x2="255.6" y2="405.8" stroke="#c8c8c8" stroke-width="0.6"/>
<polyline fill="none" stroke="#1c1c1c" stroke-width="1.3" stroke-linejoin="round" points="149.0,376.3 175.8,370.4 203.5,359.3 229.3,352.3 255.6,387.7"/>
<circle cx="149.0" cy="376.3" r="1.55" fill="#0a0a0a"/>
<circle cx="175.8" cy="370.4" r="1.55" fill="#0a0a0a"/>
<circle cx="203.5" cy="359.3" r="1.55" fill="#0a0a0a"/>
<circle cx="229.3" cy="352.3" r="1.55" fill="#0a0a0a"/>
<circle cx="255.6" cy="387.7" r="1.55" fill="#0a0a0a"/>
<text x="202.2" y="351.4" class="gn">553 Genes</text>
<text x="272.3" y="351.5" class="go">Organelle fission</text>
<text x="518.4" y="351.5" class="pv">9.44E-54</text>
<text x="272.3" y="363.8" class="go">M phase of mitotic cell cycle</text>
<text x="518.4" y="363.8" class="pv">3.16E-53</text>
<text x="272.3" y="376.1" class="go">M phase</text>
<text x="518.4" y="376.1" class="pv">4.89E-53</text>
<text x="272.3" y="388.4" class="go">Nuclear division</text>
<text x="518.4" y="388.4" class="pv">1.48E-52</text>
<text x="272.3" y="400.7" class="go">Mitosis</text>
<text x="518.4" y="400.7" class="pv">1.48E-52</text>
<rect x="145.4" y="425.0" width="115.6" height="62.3" fill="none" stroke="#b4b4b4" stroke-width="1"/>
<line x1="143.4" y1="435.9" x2="145.4" y2="435.9" stroke="#c8c8c8" stroke-width="0.6"/>
<text x="0" y="0" transform="translate(138.9,435.9) rotate(-90)" class="yt">1.0</text>
<line x1="143.4" y1="451.8" x2="145.4" y2="451.8" stroke="#c8c8c8" stroke-width="0.6"/>
<text x="0" y="0" transform="translate(138.9,451.8) rotate(-90)" class="yt">0.0</text>
<line x1="143.4" y1="467.7" x2="145.4" y2="467.7" stroke="#c8c8c8" stroke-width="0.6"/>
<text x="0" y="0" transform="translate(138.9,467.7) rotate(-90)" class="yt">-1.0</text>
<line x1="143.4" y1="483.6" x2="145.4" y2="483.6" stroke="#c8c8c8" stroke-width="0.6"/>
<text x="0" y="0" transform="translate(138.9,483.6) rotate(-90)" class="yt">-2.0</text>
<line x1="149.9" y1="487.3" x2="149.9" y2="488.9" stroke="#c8c8c8" stroke-width="0.6"/>
<line x1="177.1" y1="487.3" x2="177.1" y2="488.9" stroke="#c8c8c8" stroke-width="0.6"/>
<line x1="203.0" y1="487.3" x2="203.0" y2="488.9" stroke="#c8c8c8" stroke-width="0.6"/>
<line x1="229.5" y1="487.3" x2="229.5" y2="488.9" stroke="#c8c8c8" stroke-width="0.6"/>
<line x1="256.5" y1="487.3" x2="256.5" y2="488.9" stroke="#c8c8c8" stroke-width="0.6"/>
<polyline fill="none" stroke="#1c1c1c" stroke-width="1.15" stroke-linejoin="round" points="149.9,440.6 177.1,444.7 203.0,453.6 229.5,476.5 256.5,443.8"/>
<circle cx="149.9" cy="440.6" r="1.55" fill="#0a0a0a"/>
<circle cx="177.1" cy="444.7" r="1.55" fill="#0a0a0a"/>
<circle cx="203.0" cy="453.6" r="1.55" fill="#0a0a0a"/>
<circle cx="229.5" cy="476.5" r="1.55" fill="#0a0a0a"/>
<circle cx="256.5" cy="443.8" r="1.55" fill="#0a0a0a"/>
<text x="202.2" y="434.2" class="gn">284 Genes</text>
<text x="272.4" y="434.4" class="go" style="font-size:9.1px">Protein folding</text>
<text x="518.4" y="434.4" class="pv">3.26E-04</text>
<text x="272.4" y="446.9" class="go" style="font-size:9.1px">Positive regulation of T cell differentiation</text>
<text x="518.4" y="446.9" class="pv">0.001250564</text>
<text x="272.4" y="459.3" class="go" style="font-size:9.1px">Positive regulation of lymphocyte differentiation</text>
<text x="518.4" y="459.3" class="pv">0.001758483</text>
<text x="272.4" y="471.8" class="go" style="font-size:9.1px">ncRNA processing</text>
<text x="518.4" y="471.8" class="pv">0.001992229</text>
<text x="272.4" y="484.3" class="go" style="font-size:9.1px">ncRNA metabolic process</text>
<text x="518.4" y="484.3" class="pv">0.002411043</text>
<rect x="4.4" y="488.6" width="19.2" height="1.5" fill="#111"/>
<rect x="26.0" y="488.6" width="19.0" height="1.5" fill="#111"/>
<rect x="48.5" y="488.6" width="20.0" height="1.5" fill="#111"/>
<rect x="70.5" y="488.6" width="19.5" height="1.5" fill="#111"/>
<rect x="92.3" y="488.6" width="19.2" height="1.5" fill="#111"/>
<text x="0" y="0" transform="translate(13.5,500.4) rotate(-45)" class="xl">Pro E</text>
<text x="0" y="0" transform="translate(31.3,499.8) rotate(-45)" class="xl">Early</text>
<text x="0" y="0" transform="translate(36.8,505.0) rotate(-45)" class="xl">Baso</text>
<text x="0" y="0" transform="translate(55.9,498.4) rotate(-45)" class="xl">Late</text>
<text x="0" y="0" transform="translate(60.1,503.3) rotate(-45)" class="xl">Baso</text>
<text x="0" y="0" transform="translate(78.2,498.7) rotate(-45)" class="xl">Poly</text>
<text x="0" y="0" transform="translate(101.6,498.2) rotate(-45)" class="xl">Ortho</text>
<text x="0" y="0" transform="translate(154.5,499.2) rotate(-45)" class="xl">Pro E</text>
<text x="0" y="0" transform="translate(179.5,499.5) rotate(-45)" class="xl">Early</text>
<text x="0" y="0" transform="translate(184.5,504.5) rotate(-45)" class="xl">Baso</text>
<text x="0" y="0" transform="translate(205.2,499.8) rotate(-45)" class="xl">Late</text>
<text x="0" y="0" transform="translate(210.5,504.2) rotate(-45)" class="xl">Baso</text>
<text x="0" y="0" transform="translate(231.8,499.5) rotate(-45)" class="xl">Poly</text>
<text x="0" y="0" transform="translate(253.9,498.9) rotate(-45)" class="xl">Ortho</text>
<text x="0" y="0" transform="translate(130.2,246.8) rotate(-90)" class="axl">Relative Expression Level</text>
</svg>
</body></html>
